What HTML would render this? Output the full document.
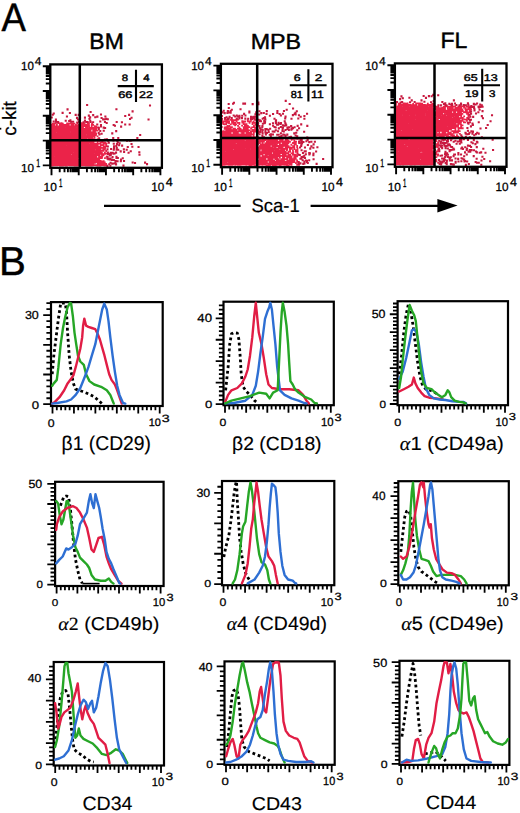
<!DOCTYPE html>
<html><head><meta charset="utf-8"><style>
html,body{margin:0;padding:0;background:#fff;}
svg{display:block;}
text{font-family:"Liberation Sans", sans-serif;font-size:100px;fill:#000;stroke:#000;text-rendering:geometricPrecision;}
</style></head><body>
<svg width="520" height="813" viewBox="0 0 520 813">
<rect width="520" height="813" fill="#fff"/>
<path fill="#eb2349" d="M51.73 122.64h1.8v1.8h-1.8zM53.46 122.62h1.8v1.8h-1.8zM54.86 122.37h1.8v1.8h-1.8zM57.55 122.29h1.8v1.8h-1.8zM59.34 122.57h1.8v1.8h-1.8zM60.68 122.3h1.8v1.8h-1.8zM61.86 122.72h1.8v1.8h-1.8zM66.2 122.51h1.8v1.8h-1.8zM67.64 122.59h1.8v1.8h-1.8zM69.01 122.46h1.8v1.8h-1.8zM70.46 122.35h1.8v1.8h-1.8zM72.17 122.67h1.8v1.8h-1.8zM73.62 122.7h1.8v1.8h-1.8zM76.53 122.29h1.8v1.8h-1.8zM80.92 122.34h1.8v1.8h-1.8zM82.45 122.44h1.8v1.8h-1.8zM83.72 122.28h1.8v1.8h-1.8zM86.77 122.47h1.8v1.8h-1.8zM88.06 122.34h1.8v1.8h-1.8zM91.12 122.74h1.8v1.8h-1.8zM50.27 123.91h1.8v1.8h-1.8zM51.93 123.93h1.8v1.8h-1.8zM53.45 123.85h1.8v1.8h-1.8zM55.97 123.82h1.8v1.8h-1.8zM58.99 123.75h1.8v1.8h-1.8zM60.61 123.75h1.8v1.8h-1.8zM62.15 123.93h1.8v1.8h-1.8zM63.32 124.07h1.8v1.8h-1.8zM64.98 123.9h1.8v1.8h-1.8zM66.43 124.01h1.8v1.8h-1.8zM67.83 123.77h1.8v1.8h-1.8zM70.58 123.73h1.8v1.8h-1.8zM72.16 124.06h1.8v1.8h-1.8zM74.83 123.89h1.8v1.8h-1.8zM76.37 124.2h1.8v1.8h-1.8zM77.88 123.97h1.8v1.8h-1.8zM79.19 124.04h1.8v1.8h-1.8zM80.64 123.97h1.8v1.8h-1.8zM82.3 123.97h1.8v1.8h-1.8zM83.55 124.02h1.8v1.8h-1.8zM85.22 123.95h1.8v1.8h-1.8zM86.86 123.86h1.8v1.8h-1.8zM88 123.98h1.8v1.8h-1.8zM90.89 123.99h1.8v1.8h-1.8zM92.25 123.98h1.8v1.8h-1.8zM50.22 125.23h1.8v1.8h-1.8zM51.95 125.42h1.8v1.8h-1.8zM53.39 125.52h1.8v1.8h-1.8zM54.58 125.42h1.8v1.8h-1.8zM56.01 125.33h1.8v1.8h-1.8zM57.84 125.46h1.8v1.8h-1.8zM59.3 125.29h1.8v1.8h-1.8zM60.37 125.37h1.8v1.8h-1.8zM61.94 125.45h1.8v1.8h-1.8zM63.49 125.54h1.8v1.8h-1.8zM64.71 125.58h1.8v1.8h-1.8zM66.35 125.47h1.8v1.8h-1.8zM67.95 125.43h1.8v1.8h-1.8zM69.31 125.39h1.8v1.8h-1.8zM70.55 125.33h1.8v1.8h-1.8zM72.25 125.62h1.8v1.8h-1.8zM73.78 125.15h1.8v1.8h-1.8zM75.07 125.61h1.8v1.8h-1.8zM76.62 125.51h1.8v1.8h-1.8zM78.17 125.23h1.8v1.8h-1.8zM79.33 125.18h1.8v1.8h-1.8zM80.77 125.64h1.8v1.8h-1.8zM82.47 125.47h1.8v1.8h-1.8zM83.58 125.31h1.8v1.8h-1.8zM85.05 125.59h1.8v1.8h-1.8zM86.81 125.16h1.8v1.8h-1.8zM88.14 125.21h1.8v1.8h-1.8zM90.78 125.39h1.8v1.8h-1.8zM93.7 125.31h1.8v1.8h-1.8zM95.22 125.47h1.8v1.8h-1.8zM50.25 126.83h1.8v1.8h-1.8zM51.79 127.08h1.8v1.8h-1.8zM53.3 127.05h1.8v1.8h-1.8zM54.88 127.02h1.8v1.8h-1.8zM55.97 126.66h1.8v1.8h-1.8zM57.72 127.05h1.8v1.8h-1.8zM59.09 126.68h1.8v1.8h-1.8zM60.61 126.74h1.8v1.8h-1.8zM62 126.89h1.8v1.8h-1.8zM63.27 126.89h1.8v1.8h-1.8zM65.13 126.78h1.8v1.8h-1.8zM66.54 126.73h1.8v1.8h-1.8zM67.57 126.84h1.8v1.8h-1.8zM69.31 126.76h1.8v1.8h-1.8zM70.67 126.97h1.8v1.8h-1.8zM72.18 126.73h1.8v1.8h-1.8zM73.53 127.05h1.8v1.8h-1.8zM74.83 126.87h1.8v1.8h-1.8zM76.71 126.66h1.8v1.8h-1.8zM78.09 127.02h1.8v1.8h-1.8zM79.35 127h1.8v1.8h-1.8zM80.9 126.94h1.8v1.8h-1.8zM82.11 126.84h1.8v1.8h-1.8zM85.08 126.93h1.8v1.8h-1.8zM86.48 126.87h1.8v1.8h-1.8zM88.32 126.93h1.8v1.8h-1.8zM89.64 127.09h1.8v1.8h-1.8zM90.87 126.9h1.8v1.8h-1.8zM92.27 126.93h1.8v1.8h-1.8zM93.94 127.02h1.8v1.8h-1.8zM95.17 126.64h1.8v1.8h-1.8zM96.86 126.6h1.8v1.8h-1.8zM50.29 128.31h1.8v1.8h-1.8zM51.97 128.35h1.8v1.8h-1.8zM53.28 128.1h1.8v1.8h-1.8zM54.65 128.4h1.8v1.8h-1.8zM56.12 128.16h1.8v1.8h-1.8zM57.45 128.34h1.8v1.8h-1.8zM58.96 128.22h1.8v1.8h-1.8zM60.7 128.05h1.8v1.8h-1.8zM62.18 128.32h1.8v1.8h-1.8zM63.24 128.46h1.8v1.8h-1.8zM65.02 128.22h1.8v1.8h-1.8zM66.59 128.08h1.8v1.8h-1.8zM67.94 128.28h1.8v1.8h-1.8zM69.29 128.26h1.8v1.8h-1.8zM70.57 128.42h1.8v1.8h-1.8zM72.27 128.2h1.8v1.8h-1.8zM73.54 128.37h1.8v1.8h-1.8zM74.98 128.25h1.8v1.8h-1.8zM76.58 128.38h1.8v1.8h-1.8zM78.02 128.21h1.8v1.8h-1.8zM79.51 128.39h1.8v1.8h-1.8zM81.1 128.52h1.8v1.8h-1.8zM82.4 128.3h1.8v1.8h-1.8zM83.82 128.05h1.8v1.8h-1.8zM85.27 128.49h1.8v1.8h-1.8zM86.66 128.29h1.8v1.8h-1.8zM88.12 128.48h1.8v1.8h-1.8zM89.65 128.08h1.8v1.8h-1.8zM91.11 128.05h1.8v1.8h-1.8zM92.58 128.49h1.8v1.8h-1.8zM94.06 128.51h1.8v1.8h-1.8zM95.21 128.41h1.8v1.8h-1.8zM50.18 129.73h1.8v1.8h-1.8zM51.82 129.82h1.8v1.8h-1.8zM53.37 129.69h1.8v1.8h-1.8zM54.73 129.6h1.8v1.8h-1.8zM56.27 129.99h1.8v1.8h-1.8zM57.54 129.63h1.8v1.8h-1.8zM58.95 129.81h1.8v1.8h-1.8zM60.6 129.69h1.8v1.8h-1.8zM62.04 129.67h1.8v1.8h-1.8zM63.51 129.83h1.8v1.8h-1.8zM64.9 129.87h1.8v1.8h-1.8zM66.39 129.54h1.8v1.8h-1.8zM67.73 129.82h1.8v1.8h-1.8zM69.18 129.5h1.8v1.8h-1.8zM70.65 129.82h1.8v1.8h-1.8zM72.27 129.98h1.8v1.8h-1.8zM73.67 129.94h1.8v1.8h-1.8zM75.03 129.98h1.8v1.8h-1.8zM76.62 129.56h1.8v1.8h-1.8zM78.07 129.65h1.8v1.8h-1.8zM79.36 129.94h1.8v1.8h-1.8zM81.09 129.82h1.8v1.8h-1.8zM82.29 129.56h1.8v1.8h-1.8zM83.92 129.54h1.8v1.8h-1.8zM85.17 129.63h1.8v1.8h-1.8zM86.67 129.74h1.8v1.8h-1.8zM88.05 129.92h1.8v1.8h-1.8zM89.66 129.87h1.8v1.8h-1.8zM92.31 129.92h1.8v1.8h-1.8zM94.03 129.99h1.8v1.8h-1.8zM95.4 129.64h1.8v1.8h-1.8zM96.81 129.74h1.8v1.8h-1.8zM50.65 131.44h1.8v1.8h-1.8zM51.83 131.13h1.8v1.8h-1.8zM53.17 131.42h1.8v1.8h-1.8zM54.52 130.96h1.8v1.8h-1.8zM56.42 131.1h1.8v1.8h-1.8zM57.71 131.4h1.8v1.8h-1.8zM59.1 131.18h1.8v1.8h-1.8zM60.76 131.02h1.8v1.8h-1.8zM62.09 131.34h1.8v1.8h-1.8zM63.49 131.34h1.8v1.8h-1.8zM65.07 131.09h1.8v1.8h-1.8zM66.11 131.02h1.8v1.8h-1.8zM67.59 131.34h1.8v1.8h-1.8zM69 131.37h1.8v1.8h-1.8zM70.88 131.2h1.8v1.8h-1.8zM72.26 130.97h1.8v1.8h-1.8zM73.82 130.99h1.8v1.8h-1.8zM74.95 131.24h1.8v1.8h-1.8zM76.29 131.27h1.8v1.8h-1.8zM77.81 131.33h1.8v1.8h-1.8zM79.5 131.35h1.8v1.8h-1.8zM80.82 131.41h1.8v1.8h-1.8zM82.43 131.24h1.8v1.8h-1.8zM83.97 130.95h1.8v1.8h-1.8zM84.96 131.07h1.8v1.8h-1.8zM86.76 131.06h1.8v1.8h-1.8zM88.17 131.39h1.8v1.8h-1.8zM89.46 131.33h1.8v1.8h-1.8zM91.19 131.4h1.8v1.8h-1.8zM92.55 131.19h1.8v1.8h-1.8zM94.08 131.36h1.8v1.8h-1.8zM50.58 132.64h1.8v1.8h-1.8zM51.82 132.8h1.8v1.8h-1.8zM53.21 132.65h1.8v1.8h-1.8zM54.62 132.79h1.8v1.8h-1.8zM56.07 132.86h1.8v1.8h-1.8zM57.79 132.81h1.8v1.8h-1.8zM58.85 132.77h1.8v1.8h-1.8zM60.38 132.68h1.8v1.8h-1.8zM62.19 132.5h1.8v1.8h-1.8zM63.5 132.82h1.8v1.8h-1.8zM64.76 132.84h1.8v1.8h-1.8zM66.18 132.58h1.8v1.8h-1.8zM67.92 132.9h1.8v1.8h-1.8zM69.04 132.46h1.8v1.8h-1.8zM70.7 132.51h1.8v1.8h-1.8zM72.25 132.49h1.8v1.8h-1.8zM73.62 132.42h1.8v1.8h-1.8zM74.89 132.7h1.8v1.8h-1.8zM76.5 132.72h1.8v1.8h-1.8zM77.77 132.55h1.8v1.8h-1.8zM79.58 132.78h1.8v1.8h-1.8zM80.73 132.56h1.8v1.8h-1.8zM82.15 132.67h1.8v1.8h-1.8zM83.7 132.81h1.8v1.8h-1.8zM85.41 132.6h1.8v1.8h-1.8zM86.71 132.77h1.8v1.8h-1.8zM88.11 132.68h1.8v1.8h-1.8zM89.65 132.77h1.8v1.8h-1.8zM90.78 132.57h1.8v1.8h-1.8zM92.43 132.55h1.8v1.8h-1.8zM93.83 132.88h1.8v1.8h-1.8zM95.22 132.41h1.8v1.8h-1.8zM50.36 134.35h1.8v1.8h-1.8zM51.86 133.98h1.8v1.8h-1.8zM53.25 133.9h1.8v1.8h-1.8zM54.77 134.34h1.8v1.8h-1.8zM55.95 134.25h1.8v1.8h-1.8zM57.46 134.12h1.8v1.8h-1.8zM59.28 134.07h1.8v1.8h-1.8zM60.74 134.13h1.8v1.8h-1.8zM62.07 134.26h1.8v1.8h-1.8zM63.46 134.33h1.8v1.8h-1.8zM64.76 134.18h1.8v1.8h-1.8zM66.28 134.13h1.8v1.8h-1.8zM67.96 134.03h1.8v1.8h-1.8zM69.12 134.27h1.8v1.8h-1.8zM70.83 134.25h1.8v1.8h-1.8zM72.01 134.14h1.8v1.8h-1.8zM73.62 134.02h1.8v1.8h-1.8zM75.06 134.09h1.8v1.8h-1.8zM76.39 134.31h1.8v1.8h-1.8zM78 134.26h1.8v1.8h-1.8zM79.26 133.99h1.8v1.8h-1.8zM80.96 134.11h1.8v1.8h-1.8zM82.42 134.26h1.8v1.8h-1.8zM83.61 134.31h1.8v1.8h-1.8zM84.96 134.01h1.8v1.8h-1.8zM86.9 133.94h1.8v1.8h-1.8zM87.88 134.27h1.8v1.8h-1.8zM89.63 133.85h1.8v1.8h-1.8zM91.23 134.21h1.8v1.8h-1.8zM92.61 134.05h1.8v1.8h-1.8zM94.1 134.13h1.8v1.8h-1.8zM95.14 133.9h1.8v1.8h-1.8zM50.3 135.38h1.8v1.8h-1.8zM51.75 135.41h1.8v1.8h-1.8zM53.55 135.65h1.8v1.8h-1.8zM54.67 135.79h1.8v1.8h-1.8zM56.4 135.78h1.8v1.8h-1.8zM57.52 135.69h1.8v1.8h-1.8zM59.02 135.67h1.8v1.8h-1.8zM60.75 135.42h1.8v1.8h-1.8zM61.94 135.32h1.8v1.8h-1.8zM63.56 135.48h1.8v1.8h-1.8zM65.12 135.76h1.8v1.8h-1.8zM66.56 135.46h1.8v1.8h-1.8zM67.97 135.59h1.8v1.8h-1.8zM69.01 135.56h1.8v1.8h-1.8zM70.56 135.54h1.8v1.8h-1.8zM72.24 135.78h1.8v1.8h-1.8zM73.72 135.74h1.8v1.8h-1.8zM74.94 135.44h1.8v1.8h-1.8zM76.6 135.72h1.8v1.8h-1.8zM77.98 135.61h1.8v1.8h-1.8zM79.46 135.37h1.8v1.8h-1.8zM81 135.61h1.8v1.8h-1.8zM82.29 135.42h1.8v1.8h-1.8zM83.63 135.74h1.8v1.8h-1.8zM85.14 135.63h1.8v1.8h-1.8zM86.68 135.34h1.8v1.8h-1.8zM88.21 135.36h1.8v1.8h-1.8zM89.74 135.36h1.8v1.8h-1.8zM90.93 135.4h1.8v1.8h-1.8zM92.66 135.65h1.8v1.8h-1.8zM93.71 135.36h1.8v1.8h-1.8zM96.58 135.4h1.8v1.8h-1.8zM50.4 136.8h1.8v1.8h-1.8zM52.01 137h1.8v1.8h-1.8zM53.28 136.77h1.8v1.8h-1.8zM54.94 137.03h1.8v1.8h-1.8zM56.01 136.81h1.8v1.8h-1.8zM57.63 137.1h1.8v1.8h-1.8zM59.1 137.2h1.8v1.8h-1.8zM60.5 137.2h1.8v1.8h-1.8zM61.93 137.05h1.8v1.8h-1.8zM63.42 136.96h1.8v1.8h-1.8zM64.85 136.86h1.8v1.8h-1.8zM66.12 136.9h1.8v1.8h-1.8zM67.62 136.79h1.8v1.8h-1.8zM69.37 137.02h1.8v1.8h-1.8zM70.86 136.89h1.8v1.8h-1.8zM72.35 137.21h1.8v1.8h-1.8zM73.81 137.06h1.8v1.8h-1.8zM74.84 137.03h1.8v1.8h-1.8zM76.5 136.88h1.8v1.8h-1.8zM78.04 136.9h1.8v1.8h-1.8zM79.18 137.04h1.8v1.8h-1.8zM80.66 137.11h1.8v1.8h-1.8zM82.41 137.24h1.8v1.8h-1.8zM83.95 137.15h1.8v1.8h-1.8zM85.29 137h1.8v1.8h-1.8zM86.82 136.78h1.8v1.8h-1.8zM88.21 137.01h1.8v1.8h-1.8zM89.48 136.77h1.8v1.8h-1.8zM91.24 136.96h1.8v1.8h-1.8zM93.66 136.77h1.8v1.8h-1.8zM50.32 138.54h1.8v1.8h-1.8zM51.73 138.51h1.8v1.8h-1.8zM53.2 138.43h1.8v1.8h-1.8zM54.58 138.53h1.8v1.8h-1.8zM55.98 138.56h1.8v1.8h-1.8zM57.71 138.64h1.8v1.8h-1.8zM59.01 138.32h1.8v1.8h-1.8zM60.44 138.54h1.8v1.8h-1.8zM62.23 138.65h1.8v1.8h-1.8zM63.47 138.23h1.8v1.8h-1.8zM64.76 138.22h1.8v1.8h-1.8zM66.37 138.28h1.8v1.8h-1.8zM68.01 138.3h1.8v1.8h-1.8zM69.05 138.48h1.8v1.8h-1.8zM70.47 138.6h1.8v1.8h-1.8zM72.3 138.65h1.8v1.8h-1.8zM73.36 138.48h1.8v1.8h-1.8zM75.16 138.52h1.8v1.8h-1.8zM76.5 138.35h1.8v1.8h-1.8zM77.98 138.32h1.8v1.8h-1.8zM79.37 138.5h1.8v1.8h-1.8zM80.89 138.69h1.8v1.8h-1.8zM82.47 138.54h1.8v1.8h-1.8zM83.72 138.29h1.8v1.8h-1.8zM85.36 138.32h1.8v1.8h-1.8zM86.62 138.67h1.8v1.8h-1.8zM87.92 138.43h1.8v1.8h-1.8zM89.67 138.34h1.8v1.8h-1.8zM91.06 138.53h1.8v1.8h-1.8zM92.64 138.24h1.8v1.8h-1.8zM93.87 138.69h1.8v1.8h-1.8zM96.68 138.21h1.8v1.8h-1.8zM50.51 139.72h1.8v1.8h-1.8zM51.62 140.12h1.8v1.8h-1.8zM53.46 139.9h1.8v1.8h-1.8zM54.63 139.83h1.8v1.8h-1.8zM56.31 140h1.8v1.8h-1.8zM57.82 139.96h1.8v1.8h-1.8zM59.24 139.76h1.8v1.8h-1.8zM60.7 140.07h1.8v1.8h-1.8zM62.15 140.03h1.8v1.8h-1.8zM63.68 139.81h1.8v1.8h-1.8zM65.09 140.07h1.8v1.8h-1.8zM66.47 139.84h1.8v1.8h-1.8zM67.99 140.02h1.8v1.8h-1.8zM69.24 139.97h1.8v1.8h-1.8zM70.88 139.68h1.8v1.8h-1.8zM72.35 139.79h1.8v1.8h-1.8zM73.74 139.95h1.8v1.8h-1.8zM75.02 140.1h1.8v1.8h-1.8zM76.51 140.04h1.8v1.8h-1.8zM78.19 140.03h1.8v1.8h-1.8zM79.35 139.81h1.8v1.8h-1.8zM80.97 139.69h1.8v1.8h-1.8zM82.3 139.9h1.8v1.8h-1.8zM83.91 139.88h1.8v1.8h-1.8zM85.27 140.1h1.8v1.8h-1.8zM86.41 139.79h1.8v1.8h-1.8zM88 139.8h1.8v1.8h-1.8zM89.32 139.94h1.8v1.8h-1.8zM91.14 139.9h1.8v1.8h-1.8zM92.6 140.13h1.8v1.8h-1.8zM94.07 139.92h1.8v1.8h-1.8zM95.24 139.67h1.8v1.8h-1.8zM96.73 139.92h1.8v1.8h-1.8zM98.24 139.84h1.8v1.8h-1.8zM101.3 140.03h1.8v1.8h-1.8zM50.36 141.44h1.8v1.8h-1.8zM51.62 141.33h1.8v1.8h-1.8zM53.3 141.12h1.8v1.8h-1.8zM54.7 141.2h1.8v1.8h-1.8zM56.34 141.54h1.8v1.8h-1.8zM57.42 141.38h1.8v1.8h-1.8zM59.09 141.41h1.8v1.8h-1.8zM60.63 141.18h1.8v1.8h-1.8zM62.09 141.34h1.8v1.8h-1.8zM63.64 141.59h1.8v1.8h-1.8zM64.81 141.39h1.8v1.8h-1.8zM66.29 141.46h1.8v1.8h-1.8zM67.91 141.4h1.8v1.8h-1.8zM69.24 141.31h1.8v1.8h-1.8zM70.7 141.56h1.8v1.8h-1.8zM72.17 141.56h1.8v1.8h-1.8zM73.72 141.31h1.8v1.8h-1.8zM74.95 141.36h1.8v1.8h-1.8zM76.7 141.24h1.8v1.8h-1.8zM77.97 141.48h1.8v1.8h-1.8zM79.4 141.12h1.8v1.8h-1.8zM81.08 141.27h1.8v1.8h-1.8zM82.45 141.21h1.8v1.8h-1.8zM83.82 141.32h1.8v1.8h-1.8zM85.14 141.12h1.8v1.8h-1.8zM86.9 141.21h1.8v1.8h-1.8zM88.18 141.38h1.8v1.8h-1.8zM89.44 141.44h1.8v1.8h-1.8zM91.13 141.2h1.8v1.8h-1.8zM92.31 141.39h1.8v1.8h-1.8zM96.62 141.52h1.8v1.8h-1.8zM99.63 141.33h1.8v1.8h-1.8zM100.9 141.18h1.8v1.8h-1.8zM102.69 141.17h1.8v1.8h-1.8zM104.18 141.43h1.8v1.8h-1.8zM50.23 143.03h1.8v1.8h-1.8zM51.94 142.6h1.8v1.8h-1.8zM53.25 142.62h1.8v1.8h-1.8zM54.99 142.69h1.8v1.8h-1.8zM56.37 142.82h1.8v1.8h-1.8zM57.48 142.58h1.8v1.8h-1.8zM59.03 143.01h1.8v1.8h-1.8zM60.53 142.69h1.8v1.8h-1.8zM62.12 142.91h1.8v1.8h-1.8zM63.34 142.61h1.8v1.8h-1.8zM64.95 142.75h1.8v1.8h-1.8zM66.37 142.86h1.8v1.8h-1.8zM68.05 142.61h1.8v1.8h-1.8zM69.17 142.67h1.8v1.8h-1.8zM70.63 142.74h1.8v1.8h-1.8zM72.11 142.9h1.8v1.8h-1.8zM73.66 142.8h1.8v1.8h-1.8zM74.99 142.98h1.8v1.8h-1.8zM76.73 142.58h1.8v1.8h-1.8zM77.9 142.75h1.8v1.8h-1.8zM79.18 142.98h1.8v1.8h-1.8zM80.82 142.86h1.8v1.8h-1.8zM82.12 142.65h1.8v1.8h-1.8zM83.51 142.94h1.8v1.8h-1.8zM85.16 142.74h1.8v1.8h-1.8zM86.45 142.96h1.8v1.8h-1.8zM87.86 142.74h1.8v1.8h-1.8zM89.77 142.91h1.8v1.8h-1.8zM91.07 142.59h1.8v1.8h-1.8zM92.61 142.9h1.8v1.8h-1.8zM93.7 142.55h1.8v1.8h-1.8zM95.44 142.93h1.8v1.8h-1.8zM96.81 143.02h1.8v1.8h-1.8zM98.45 142.81h1.8v1.8h-1.8zM99.82 142.57h1.8v1.8h-1.8zM102.41 142.63h1.8v1.8h-1.8zM104.23 142.58h1.8v1.8h-1.8zM105.71 142.57h1.8v1.8h-1.8zM50.16 144.15h1.8v1.8h-1.8zM51.84 144.38h1.8v1.8h-1.8zM53.25 144.22h1.8v1.8h-1.8zM54.53 144.23h1.8v1.8h-1.8zM56.11 144.39h1.8v1.8h-1.8zM57.82 144.04h1.8v1.8h-1.8zM58.93 144.43h1.8v1.8h-1.8zM60.45 144.29h1.8v1.8h-1.8zM61.98 144.48h1.8v1.8h-1.8zM63.43 144.37h1.8v1.8h-1.8zM64.67 144.12h1.8v1.8h-1.8zM66.53 144.07h1.8v1.8h-1.8zM67.98 144.48h1.8v1.8h-1.8zM69.39 144.35h1.8v1.8h-1.8zM70.94 144.44h1.8v1.8h-1.8zM72.11 144.06h1.8v1.8h-1.8zM73.75 144.17h1.8v1.8h-1.8zM75.29 144.29h1.8v1.8h-1.8zM76.73 144.26h1.8v1.8h-1.8zM78.11 144.42h1.8v1.8h-1.8zM79.6 144.47h1.8v1.8h-1.8zM80.65 144.25h1.8v1.8h-1.8zM82.11 144.45h1.8v1.8h-1.8zM83.67 144.35h1.8v1.8h-1.8zM85.27 144.25h1.8v1.8h-1.8zM86.64 144.19h1.8v1.8h-1.8zM87.86 144.26h1.8v1.8h-1.8zM89.57 144.27h1.8v1.8h-1.8zM90.8 144.46h1.8v1.8h-1.8zM92.61 144.43h1.8v1.8h-1.8zM94.05 144.13h1.8v1.8h-1.8zM95.55 144.02h1.8v1.8h-1.8zM96.74 144.38h1.8v1.8h-1.8zM99.83 144.15h1.8v1.8h-1.8zM100.98 144.32h1.8v1.8h-1.8zM102.64 144.18h1.8v1.8h-1.8zM105.26 144.04h1.8v1.8h-1.8zM50.56 145.59h1.8v1.8h-1.8zM52.02 145.46h1.8v1.8h-1.8zM53.5 145.48h1.8v1.8h-1.8zM54.86 145.64h1.8v1.8h-1.8zM56.19 145.59h1.8v1.8h-1.8zM57.65 145.49h1.8v1.8h-1.8zM59.03 145.58h1.8v1.8h-1.8zM60.69 145.88h1.8v1.8h-1.8zM62.03 145.81h1.8v1.8h-1.8zM63.23 145.84h1.8v1.8h-1.8zM64.82 145.8h1.8v1.8h-1.8zM66.57 145.57h1.8v1.8h-1.8zM67.76 145.53h1.8v1.8h-1.8zM69.48 145.73h1.8v1.8h-1.8zM70.7 145.5h1.8v1.8h-1.8zM72.04 145.8h1.8v1.8h-1.8zM73.46 145.47h1.8v1.8h-1.8zM74.87 145.51h1.8v1.8h-1.8zM76.41 145.74h1.8v1.8h-1.8zM78.15 145.57h1.8v1.8h-1.8zM79.38 145.92h1.8v1.8h-1.8zM80.86 145.82h1.8v1.8h-1.8zM82.31 145.81h1.8v1.8h-1.8zM83.57 145.51h1.8v1.8h-1.8zM85.4 145.9h1.8v1.8h-1.8zM86.88 145.65h1.8v1.8h-1.8zM88.11 145.66h1.8v1.8h-1.8zM89.65 145.86h1.8v1.8h-1.8zM91.16 145.56h1.8v1.8h-1.8zM92.49 145.91h1.8v1.8h-1.8zM93.92 145.95h1.8v1.8h-1.8zM95.21 145.58h1.8v1.8h-1.8zM96.84 145.56h1.8v1.8h-1.8zM98.07 145.95h1.8v1.8h-1.8zM99.64 145.51h1.8v1.8h-1.8zM102.71 145.49h1.8v1.8h-1.8zM103.8 145.69h1.8v1.8h-1.8zM105.59 145.45h1.8v1.8h-1.8zM50.2 147.16h1.8v1.8h-1.8zM51.93 147.11h1.8v1.8h-1.8zM53.44 147.1h1.8v1.8h-1.8zM54.99 147.36h1.8v1.8h-1.8zM56.01 147.17h1.8v1.8h-1.8zM57.7 147.29h1.8v1.8h-1.8zM59.08 147.33h1.8v1.8h-1.8zM60.41 147.31h1.8v1.8h-1.8zM62.19 147.22h1.8v1.8h-1.8zM63.35 146.93h1.8v1.8h-1.8zM64.96 147.32h1.8v1.8h-1.8zM66.45 147.22h1.8v1.8h-1.8zM67.97 147.11h1.8v1.8h-1.8zM69.47 147.01h1.8v1.8h-1.8zM70.86 147.06h1.8v1.8h-1.8zM72.29 147h1.8v1.8h-1.8zM73.72 147.26h1.8v1.8h-1.8zM75.17 147.24h1.8v1.8h-1.8zM76.32 147.31h1.8v1.8h-1.8zM77.82 147.15h1.8v1.8h-1.8zM79.22 147h1.8v1.8h-1.8zM80.93 147.17h1.8v1.8h-1.8zM82.23 147.03h1.8v1.8h-1.8zM83.9 146.94h1.8v1.8h-1.8zM85.2 147.09h1.8v1.8h-1.8zM86.5 147.22h1.8v1.8h-1.8zM88.3 147.11h1.8v1.8h-1.8zM89.74 147.13h1.8v1.8h-1.8zM91.18 146.96h1.8v1.8h-1.8zM92.55 147.04h1.8v1.8h-1.8zM93.89 147.34h1.8v1.8h-1.8zM95.27 147.27h1.8v1.8h-1.8zM96.72 147.04h1.8v1.8h-1.8zM98.29 147.14h1.8v1.8h-1.8zM99.76 146.97h1.8v1.8h-1.8zM100.95 146.91h1.8v1.8h-1.8zM102.79 147h1.8v1.8h-1.8zM104.22 146.91h1.8v1.8h-1.8zM50.53 148.44h1.8v1.8h-1.8zM51.67 148.76h1.8v1.8h-1.8zM53.11 148.76h1.8v1.8h-1.8zM54.57 148.54h1.8v1.8h-1.8zM55.97 148.44h1.8v1.8h-1.8zM57.41 148.72h1.8v1.8h-1.8zM58.97 148.6h1.8v1.8h-1.8zM60.77 148.52h1.8v1.8h-1.8zM61.78 148.37h1.8v1.8h-1.8zM63.55 148.66h1.8v1.8h-1.8zM64.83 148.38h1.8v1.8h-1.8zM66.13 148.79h1.8v1.8h-1.8zM67.8 148.61h1.8v1.8h-1.8zM69.26 148.67h1.8v1.8h-1.8zM70.74 148.64h1.8v1.8h-1.8zM72.14 148.61h1.8v1.8h-1.8zM73.47 148.61h1.8v1.8h-1.8zM75.3 148.51h1.8v1.8h-1.8zM76.5 148.43h1.8v1.8h-1.8zM78.1 148.43h1.8v1.8h-1.8zM79.39 148.43h1.8v1.8h-1.8zM81.04 148.45h1.8v1.8h-1.8zM82.37 148.82h1.8v1.8h-1.8zM83.56 148.84h1.8v1.8h-1.8zM85.36 148.78h1.8v1.8h-1.8zM86.88 148.37h1.8v1.8h-1.8zM88.15 148.68h1.8v1.8h-1.8zM89.39 148.44h1.8v1.8h-1.8zM91.04 148.54h1.8v1.8h-1.8zM92.57 148.42h1.8v1.8h-1.8zM93.65 148.8h1.8v1.8h-1.8zM95.58 148.62h1.8v1.8h-1.8zM96.61 148.57h1.8v1.8h-1.8zM98.08 148.74h1.8v1.8h-1.8zM99.5 148.82h1.8v1.8h-1.8zM102.37 148.36h1.8v1.8h-1.8zM104.03 148.79h1.8v1.8h-1.8zM50.56 149.84h1.8v1.8h-1.8zM51.72 149.85h1.8v1.8h-1.8zM53.37 149.9h1.8v1.8h-1.8zM54.88 150.01h1.8v1.8h-1.8zM55.99 149.91h1.8v1.8h-1.8zM57.7 150.23h1.8v1.8h-1.8zM59.14 149.98h1.8v1.8h-1.8zM60.64 150.08h1.8v1.8h-1.8zM61.93 150.02h1.8v1.8h-1.8zM63.23 150.05h1.8v1.8h-1.8zM64.91 150.09h1.8v1.8h-1.8zM66.55 149.88h1.8v1.8h-1.8zM68 149.9h1.8v1.8h-1.8zM69.22 150.23h1.8v1.8h-1.8zM70.94 149.86h1.8v1.8h-1.8zM72.18 149.91h1.8v1.8h-1.8zM73.85 149.92h1.8v1.8h-1.8zM75.08 150.02h1.8v1.8h-1.8zM76.7 150.1h1.8v1.8h-1.8zM77.88 150.27h1.8v1.8h-1.8zM79.37 149.84h1.8v1.8h-1.8zM80.85 150h1.8v1.8h-1.8zM82.09 149.91h1.8v1.8h-1.8zM83.72 149.99h1.8v1.8h-1.8zM84.99 150.01h1.8v1.8h-1.8zM86.73 150.2h1.8v1.8h-1.8zM88.01 150.13h1.8v1.8h-1.8zM89.62 150.29h1.8v1.8h-1.8zM90.91 150.05h1.8v1.8h-1.8zM92.33 149.91h1.8v1.8h-1.8zM94.09 150.13h1.8v1.8h-1.8zM95.43 150.3h1.8v1.8h-1.8zM96.64 149.91h1.8v1.8h-1.8zM98.25 150.14h1.8v1.8h-1.8zM99.81 149.88h1.8v1.8h-1.8zM101.09 149.82h1.8v1.8h-1.8zM102.49 149.92h1.8v1.8h-1.8zM105.29 150.11h1.8v1.8h-1.8zM50.28 151.57h1.8v1.8h-1.8zM51.73 151.73h1.8v1.8h-1.8zM53.2 151.7h1.8v1.8h-1.8zM54.71 151.42h1.8v1.8h-1.8zM56.43 151.32h1.8v1.8h-1.8zM57.77 151.69h1.8v1.8h-1.8zM58.98 151.57h1.8v1.8h-1.8zM60.58 151.58h1.8v1.8h-1.8zM61.88 151.27h1.8v1.8h-1.8zM63.7 151.41h1.8v1.8h-1.8zM64.71 151.69h1.8v1.8h-1.8zM66.3 151.34h1.8v1.8h-1.8zM67.64 151.42h1.8v1.8h-1.8zM69.11 151.61h1.8v1.8h-1.8zM70.79 151.58h1.8v1.8h-1.8zM71.93 151.57h1.8v1.8h-1.8zM73.78 151.54h1.8v1.8h-1.8zM75.05 151.68h1.8v1.8h-1.8zM76.54 151.46h1.8v1.8h-1.8zM78.13 151.32h1.8v1.8h-1.8zM79.37 151.72h1.8v1.8h-1.8zM80.94 151.42h1.8v1.8h-1.8zM82.45 151.49h1.8v1.8h-1.8zM83.68 151.5h1.8v1.8h-1.8zM85.35 151.6h1.8v1.8h-1.8zM86.82 151.59h1.8v1.8h-1.8zM88.22 151.56h1.8v1.8h-1.8zM89.55 151.5h1.8v1.8h-1.8zM90.76 151.71h1.8v1.8h-1.8zM92.37 151.33h1.8v1.8h-1.8zM93.78 151.39h1.8v1.8h-1.8zM95.52 151.31h1.8v1.8h-1.8zM96.75 151.53h1.8v1.8h-1.8zM98.08 151.25h1.8v1.8h-1.8zM99.86 151.55h1.8v1.8h-1.8zM100.95 151.74h1.8v1.8h-1.8zM103.96 151.63h1.8v1.8h-1.8zM50.51 152.93h1.8v1.8h-1.8zM51.78 152.94h1.8v1.8h-1.8zM53.3 153.03h1.8v1.8h-1.8zM54.86 152.79h1.8v1.8h-1.8zM56.41 152.83h1.8v1.8h-1.8zM57.9 153.06h1.8v1.8h-1.8zM59.35 153.15h1.8v1.8h-1.8zM60.65 153.07h1.8v1.8h-1.8zM62.02 152.75h1.8v1.8h-1.8zM63.57 153.06h1.8v1.8h-1.8zM65.12 152.7h1.8v1.8h-1.8zM66.34 152.76h1.8v1.8h-1.8zM67.7 152.81h1.8v1.8h-1.8zM69.01 152.78h1.8v1.8h-1.8zM70.67 152.79h1.8v1.8h-1.8zM72.11 152.97h1.8v1.8h-1.8zM73.35 153.2h1.8v1.8h-1.8zM75.08 152.85h1.8v1.8h-1.8zM76.73 152.99h1.8v1.8h-1.8zM78.19 152.75h1.8v1.8h-1.8zM79.38 152.92h1.8v1.8h-1.8zM80.8 152.89h1.8v1.8h-1.8zM82.42 153.08h1.8v1.8h-1.8zM83.88 153.11h1.8v1.8h-1.8zM85.38 153.06h1.8v1.8h-1.8zM86.88 152.87h1.8v1.8h-1.8zM88.3 153.02h1.8v1.8h-1.8zM89.71 152.81h1.8v1.8h-1.8zM90.9 153.14h1.8v1.8h-1.8zM92.27 153.07h1.8v1.8h-1.8zM94.12 153.15h1.8v1.8h-1.8zM95.56 153.03h1.8v1.8h-1.8zM96.76 152.89h1.8v1.8h-1.8zM98.19 153.02h1.8v1.8h-1.8zM99.87 153.03h1.8v1.8h-1.8zM101.27 153.17h1.8v1.8h-1.8zM102.64 153.15h1.8v1.8h-1.8zM104.15 152.97h1.8v1.8h-1.8zM105.59 152.76h1.8v1.8h-1.8zM50.4 154.58h1.8v1.8h-1.8zM51.98 154.34h1.8v1.8h-1.8zM53.14 154.61h1.8v1.8h-1.8zM54.67 154.31h1.8v1.8h-1.8zM56.19 154.23h1.8v1.8h-1.8zM57.87 154.52h1.8v1.8h-1.8zM59.35 154.42h1.8v1.8h-1.8zM60.53 154.36h1.8v1.8h-1.8zM61.79 154.26h1.8v1.8h-1.8zM63.2 154.32h1.8v1.8h-1.8zM64.88 154.42h1.8v1.8h-1.8zM66.42 154.18h1.8v1.8h-1.8zM67.72 154.61h1.8v1.8h-1.8zM69.36 154.21h1.8v1.8h-1.8zM70.6 154.64h1.8v1.8h-1.8zM72.28 154.38h1.8v1.8h-1.8zM73.57 154.15h1.8v1.8h-1.8zM74.93 154.43h1.8v1.8h-1.8zM76.61 154.32h1.8v1.8h-1.8zM77.84 154.25h1.8v1.8h-1.8zM79.36 154.28h1.8v1.8h-1.8zM80.83 154.48h1.8v1.8h-1.8zM82.18 154.41h1.8v1.8h-1.8zM83.84 154.36h1.8v1.8h-1.8zM85.11 154.4h1.8v1.8h-1.8zM86.67 154.4h1.8v1.8h-1.8zM88.11 154.49h1.8v1.8h-1.8zM89.45 154.28h1.8v1.8h-1.8zM91.24 154.27h1.8v1.8h-1.8zM92.61 154.42h1.8v1.8h-1.8zM93.84 154.43h1.8v1.8h-1.8zM95.49 154.36h1.8v1.8h-1.8zM96.86 154.28h1.8v1.8h-1.8zM98.45 154.6h1.8v1.8h-1.8zM101.16 154.64h1.8v1.8h-1.8zM102.63 154.54h1.8v1.8h-1.8zM50.39 156.06h1.8v1.8h-1.8zM51.66 155.83h1.8v1.8h-1.8zM53.12 155.71h1.8v1.8h-1.8zM54.96 155.74h1.8v1.8h-1.8zM56.15 155.71h1.8v1.8h-1.8zM57.61 155.74h1.8v1.8h-1.8zM59.02 156.07h1.8v1.8h-1.8zM60.79 155.65h1.8v1.8h-1.8zM61.97 155.83h1.8v1.8h-1.8zM63.52 155.61h1.8v1.8h-1.8zM65.06 156.09h1.8v1.8h-1.8zM66.44 156.03h1.8v1.8h-1.8zM67.62 155.68h1.8v1.8h-1.8zM69.31 155.74h1.8v1.8h-1.8zM70.57 155.83h1.8v1.8h-1.8zM72.39 155.62h1.8v1.8h-1.8zM73.67 155.75h1.8v1.8h-1.8zM75.14 156.05h1.8v1.8h-1.8zM76.4 155.73h1.8v1.8h-1.8zM78.09 155.98h1.8v1.8h-1.8zM79.25 156.03h1.8v1.8h-1.8zM80.67 155.65h1.8v1.8h-1.8zM82.37 155.77h1.8v1.8h-1.8zM83.51 155.83h1.8v1.8h-1.8zM85.03 155.79h1.8v1.8h-1.8zM86.6 155.9h1.8v1.8h-1.8zM87.86 155.74h1.8v1.8h-1.8zM89.46 156.09h1.8v1.8h-1.8zM90.76 156.05h1.8v1.8h-1.8zM92.52 155.69h1.8v1.8h-1.8zM94.13 155.71h1.8v1.8h-1.8zM95.43 155.67h1.8v1.8h-1.8zM98.11 156h1.8v1.8h-1.8zM99.68 155.71h1.8v1.8h-1.8zM101.26 155.83h1.8v1.8h-1.8zM105.68 155.71h1.8v1.8h-1.8zM50.54 157.52h1.8v1.8h-1.8zM51.83 157.16h1.8v1.8h-1.8zM53.15 157.17h1.8v1.8h-1.8zM54.59 157.46h1.8v1.8h-1.8zM56.19 157.34h1.8v1.8h-1.8zM57.58 157.49h1.8v1.8h-1.8zM59.15 157.1h1.8v1.8h-1.8zM60.79 157.18h1.8v1.8h-1.8zM62.01 157.15h1.8v1.8h-1.8zM63.46 157.22h1.8v1.8h-1.8zM64.74 157.5h1.8v1.8h-1.8zM66.41 157.5h1.8v1.8h-1.8zM67.98 157.23h1.8v1.8h-1.8zM69.06 157.28h1.8v1.8h-1.8zM70.88 157.12h1.8v1.8h-1.8zM71.96 157.32h1.8v1.8h-1.8zM73.56 157.54h1.8v1.8h-1.8zM74.98 157.15h1.8v1.8h-1.8zM76.44 157.43h1.8v1.8h-1.8zM77.71 157.07h1.8v1.8h-1.8zM79.2 157.12h1.8v1.8h-1.8zM80.78 157.08h1.8v1.8h-1.8zM82.29 157.3h1.8v1.8h-1.8zM83.7 157.11h1.8v1.8h-1.8zM85.45 157.34h1.8v1.8h-1.8zM86.79 157.2h1.8v1.8h-1.8zM88.01 157.19h1.8v1.8h-1.8zM89.52 157.39h1.8v1.8h-1.8zM90.98 157.48h1.8v1.8h-1.8zM92.21 157.41h1.8v1.8h-1.8zM93.69 157.14h1.8v1.8h-1.8zM95.35 157.5h1.8v1.8h-1.8zM96.86 157.48h1.8v1.8h-1.8zM98.46 157.08h1.8v1.8h-1.8zM99.9 157.17h1.8v1.8h-1.8zM100.92 157.17h1.8v1.8h-1.8zM104.07 157.22h1.8v1.8h-1.8zM50.62 158.96h1.8v1.8h-1.8zM51.98 158.54h1.8v1.8h-1.8zM53.37 159h1.8v1.8h-1.8zM54.66 158.85h1.8v1.8h-1.8zM56.35 158.59h1.8v1.8h-1.8zM57.86 158.69h1.8v1.8h-1.8zM59.06 158.76h1.8v1.8h-1.8zM60.46 158.91h1.8v1.8h-1.8zM62.21 158.79h1.8v1.8h-1.8zM63.39 158.87h1.8v1.8h-1.8zM64.99 158.99h1.8v1.8h-1.8zM66.11 158.87h1.8v1.8h-1.8zM67.87 158.69h1.8v1.8h-1.8zM69.19 158.65h1.8v1.8h-1.8zM70.46 158.76h1.8v1.8h-1.8zM72.12 158.58h1.8v1.8h-1.8zM73.56 158.58h1.8v1.8h-1.8zM74.85 158.52h1.8v1.8h-1.8zM76.55 158.52h1.8v1.8h-1.8zM78.01 158.98h1.8v1.8h-1.8zM79.6 158.75h1.8v1.8h-1.8zM81.05 158.98h1.8v1.8h-1.8zM82.39 158.67h1.8v1.8h-1.8zM83.67 158.8h1.8v1.8h-1.8zM85.31 158.67h1.8v1.8h-1.8zM86.44 158.87h1.8v1.8h-1.8zM88.07 158.95h1.8v1.8h-1.8zM89.79 158.64h1.8v1.8h-1.8zM90.88 158.94h1.8v1.8h-1.8zM92.49 158.89h1.8v1.8h-1.8zM93.72 158.92h1.8v1.8h-1.8zM95.17 158.69h1.8v1.8h-1.8zM96.82 158.6h1.8v1.8h-1.8zM98.36 158.89h1.8v1.8h-1.8zM50.52 160.13h1.8v1.8h-1.8zM51.63 160.2h1.8v1.8h-1.8zM53.38 160.13h1.8v1.8h-1.8zM54.57 160.35h1.8v1.8h-1.8zM56.37 160.43h1.8v1.8h-1.8zM57.67 160.31h1.8v1.8h-1.8zM59.23 160.16h1.8v1.8h-1.8zM60.35 160.09h1.8v1.8h-1.8zM61.96 160.32h1.8v1.8h-1.8zM63.41 160.25h1.8v1.8h-1.8zM65.13 160.11h1.8v1.8h-1.8zM66.24 160.01h1.8v1.8h-1.8zM67.91 160.33h1.8v1.8h-1.8zM69.25 160.09h1.8v1.8h-1.8zM70.57 160.14h1.8v1.8h-1.8zM72.19 160.31h1.8v1.8h-1.8zM73.65 160.06h1.8v1.8h-1.8zM75.17 160.14h1.8v1.8h-1.8zM76.6 160.08h1.8v1.8h-1.8zM77.99 160.11h1.8v1.8h-1.8zM79.47 160.35h1.8v1.8h-1.8zM80.88 160.04h1.8v1.8h-1.8zM82.44 159.95h1.8v1.8h-1.8zM83.65 160h1.8v1.8h-1.8zM85.45 160.16h1.8v1.8h-1.8zM86.74 160.2h1.8v1.8h-1.8zM88.19 160.39h1.8v1.8h-1.8zM89.65 160.09h1.8v1.8h-1.8zM91.21 160.26h1.8v1.8h-1.8zM92.67 160.42h1.8v1.8h-1.8zM93.72 160.33h1.8v1.8h-1.8zM95.5 160.13h1.8v1.8h-1.8zM96.62 160.42h1.8v1.8h-1.8zM98.11 160.31h1.8v1.8h-1.8zM99.65 160.05h1.8v1.8h-1.8zM101.16 160.38h1.8v1.8h-1.8zM102.84 160.15h1.8v1.8h-1.8zM50.32 161.46h1.8v1.8h-1.8zM51.76 161.59h1.8v1.8h-1.8zM53.45 161.7h1.8v1.8h-1.8zM54.79 161.78h1.8v1.8h-1.8zM56.24 161.4h1.8v1.8h-1.8zM57.88 161.61h1.8v1.8h-1.8zM59.12 161.83h1.8v1.8h-1.8zM60.47 161.69h1.8v1.8h-1.8zM61.92 161.81h1.8v1.8h-1.8zM63.4 161.46h1.8v1.8h-1.8zM64.91 161.65h1.8v1.8h-1.8zM66.33 161.87h1.8v1.8h-1.8zM67.99 161.89h1.8v1.8h-1.8zM69.03 161.71h1.8v1.8h-1.8zM70.75 161.77h1.8v1.8h-1.8zM72.36 161.51h1.8v1.8h-1.8zM73.42 161.49h1.8v1.8h-1.8zM74.84 161.48h1.8v1.8h-1.8zM76.6 161.47h1.8v1.8h-1.8zM77.93 161.81h1.8v1.8h-1.8zM79.21 161.81h1.8v1.8h-1.8zM80.69 161.78h1.8v1.8h-1.8zM82.39 161.55h1.8v1.8h-1.8zM83.65 161.44h1.8v1.8h-1.8zM85.39 161.79h1.8v1.8h-1.8zM86.7 161.71h1.8v1.8h-1.8zM88.26 161.44h1.8v1.8h-1.8zM89.67 161.85h1.8v1.8h-1.8zM91.14 161.45h1.8v1.8h-1.8zM92.3 161.56h1.8v1.8h-1.8zM94.05 161.84h1.8v1.8h-1.8zM95.11 161.45h1.8v1.8h-1.8zM96.96 161.81h1.8v1.8h-1.8zM98.46 161.66h1.8v1.8h-1.8zM99.71 161.67h1.8v1.8h-1.8zM101.28 161.54h1.8v1.8h-1.8zM102.42 161.57h1.8v1.8h-1.8zM103.89 161.54h1.8v1.8h-1.8zM50.64 162.99h1.8v1.8h-1.8zM51.92 163.27h1.8v1.8h-1.8zM53.22 163.08h1.8v1.8h-1.8zM54.62 163.18h1.8v1.8h-1.8zM56.03 163.09h1.8v1.8h-1.8zM57.53 163.08h1.8v1.8h-1.8zM59.13 162.97h1.8v1.8h-1.8zM60.66 162.89h1.8v1.8h-1.8zM62.23 163.17h1.8v1.8h-1.8zM63.56 163.04h1.8v1.8h-1.8zM65.13 163.33h1.8v1.8h-1.8zM66.12 163.16h1.8v1.8h-1.8zM67.71 162.93h1.8v1.8h-1.8zM69.05 163.2h1.8v1.8h-1.8zM70.63 162.94h1.8v1.8h-1.8zM72.28 163.13h1.8v1.8h-1.8zM73.61 163.31h1.8v1.8h-1.8zM75.22 163.31h1.8v1.8h-1.8zM76.72 163.19h1.8v1.8h-1.8zM77.96 162.86h1.8v1.8h-1.8zM79.24 162.85h1.8v1.8h-1.8zM80.96 163.26h1.8v1.8h-1.8zM82.54 162.89h1.8v1.8h-1.8zM83.73 162.93h1.8v1.8h-1.8zM85.23 163h1.8v1.8h-1.8zM86.6 163.15h1.8v1.8h-1.8zM87.94 162.92h1.8v1.8h-1.8zM89.68 163.35h1.8v1.8h-1.8zM90.83 163.16h1.8v1.8h-1.8zM92.51 163.3h1.8v1.8h-1.8zM96.99 163.29h1.8v1.8h-1.8zM98.12 163.19h1.8v1.8h-1.8zM99.9 163.21h1.8v1.8h-1.8zM101.23 163.28h1.8v1.8h-1.8zM102.49 163.1h1.8v1.8h-1.8zM104.17 163.26h1.8v1.8h-1.8zM105.27 162.93h1.8v1.8h-1.8zM50.24 164.77h1.8v1.8h-1.8zM51.64 164.78h1.8v1.8h-1.8zM53.21 164.42h1.8v1.8h-1.8zM54.87 164.52h1.8v1.8h-1.8zM56.37 164.41h1.8v1.8h-1.8zM57.83 164.3h1.8v1.8h-1.8zM59.06 164.74h1.8v1.8h-1.8zM60.63 164.58h1.8v1.8h-1.8zM61.9 164.77h1.8v1.8h-1.8zM63.41 164.54h1.8v1.8h-1.8zM65.05 164.75h1.8v1.8h-1.8zM66.12 164.74h1.8v1.8h-1.8zM67.98 164.3h1.8v1.8h-1.8zM69.12 164.37h1.8v1.8h-1.8zM70.57 164.44h1.8v1.8h-1.8zM72 164.52h1.8v1.8h-1.8zM73.74 164.77h1.8v1.8h-1.8zM74.94 164.7h1.8v1.8h-1.8zM76.51 164.77h1.8v1.8h-1.8zM77.81 164.49h1.8v1.8h-1.8zM79.59 164.41h1.8v1.8h-1.8zM80.8 164.56h1.8v1.8h-1.8zM82.17 164.57h1.8v1.8h-1.8zM83.67 164.37h1.8v1.8h-1.8zM85.17 164.71h1.8v1.8h-1.8zM86.51 164.72h1.8v1.8h-1.8zM88.13 164.64h1.8v1.8h-1.8zM89.76 164.66h1.8v1.8h-1.8zM90.83 164.6h1.8v1.8h-1.8zM92.36 164.51h1.8v1.8h-1.8zM93.77 164.31h1.8v1.8h-1.8zM95.4 164.35h1.8v1.8h-1.8zM96.56 164.6h1.8v1.8h-1.8zM98.41 164.7h1.8v1.8h-1.8zM99.68 164.72h1.8v1.8h-1.8zM101.04 164.3h1.8v1.8h-1.8zM102.62 164.55h1.8v1.8h-1.8zM104.15 164.62h1.8v1.8h-1.8zM105.41 164.45h1.8v1.8h-1.8z"/>
<path fill="#c8193f" d="M86.07 104h2.1v2.1h-2.1zM148.96 104.46h2.1v2.1h-2.1zM66.5 108.28h2.1v2.1h-2.1zM115.37 108.24h2.1v2.1h-2.1zM89.57 110.91h2.1v2.1h-2.1zM131.55 110.31h2.1v2.1h-2.1zM52.73 112.47h2.1v2.1h-2.1zM61.56 111.8h2.1v2.1h-2.1zM68.84 111.92h2.1v2.1h-2.1zM51.72 113.73h2.1v2.1h-2.1zM74.64 113.78h2.1v2.1h-2.1zM77.63 113.84h2.1v2.1h-2.1zM92.14 114.09h2.1v2.1h-2.1zM99.94 113.4h2.1v2.1h-2.1zM128.07 113.83h2.1v2.1h-2.1zM65.88 115.38h2.1v2.1h-2.1zM87.8 114.62h2.1v2.1h-2.1zM96.33 115.58h2.1v2.1h-2.1zM104.32 115.41h2.1v2.1h-2.1zM124.19 115.02h2.1v2.1h-2.1zM50.69 116.51h2.1v2.1h-2.1zM75.95 116.78h2.1v2.1h-2.1zM78.97 116.95h2.1v2.1h-2.1zM83.88 116.54h2.1v2.1h-2.1zM89.09 116.3h2.1v2.1h-2.1zM94.22 116.26h2.1v2.1h-2.1zM100.53 116.99h2.1v2.1h-2.1zM130.49 116.7h2.1v2.1h-2.1zM54.86 118.41h2.1v2.1h-2.1zM76.83 118.42h2.1v2.1h-2.1zM88.37 117.77h2.1v2.1h-2.1zM102.07 118.31h2.1v2.1h-2.1zM103.45 118.32h2.1v2.1h-2.1zM105.29 117.84h2.1v2.1h-2.1zM106.76 118.16h2.1v2.1h-2.1zM129.02 118.01h2.1v2.1h-2.1zM147.49 118.4h2.1v2.1h-2.1zM64.68 119.75h2.1v2.1h-2.1zM68.13 119.92h2.1v2.1h-2.1zM69.35 119.32h2.1v2.1h-2.1zM83.88 119.57h2.1v2.1h-2.1zM89.21 119.84h2.1v2.1h-2.1zM52.66 120.52h2.1v2.1h-2.1zM54.98 120.6h2.1v2.1h-2.1zM56.42 121.39h2.1v2.1h-2.1zM57.11 120.9h2.1v2.1h-2.1zM70.09 120.7h2.1v2.1h-2.1zM72.09 120.72h2.1v2.1h-2.1zM76.16 121.39h2.1v2.1h-2.1zM78.09 120.69h2.1v2.1h-2.1zM82.5 121.15h2.1v2.1h-2.1zM85.2 120.91h2.1v2.1h-2.1zM86.61 121h2.1v2.1h-2.1zM89.6 120.89h2.1v2.1h-2.1zM92.08 121.15h2.1v2.1h-2.1zM99.24 120.42h2.1v2.1h-2.1zM103.9 120.91h2.1v2.1h-2.1zM115.64 120.9h2.1v2.1h-2.1zM120.87 121.27h2.1v2.1h-2.1zM105.64 121.92h2.1v2.1h-2.1zM96.2 123.51h2.1v2.1h-2.1zM99.92 124.04h2.1v2.1h-2.1zM112.62 123.99h2.1v2.1h-2.1zM124.16 123.46h2.1v2.1h-2.1zM128.58 123.44h2.1v2.1h-2.1zM99.94 125.51h2.1v2.1h-2.1zM113.89 124.76h2.1v2.1h-2.1zM120.07 125.62h2.1v2.1h-2.1zM97.78 126.83h2.1v2.1h-2.1zM102.64 126.61h2.1v2.1h-2.1zM104.05 126.93h2.1v2.1h-2.1zM97.77 127.98h2.1v2.1h-2.1zM99.19 129.95h2.1v2.1h-2.1zM102.69 129.64h2.1v2.1h-2.1zM115.16 130.04h2.1v2.1h-2.1zM97.67 132.01h2.1v2.1h-2.1zM100.56 132.67h2.1v2.1h-2.1zM111.21 132.3h2.1v2.1h-2.1zM98.36 133.5h2.1v2.1h-2.1zM139.12 133.9h2.1v2.1h-2.1zM98.07 137.13h2.1v2.1h-2.1zM112.18 136.96h2.1v2.1h-2.1zM117.21 137.08h2.1v2.1h-2.1zM136.3 136.96h2.1v2.1h-2.1zM103.89 138.62h2.1v2.1h-2.1zM105.85 138.23h2.1v2.1h-2.1zM106.77 139.67h2.1v2.1h-2.1zM112.39 139.45h2.1v2.1h-2.1zM115.96 139.37h2.1v2.1h-2.1zM126.02 139.69h2.1v2.1h-2.1zM128.81 139.57h2.1v2.1h-2.1zM130.07 139.48h2.1v2.1h-2.1zM107.76 141.62h2.1v2.1h-2.1zM116.66 141.24h2.1v2.1h-2.1zM112.72 142.7h2.1v2.1h-2.1zM115.91 143.09h2.1v2.1h-2.1zM118.6 142.2h2.1v2.1h-2.1zM130.47 143.02h2.1v2.1h-2.1zM118.06 144.26h2.1v2.1h-2.1zM121.08 144.54h2.1v2.1h-2.1zM106.77 145.47h2.1v2.1h-2.1zM112.99 145.16h2.1v2.1h-2.1zM115.29 145.08h2.1v2.1h-2.1zM126.73 145.95h2.1v2.1h-2.1zM131.28 145.67h2.1v2.1h-2.1zM137.48 145.95h2.1v2.1h-2.1zM112.96 147.04h2.1v2.1h-2.1zM115.74 146.93h2.1v2.1h-2.1zM106.43 148.33h2.1v2.1h-2.1zM110.08 148h2.1v2.1h-2.1zM112.75 148.67h2.1v2.1h-2.1zM115.59 148.58h2.1v2.1h-2.1zM117.16 148.74h2.1v2.1h-2.1zM122.83 148.36h2.1v2.1h-2.1zM125.68 148.66h2.1v2.1h-2.1zM119.65 150.35h2.1v2.1h-2.1zM129.72 150.16h2.1v2.1h-2.1zM106.83 151.49h2.1v2.1h-2.1zM109.62 151.67h2.1v2.1h-2.1zM111.63 151.72h2.1v2.1h-2.1zM115.01 151.56h2.1v2.1h-2.1zM123.07 151.02h2.1v2.1h-2.1zM127.53 151.77h2.1v2.1h-2.1zM138.28 151.17h2.1v2.1h-2.1zM107.03 152.95h2.1v2.1h-2.1zM108.58 152.92h2.1v2.1h-2.1zM109.81 153.17h2.1v2.1h-2.1zM112.42 152.73h2.1v2.1h-2.1zM113.56 152.43h2.1v2.1h-2.1zM108.7 154.28h2.1v2.1h-2.1zM109.63 154h2.1v2.1h-2.1zM138.43 153.76h2.1v2.1h-2.1zM106.42 155.75h2.1v2.1h-2.1zM111.49 156.04h2.1v2.1h-2.1zM115.43 155.87h2.1v2.1h-2.1zM106.3 157.49h2.1v2.1h-2.1zM108.25 157.55h2.1v2.1h-2.1zM109.33 157.46h2.1v2.1h-2.1zM115.44 157.02h2.1v2.1h-2.1zM116.8 156.9h2.1v2.1h-2.1zM121.71 157.23h2.1v2.1h-2.1zM107.18 158.23h2.1v2.1h-2.1zM108.73 158.31h2.1v2.1h-2.1zM110.85 158.86h2.1v2.1h-2.1zM112.83 158.88h2.1v2.1h-2.1zM120.02 158.41h2.1v2.1h-2.1zM114.55 160.12h2.1v2.1h-2.1zM116.51 160.15h2.1v2.1h-2.1zM119.79 160.24h2.1v2.1h-2.1zM122.99 160.02h2.1v2.1h-2.1zM109.51 161.72h2.1v2.1h-2.1zM114.37 161.58h2.1v2.1h-2.1zM131.62 161.44h2.1v2.1h-2.1zM133.99 161.93h2.1v2.1h-2.1zM144.03 161.58h2.1v2.1h-2.1zM108.26 163.13h2.1v2.1h-2.1zM111.24 162.61h2.1v2.1h-2.1zM112.83 162.46h2.1v2.1h-2.1zM115.01 163.35h2.1v2.1h-2.1zM145.99 163.05h2.1v2.1h-2.1zM106.36 164.83h2.1v2.1h-2.1zM109.33 164.68h2.1v2.1h-2.1zM122.4 164.58h2.1v2.1h-2.1z"/>
<path fill="#eb2349" d="M220.86 118.76h1.8v1.8h-1.8zM224.03 118.79h1.8v1.8h-1.8zM225.36 119.11h1.8v1.8h-1.8zM226.98 118.85h1.8v1.8h-1.8zM229.6 118.87h1.8v1.8h-1.8zM231.31 118.9h1.8v1.8h-1.8zM232.8 119.18h1.8v1.8h-1.8zM233.85 119.22h1.8v1.8h-1.8zM235.43 118.84h1.8v1.8h-1.8zM237.12 118.78h1.8v1.8h-1.8zM246.89 119.19h1.8v1.8h-1.8zM250.18 118.96h1.8v1.8h-1.8zM221.23 120.33h1.8v1.8h-1.8zM222.45 120.5h1.8v1.8h-1.8zM224.13 120.65h1.8v1.8h-1.8zM225.4 120.42h1.8v1.8h-1.8zM226.96 120.37h1.8v1.8h-1.8zM228.19 120.38h1.8v1.8h-1.8zM231.07 120.38h1.8v1.8h-1.8zM232.49 120.3h1.8v1.8h-1.8zM235.72 120.61h1.8v1.8h-1.8zM241.32 120.33h1.8v1.8h-1.8zM242.85 120.45h1.8v1.8h-1.8zM244.38 120.58h1.8v1.8h-1.8zM247.08 120.52h1.8v1.8h-1.8zM248.7 120.57h1.8v1.8h-1.8zM249.8 120.41h1.8v1.8h-1.8zM252.68 120.45h1.8v1.8h-1.8zM221.07 121.96h1.8v1.8h-1.8zM222.3 121.78h1.8v1.8h-1.8zM225.53 121.9h1.8v1.8h-1.8zM226.67 121.72h1.8v1.8h-1.8zM228.13 122.14h1.8v1.8h-1.8zM231.21 121.96h1.8v1.8h-1.8zM232.51 121.75h1.8v1.8h-1.8zM234.27 121.85h1.8v1.8h-1.8zM236.86 122.06h1.8v1.8h-1.8zM238.54 122.1h1.8v1.8h-1.8zM241.46 121.8h1.8v1.8h-1.8zM242.67 121.83h1.8v1.8h-1.8zM248.66 122.04h1.8v1.8h-1.8zM251.65 121.77h1.8v1.8h-1.8zM253.13 121.86h1.8v1.8h-1.8zM254.12 122.05h1.8v1.8h-1.8zM222.46 123.23h1.8v1.8h-1.8zM223.91 123.33h1.8v1.8h-1.8zM225.28 123.32h1.8v1.8h-1.8zM229.94 123.53h1.8v1.8h-1.8zM232.56 123.53h1.8v1.8h-1.8zM234.27 123.51h1.8v1.8h-1.8zM235.28 123.42h1.8v1.8h-1.8zM238.48 123.21h1.8v1.8h-1.8zM242.8 123.31h1.8v1.8h-1.8zM244.44 123.23h1.8v1.8h-1.8zM245.61 123.31h1.8v1.8h-1.8zM251.62 123.26h1.8v1.8h-1.8zM254.5 123.52h1.8v1.8h-1.8zM226.55 124.96h1.8v1.8h-1.8zM228.45 124.65h1.8v1.8h-1.8zM234.22 124.56h1.8v1.8h-1.8zM237.13 124.98h1.8v1.8h-1.8zM241.17 124.67h1.8v1.8h-1.8zM244.02 124.98h1.8v1.8h-1.8zM245.8 124.8h1.8v1.8h-1.8zM246.98 124.94h1.8v1.8h-1.8zM253.05 124.72h1.8v1.8h-1.8zM257.08 124.66h1.8v1.8h-1.8zM220.82 126.12h1.8v1.8h-1.8zM223.78 126.47h1.8v1.8h-1.8zM225.33 126.19h1.8v1.8h-1.8zM226.73 126.33h1.8v1.8h-1.8zM228.15 126.04h1.8v1.8h-1.8zM229.61 126.37h1.8v1.8h-1.8zM231.04 126.13h1.8v1.8h-1.8zM238.46 126.41h1.8v1.8h-1.8zM242.83 126.3h1.8v1.8h-1.8zM244.04 126.23h1.8v1.8h-1.8zM245.57 126.25h1.8v1.8h-1.8zM247.18 126.15h1.8v1.8h-1.8zM248.43 126.21h1.8v1.8h-1.8zM251.28 126.39h1.8v1.8h-1.8zM252.89 126.32h1.8v1.8h-1.8zM254.24 126.42h1.8v1.8h-1.8zM223.77 127.83h1.8v1.8h-1.8zM225.46 127.52h1.8v1.8h-1.8zM226.89 127.85h1.8v1.8h-1.8zM228.29 127.92h1.8v1.8h-1.8zM229.92 127.81h1.8v1.8h-1.8zM232.46 127.65h1.8v1.8h-1.8zM234.11 127.71h1.8v1.8h-1.8zM236.97 127.64h1.8v1.8h-1.8zM238.59 127.45h1.8v1.8h-1.8zM239.68 127.94h1.8v1.8h-1.8zM242.88 127.52h1.8v1.8h-1.8zM244.18 127.8h1.8v1.8h-1.8zM245.69 127.64h1.8v1.8h-1.8zM246.87 127.78h1.8v1.8h-1.8zM250.2 127.62h1.8v1.8h-1.8zM254.23 127.52h1.8v1.8h-1.8zM255.81 127.5h1.8v1.8h-1.8zM225.44 129.26h1.8v1.8h-1.8zM226.7 129.3h1.8v1.8h-1.8zM228.31 129.11h1.8v1.8h-1.8zM229.74 129.22h1.8v1.8h-1.8zM231.02 129.13h1.8v1.8h-1.8zM232.65 129.35h1.8v1.8h-1.8zM234.15 129.37h1.8v1.8h-1.8zM235.65 128.98h1.8v1.8h-1.8zM238.2 129.14h1.8v1.8h-1.8zM239.78 129.3h1.8v1.8h-1.8zM241.45 129.17h1.8v1.8h-1.8zM242.98 129.07h1.8v1.8h-1.8zM244.18 128.95h1.8v1.8h-1.8zM245.45 129.32h1.8v1.8h-1.8zM247.02 129.25h1.8v1.8h-1.8zM248.63 129.4h1.8v1.8h-1.8zM251.5 128.96h1.8v1.8h-1.8zM252.82 129.12h1.8v1.8h-1.8zM254.41 129.27h1.8v1.8h-1.8zM257.13 129.25h1.8v1.8h-1.8zM220.9 130.68h1.8v1.8h-1.8zM222.45 130.37h1.8v1.8h-1.8zM223.96 130.57h1.8v1.8h-1.8zM225.38 130.81h1.8v1.8h-1.8zM226.58 130.83h1.8v1.8h-1.8zM228.18 130.47h1.8v1.8h-1.8zM229.88 130.46h1.8v1.8h-1.8zM230.97 130.44h1.8v1.8h-1.8zM232.66 130.66h1.8v1.8h-1.8zM234.24 130.59h1.8v1.8h-1.8zM235.53 130.5h1.8v1.8h-1.8zM236.86 130.38h1.8v1.8h-1.8zM238.18 130.57h1.8v1.8h-1.8zM239.85 130.81h1.8v1.8h-1.8zM241.22 130.81h1.8v1.8h-1.8zM242.53 130.61h1.8v1.8h-1.8zM244.1 130.73h1.8v1.8h-1.8zM245.51 130.52h1.8v1.8h-1.8zM247.13 130.54h1.8v1.8h-1.8zM249.91 130.41h1.8v1.8h-1.8zM251.57 130.57h1.8v1.8h-1.8zM252.82 130.35h1.8v1.8h-1.8zM254.21 130.58h1.8v1.8h-1.8zM255.86 130.48h1.8v1.8h-1.8zM257.22 130.66h1.8v1.8h-1.8zM220.91 132.24h1.8v1.8h-1.8zM222.37 132.22h1.8v1.8h-1.8zM223.92 131.85h1.8v1.8h-1.8zM225.26 131.9h1.8v1.8h-1.8zM226.86 131.93h1.8v1.8h-1.8zM228.3 131.82h1.8v1.8h-1.8zM229.71 132.01h1.8v1.8h-1.8zM232.63 131.86h1.8v1.8h-1.8zM233.99 132.2h1.8v1.8h-1.8zM235.67 131.96h1.8v1.8h-1.8zM236.95 131.94h1.8v1.8h-1.8zM241.18 132.02h1.8v1.8h-1.8zM242.72 131.97h1.8v1.8h-1.8zM245.87 132.03h1.8v1.8h-1.8zM246.97 131.82h1.8v1.8h-1.8zM248.55 131.88h1.8v1.8h-1.8zM250.14 132.24h1.8v1.8h-1.8zM252.93 131.81h1.8v1.8h-1.8zM255.99 132.08h1.8v1.8h-1.8zM257.41 132.28h1.8v1.8h-1.8zM220.95 133.49h1.8v1.8h-1.8zM222.27 133.31h1.8v1.8h-1.8zM223.75 133.57h1.8v1.8h-1.8zM225.39 133.71h1.8v1.8h-1.8zM226.78 133.67h1.8v1.8h-1.8zM228.42 133.57h1.8v1.8h-1.8zM229.51 133.52h1.8v1.8h-1.8zM230.92 133.71h1.8v1.8h-1.8zM232.65 133.57h1.8v1.8h-1.8zM234.3 133.54h1.8v1.8h-1.8zM235.46 133.31h1.8v1.8h-1.8zM236.91 133.29h1.8v1.8h-1.8zM238.52 133.44h1.8v1.8h-1.8zM240.06 133.51h1.8v1.8h-1.8zM241.15 133.7h1.8v1.8h-1.8zM242.52 133.59h1.8v1.8h-1.8zM243.97 133.56h1.8v1.8h-1.8zM245.47 133.55h1.8v1.8h-1.8zM247.29 133.59h1.8v1.8h-1.8zM248.54 133.67h1.8v1.8h-1.8zM249.78 133.72h1.8v1.8h-1.8zM251.42 133.44h1.8v1.8h-1.8zM252.86 133.38h1.8v1.8h-1.8zM256.01 133.44h1.8v1.8h-1.8zM221.17 135.18h1.8v1.8h-1.8zM222.69 134.96h1.8v1.8h-1.8zM224.12 134.82h1.8v1.8h-1.8zM225.16 134.76h1.8v1.8h-1.8zM226.57 135.05h1.8v1.8h-1.8zM228.11 134.88h1.8v1.8h-1.8zM229.89 134.93h1.8v1.8h-1.8zM230.95 135.13h1.8v1.8h-1.8zM232.65 134.96h1.8v1.8h-1.8zM233.81 134.98h1.8v1.8h-1.8zM235.52 134.71h1.8v1.8h-1.8zM236.7 134.81h1.8v1.8h-1.8zM238.36 134.88h1.8v1.8h-1.8zM239.67 134.97h1.8v1.8h-1.8zM241.3 134.83h1.8v1.8h-1.8zM242.55 135h1.8v1.8h-1.8zM244.29 134.98h1.8v1.8h-1.8zM245.42 134.84h1.8v1.8h-1.8zM247.18 134.93h1.8v1.8h-1.8zM248.42 134.73h1.8v1.8h-1.8zM249.89 135.07h1.8v1.8h-1.8zM252.68 135.19h1.8v1.8h-1.8zM221.02 136.55h1.8v1.8h-1.8zM222.58 136.6h1.8v1.8h-1.8zM223.78 136.29h1.8v1.8h-1.8zM225.44 136.23h1.8v1.8h-1.8zM226.84 136.65h1.8v1.8h-1.8zM228.27 136.16h1.8v1.8h-1.8zM229.49 136.26h1.8v1.8h-1.8zM231.14 136.28h1.8v1.8h-1.8zM232.52 136.24h1.8v1.8h-1.8zM234.13 136.62h1.8v1.8h-1.8zM235.27 136.35h1.8v1.8h-1.8zM237.07 136.51h1.8v1.8h-1.8zM238.34 136.39h1.8v1.8h-1.8zM239.61 136.37h1.8v1.8h-1.8zM241.3 136.37h1.8v1.8h-1.8zM242.73 136.52h1.8v1.8h-1.8zM244.27 136.54h1.8v1.8h-1.8zM245.81 136.26h1.8v1.8h-1.8zM247.24 136.54h1.8v1.8h-1.8zM248.43 136.51h1.8v1.8h-1.8zM250.09 136.51h1.8v1.8h-1.8zM251.66 136.42h1.8v1.8h-1.8zM253.15 136.25h1.8v1.8h-1.8zM254.52 136.6h1.8v1.8h-1.8zM255.62 136.37h1.8v1.8h-1.8zM257.41 136.27h1.8v1.8h-1.8zM220.79 137.65h1.8v1.8h-1.8zM222.61 137.79h1.8v1.8h-1.8zM223.79 137.73h1.8v1.8h-1.8zM225.1 137.7h1.8v1.8h-1.8zM226.6 137.83h1.8v1.8h-1.8zM228.24 137.85h1.8v1.8h-1.8zM229.55 137.74h1.8v1.8h-1.8zM230.99 137.71h1.8v1.8h-1.8zM232.42 137.66h1.8v1.8h-1.8zM234 137.77h1.8v1.8h-1.8zM235.27 138.04h1.8v1.8h-1.8zM236.91 137.69h1.8v1.8h-1.8zM238.5 137.79h1.8v1.8h-1.8zM239.79 137.92h1.8v1.8h-1.8zM241.35 137.95h1.8v1.8h-1.8zM242.9 137.95h1.8v1.8h-1.8zM243.99 137.91h1.8v1.8h-1.8zM245.88 137.72h1.8v1.8h-1.8zM247.05 137.93h1.8v1.8h-1.8zM248.39 137.74h1.8v1.8h-1.8zM249.86 138.1h1.8v1.8h-1.8zM251.55 137.76h1.8v1.8h-1.8zM253.01 138.01h1.8v1.8h-1.8zM255.88 137.93h1.8v1.8h-1.8zM257.12 137.92h1.8v1.8h-1.8zM258.94 137.66h1.8v1.8h-1.8zM261.46 137.77h1.8v1.8h-1.8zM262.94 137.8h1.8v1.8h-1.8zM264.3 137.6h1.8v1.8h-1.8zM267.26 138h1.8v1.8h-1.8zM268.99 137.62h1.8v1.8h-1.8zM270.23 137.66h1.8v1.8h-1.8zM271.52 137.92h1.8v1.8h-1.8zM273.15 137.94h1.8v1.8h-1.8zM274.8 137.88h1.8v1.8h-1.8zM276.29 137.73h1.8v1.8h-1.8zM277.46 138h1.8v1.8h-1.8zM279.06 137.77h1.8v1.8h-1.8zM280.53 137.72h1.8v1.8h-1.8zM282.07 137.67h1.8v1.8h-1.8zM284.85 137.86h1.8v1.8h-1.8zM286.36 137.97h1.8v1.8h-1.8zM290.47 137.71h1.8v1.8h-1.8zM291.82 137.93h1.8v1.8h-1.8zM295.07 137.76h1.8v1.8h-1.8zM221.1 139.31h1.8v1.8h-1.8zM222.39 139.24h1.8v1.8h-1.8zM223.92 139.11h1.8v1.8h-1.8zM225.42 139.14h1.8v1.8h-1.8zM226.95 139.25h1.8v1.8h-1.8zM228.43 139.06h1.8v1.8h-1.8zM229.82 139.23h1.8v1.8h-1.8zM231.38 139.18h1.8v1.8h-1.8zM232.43 139.16h1.8v1.8h-1.8zM234.02 139.23h1.8v1.8h-1.8zM235.56 139.31h1.8v1.8h-1.8zM237 139.38h1.8v1.8h-1.8zM238.59 139.27h1.8v1.8h-1.8zM240.09 139.1h1.8v1.8h-1.8zM241.21 139.45h1.8v1.8h-1.8zM242.71 139.41h1.8v1.8h-1.8zM244.44 139.07h1.8v1.8h-1.8zM245.67 139.53h1.8v1.8h-1.8zM247.11 139.41h1.8v1.8h-1.8zM248.78 139.18h1.8v1.8h-1.8zM250.13 139.25h1.8v1.8h-1.8zM251.46 139.27h1.8v1.8h-1.8zM252.7 139.34h1.8v1.8h-1.8zM254.57 139.19h1.8v1.8h-1.8zM255.55 139.51h1.8v1.8h-1.8zM257.35 139.07h1.8v1.8h-1.8zM258.73 139.24h1.8v1.8h-1.8zM260.37 139.33h1.8v1.8h-1.8zM261.5 139.4h1.8v1.8h-1.8zM262.9 139.27h1.8v1.8h-1.8zM264.51 139.08h1.8v1.8h-1.8zM266.03 139.05h1.8v1.8h-1.8zM267.32 139.08h1.8v1.8h-1.8zM268.76 139.37h1.8v1.8h-1.8zM270.21 139.35h1.8v1.8h-1.8zM271.67 139.26h1.8v1.8h-1.8zM273.38 139.15h1.8v1.8h-1.8zM274.66 139.53h1.8v1.8h-1.8zM276.14 139.2h1.8v1.8h-1.8zM279.2 139.06h1.8v1.8h-1.8zM280.3 139.23h1.8v1.8h-1.8zM281.66 139.18h1.8v1.8h-1.8zM284.8 139.33h1.8v1.8h-1.8zM286.18 139.1h1.8v1.8h-1.8zM287.71 139.5h1.8v1.8h-1.8zM290.67 139.06h1.8v1.8h-1.8zM293.4 139.37h1.8v1.8h-1.8zM221.18 140.78h1.8v1.8h-1.8zM222.33 140.8h1.8v1.8h-1.8zM223.91 140.85h1.8v1.8h-1.8zM225.28 140.51h1.8v1.8h-1.8zM226.79 140.68h1.8v1.8h-1.8zM228.17 140.61h1.8v1.8h-1.8zM229.67 140.97h1.8v1.8h-1.8zM231.37 140.52h1.8v1.8h-1.8zM232.52 140.97h1.8v1.8h-1.8zM234.27 140.84h1.8v1.8h-1.8zM235.44 140.89h1.8v1.8h-1.8zM237.2 140.85h1.8v1.8h-1.8zM238.39 140.67h1.8v1.8h-1.8zM240.04 140.78h1.8v1.8h-1.8zM241.36 140.53h1.8v1.8h-1.8zM242.95 140.78h1.8v1.8h-1.8zM244.33 140.96h1.8v1.8h-1.8zM245.9 140.64h1.8v1.8h-1.8zM247.03 140.84h1.8v1.8h-1.8zM248.41 140.78h1.8v1.8h-1.8zM249.81 140.7h1.8v1.8h-1.8zM251.55 140.67h1.8v1.8h-1.8zM252.67 140.69h1.8v1.8h-1.8zM254.2 140.53h1.8v1.8h-1.8zM255.55 140.99h1.8v1.8h-1.8zM257.4 140.95h1.8v1.8h-1.8zM258.58 140.57h1.8v1.8h-1.8zM260.35 140.65h1.8v1.8h-1.8zM261.4 140.74h1.8v1.8h-1.8zM263.03 140.82h1.8v1.8h-1.8zM265.95 140.99h1.8v1.8h-1.8zM267.23 140.8h1.8v1.8h-1.8zM269.08 140.92h1.8v1.8h-1.8zM270.51 140.68h1.8v1.8h-1.8zM271.75 140.68h1.8v1.8h-1.8zM273.16 140.58h1.8v1.8h-1.8zM274.43 140.58h1.8v1.8h-1.8zM275.99 140.67h1.8v1.8h-1.8zM277.41 140.85h1.8v1.8h-1.8zM279.17 140.6h1.8v1.8h-1.8zM280.38 140.96h1.8v1.8h-1.8zM281.94 140.51h1.8v1.8h-1.8zM283.38 140.52h1.8v1.8h-1.8zM284.7 140.97h1.8v1.8h-1.8zM286.49 140.8h1.8v1.8h-1.8zM287.55 140.77h1.8v1.8h-1.8zM289.04 140.94h1.8v1.8h-1.8zM293.41 140.77h1.8v1.8h-1.8zM295.15 140.7h1.8v1.8h-1.8zM221.24 142.27h1.8v1.8h-1.8zM222.46 142.2h1.8v1.8h-1.8zM224.12 142.17h1.8v1.8h-1.8zM225.26 142.22h1.8v1.8h-1.8zM226.96 141.99h1.8v1.8h-1.8zM228.29 142.29h1.8v1.8h-1.8zM229.49 142.28h1.8v1.8h-1.8zM231.2 142.18h1.8v1.8h-1.8zM232.54 142.44h1.8v1.8h-1.8zM233.84 142.26h1.8v1.8h-1.8zM235.62 142.03h1.8v1.8h-1.8zM236.89 142.1h1.8v1.8h-1.8zM238.43 142.07h1.8v1.8h-1.8zM239.95 142.12h1.8v1.8h-1.8zM241.27 142.37h1.8v1.8h-1.8zM242.61 142.28h1.8v1.8h-1.8zM244.2 142.1h1.8v1.8h-1.8zM245.68 142.1h1.8v1.8h-1.8zM246.99 142.41h1.8v1.8h-1.8zM248.52 142.1h1.8v1.8h-1.8zM250.1 142.03h1.8v1.8h-1.8zM251.28 142.14h1.8v1.8h-1.8zM252.83 142.4h1.8v1.8h-1.8zM254.49 142.28h1.8v1.8h-1.8zM255.66 142.25h1.8v1.8h-1.8zM257.24 142.06h1.8v1.8h-1.8zM258.92 142.31h1.8v1.8h-1.8zM261.69 142.15h1.8v1.8h-1.8zM264.69 142.45h1.8v1.8h-1.8zM265.75 142.12h1.8v1.8h-1.8zM267.45 142.16h1.8v1.8h-1.8zM268.64 142.11h1.8v1.8h-1.8zM270.48 142.2h1.8v1.8h-1.8zM271.67 142.12h1.8v1.8h-1.8zM273.32 142.08h1.8v1.8h-1.8zM274.49 142.15h1.8v1.8h-1.8zM276.34 142.08h1.8v1.8h-1.8zM277.69 142.03h1.8v1.8h-1.8zM278.93 142.2h1.8v1.8h-1.8zM282.01 142.29h1.8v1.8h-1.8zM283.26 141.95h1.8v1.8h-1.8zM284.6 142.16h1.8v1.8h-1.8zM286.4 142.41h1.8v1.8h-1.8zM287.47 142.34h1.8v1.8h-1.8zM292.08 142.12h1.8v1.8h-1.8zM293.5 142.41h1.8v1.8h-1.8zM294.78 142.19h1.8v1.8h-1.8zM220.85 143.56h1.8v1.8h-1.8zM222.33 143.56h1.8v1.8h-1.8zM224.12 143.61h1.8v1.8h-1.8zM225.45 143.64h1.8v1.8h-1.8zM226.79 143.71h1.8v1.8h-1.8zM228.48 143.69h1.8v1.8h-1.8zM229.8 143.49h1.8v1.8h-1.8zM231.19 143.46h1.8v1.8h-1.8zM232.63 143.41h1.8v1.8h-1.8zM234.04 143.68h1.8v1.8h-1.8zM235.4 143.89h1.8v1.8h-1.8zM236.81 143.61h1.8v1.8h-1.8zM238.4 143.44h1.8v1.8h-1.8zM239.66 143.64h1.8v1.8h-1.8zM241.41 143.58h1.8v1.8h-1.8zM242.74 143.52h1.8v1.8h-1.8zM244.22 143.9h1.8v1.8h-1.8zM245.52 143.67h1.8v1.8h-1.8zM247.29 143.69h1.8v1.8h-1.8zM248.74 143.68h1.8v1.8h-1.8zM250.23 143.72h1.8v1.8h-1.8zM251.35 143.43h1.8v1.8h-1.8zM252.73 143.84h1.8v1.8h-1.8zM254.25 143.8h1.8v1.8h-1.8zM255.64 143.76h1.8v1.8h-1.8zM257.43 143.4h1.8v1.8h-1.8zM260.01 143.47h1.8v1.8h-1.8zM261.63 143.41h1.8v1.8h-1.8zM263.26 143.48h1.8v1.8h-1.8zM264.47 143.59h1.8v1.8h-1.8zM265.82 143.6h1.8v1.8h-1.8zM267.23 143.78h1.8v1.8h-1.8zM268.86 143.84h1.8v1.8h-1.8zM270.06 143.68h1.8v1.8h-1.8zM271.59 143.59h1.8v1.8h-1.8zM273.42 143.41h1.8v1.8h-1.8zM274.85 143.79h1.8v1.8h-1.8zM275.94 143.82h1.8v1.8h-1.8zM278.93 143.7h1.8v1.8h-1.8zM280.48 143.85h1.8v1.8h-1.8zM281.87 143.59h1.8v1.8h-1.8zM283.11 143.63h1.8v1.8h-1.8zM284.56 143.42h1.8v1.8h-1.8zM286.32 143.57h1.8v1.8h-1.8zM290.45 143.85h1.8v1.8h-1.8zM293.64 143.81h1.8v1.8h-1.8zM294.99 143.43h1.8v1.8h-1.8zM221.24 145.34h1.8v1.8h-1.8zM222.43 145.28h1.8v1.8h-1.8zM223.99 145.33h1.8v1.8h-1.8zM225.42 145.08h1.8v1.8h-1.8zM226.62 145.05h1.8v1.8h-1.8zM228.44 144.92h1.8v1.8h-1.8zM229.85 145.26h1.8v1.8h-1.8zM231.27 145.13h1.8v1.8h-1.8zM232.71 144.9h1.8v1.8h-1.8zM234.08 144.95h1.8v1.8h-1.8zM235.52 145.08h1.8v1.8h-1.8zM236.91 144.95h1.8v1.8h-1.8zM238.3 145.18h1.8v1.8h-1.8zM240.04 145.17h1.8v1.8h-1.8zM241.39 144.9h1.8v1.8h-1.8zM242.6 145.15h1.8v1.8h-1.8zM244.38 145.08h1.8v1.8h-1.8zM245.46 144.86h1.8v1.8h-1.8zM247.24 144.95h1.8v1.8h-1.8zM248.34 145.12h1.8v1.8h-1.8zM249.79 144.97h1.8v1.8h-1.8zM251.42 145.35h1.8v1.8h-1.8zM252.76 145.25h1.8v1.8h-1.8zM254.29 145.35h1.8v1.8h-1.8zM255.82 145.32h1.8v1.8h-1.8zM258.86 145.29h1.8v1.8h-1.8zM259.95 145.03h1.8v1.8h-1.8zM261.59 145.21h1.8v1.8h-1.8zM263.23 145.3h1.8v1.8h-1.8zM264.65 145.13h1.8v1.8h-1.8zM265.98 145.01h1.8v1.8h-1.8zM267.25 145.02h1.8v1.8h-1.8zM268.97 145.16h1.8v1.8h-1.8zM271.52 145.06h1.8v1.8h-1.8zM272.98 145.26h1.8v1.8h-1.8zM274.69 145.03h1.8v1.8h-1.8zM276 145.13h1.8v1.8h-1.8zM277.74 144.95h1.8v1.8h-1.8zM279.13 145.29h1.8v1.8h-1.8zM280.49 144.98h1.8v1.8h-1.8zM281.91 145.14h1.8v1.8h-1.8zM283.59 144.96h1.8v1.8h-1.8zM284.55 144.87h1.8v1.8h-1.8zM286.17 145.07h1.8v1.8h-1.8zM287.73 145.28h1.8v1.8h-1.8zM292.24 145.2h1.8v1.8h-1.8zM293.34 145.27h1.8v1.8h-1.8zM296.24 144.96h1.8v1.8h-1.8zM220.8 146.68h1.8v1.8h-1.8zM222.4 146.5h1.8v1.8h-1.8zM223.9 146.49h1.8v1.8h-1.8zM225.5 146.44h1.8v1.8h-1.8zM226.56 146.67h1.8v1.8h-1.8zM228.4 146.31h1.8v1.8h-1.8zM229.88 146.4h1.8v1.8h-1.8zM231.07 146.78h1.8v1.8h-1.8zM232.64 146.56h1.8v1.8h-1.8zM234.22 146.53h1.8v1.8h-1.8zM235.64 146.77h1.8v1.8h-1.8zM236.8 146.43h1.8v1.8h-1.8zM238.19 146.46h1.8v1.8h-1.8zM239.82 146.45h1.8v1.8h-1.8zM241.31 146.76h1.8v1.8h-1.8zM242.71 146.61h1.8v1.8h-1.8zM244.02 146.47h1.8v1.8h-1.8zM245.53 146.34h1.8v1.8h-1.8zM247.31 146.6h1.8v1.8h-1.8zM248.76 146.53h1.8v1.8h-1.8zM249.82 146.64h1.8v1.8h-1.8zM251.54 146.79h1.8v1.8h-1.8zM252.73 146.74h1.8v1.8h-1.8zM254.39 146.58h1.8v1.8h-1.8zM255.91 146.54h1.8v1.8h-1.8zM257.37 146.54h1.8v1.8h-1.8zM258.49 146.64h1.8v1.8h-1.8zM260.03 146.33h1.8v1.8h-1.8zM261.84 146.58h1.8v1.8h-1.8zM263.11 146.4h1.8v1.8h-1.8zM264.57 146.38h1.8v1.8h-1.8zM265.91 146.5h1.8v1.8h-1.8zM267.42 146.79h1.8v1.8h-1.8zM268.81 146.38h1.8v1.8h-1.8zM270.45 146.79h1.8v1.8h-1.8zM271.55 146.5h1.8v1.8h-1.8zM273.45 146.48h1.8v1.8h-1.8zM274.81 146.41h1.8v1.8h-1.8zM277.59 146.74h1.8v1.8h-1.8zM278.98 146.7h1.8v1.8h-1.8zM280.61 146.5h1.8v1.8h-1.8zM281.7 146.35h1.8v1.8h-1.8zM284.76 146.77h1.8v1.8h-1.8zM286.43 146.39h1.8v1.8h-1.8zM287.61 146.38h1.8v1.8h-1.8zM289.19 146.39h1.8v1.8h-1.8zM290.64 146.75h1.8v1.8h-1.8zM292.21 146.61h1.8v1.8h-1.8zM293.4 146.47h1.8v1.8h-1.8zM296.25 146.3h1.8v1.8h-1.8zM221.09 148.19h1.8v1.8h-1.8zM222.68 147.9h1.8v1.8h-1.8zM223.81 147.91h1.8v1.8h-1.8zM225.3 148.07h1.8v1.8h-1.8zM226.86 148.23h1.8v1.8h-1.8zM228.32 147.82h1.8v1.8h-1.8zM229.62 148.18h1.8v1.8h-1.8zM231.22 148h1.8v1.8h-1.8zM232.72 147.82h1.8v1.8h-1.8zM233.84 148.07h1.8v1.8h-1.8zM235.53 147.87h1.8v1.8h-1.8zM237.05 147.91h1.8v1.8h-1.8zM238.48 148.16h1.8v1.8h-1.8zM240.06 148.09h1.8v1.8h-1.8zM241.15 148.1h1.8v1.8h-1.8zM242.79 148.25h1.8v1.8h-1.8zM244.01 147.86h1.8v1.8h-1.8zM245.88 147.94h1.8v1.8h-1.8zM247.08 148.06h1.8v1.8h-1.8zM248.32 147.87h1.8v1.8h-1.8zM250.23 147.92h1.8v1.8h-1.8zM251.67 147.78h1.8v1.8h-1.8zM252.89 147.96h1.8v1.8h-1.8zM254.28 147.79h1.8v1.8h-1.8zM255.78 147.85h1.8v1.8h-1.8zM257.25 148.04h1.8v1.8h-1.8zM258.93 147.87h1.8v1.8h-1.8zM259.95 147.82h1.8v1.8h-1.8zM261.51 148.05h1.8v1.8h-1.8zM262.89 148.17h1.8v1.8h-1.8zM264.72 147.93h1.8v1.8h-1.8zM266.12 147.86h1.8v1.8h-1.8zM267.36 147.95h1.8v1.8h-1.8zM269.02 148.08h1.8v1.8h-1.8zM270.07 147.87h1.8v1.8h-1.8zM271.64 147.98h1.8v1.8h-1.8zM273.17 147.91h1.8v1.8h-1.8zM274.58 148.18h1.8v1.8h-1.8zM276.32 147.97h1.8v1.8h-1.8zM277.39 148.23h1.8v1.8h-1.8zM278.94 147.79h1.8v1.8h-1.8zM280.29 148.22h1.8v1.8h-1.8zM281.83 148.24h1.8v1.8h-1.8zM283.53 148.04h1.8v1.8h-1.8zM285.02 147.85h1.8v1.8h-1.8zM286.28 148.21h1.8v1.8h-1.8zM289.04 147.93h1.8v1.8h-1.8zM290.77 147.86h1.8v1.8h-1.8zM293.54 148.08h1.8v1.8h-1.8zM296.62 147.81h1.8v1.8h-1.8zM220.87 149.37h1.8v1.8h-1.8zM222.47 149.66h1.8v1.8h-1.8zM223.86 149.55h1.8v1.8h-1.8zM225.5 149.43h1.8v1.8h-1.8zM226.68 149.49h1.8v1.8h-1.8zM228.2 149.49h1.8v1.8h-1.8zM229.55 149.42h1.8v1.8h-1.8zM231.06 149.33h1.8v1.8h-1.8zM232.36 149.7h1.8v1.8h-1.8zM234.07 149.41h1.8v1.8h-1.8zM235.6 149.26h1.8v1.8h-1.8zM237.01 149.3h1.8v1.8h-1.8zM238.63 149.5h1.8v1.8h-1.8zM240.08 149.63h1.8v1.8h-1.8zM241.37 149.3h1.8v1.8h-1.8zM242.67 149.28h1.8v1.8h-1.8zM244.09 149.29h1.8v1.8h-1.8zM245.47 149.49h1.8v1.8h-1.8zM247.26 149.37h1.8v1.8h-1.8zM248.78 149.58h1.8v1.8h-1.8zM250.1 149.63h1.8v1.8h-1.8zM251.65 149.47h1.8v1.8h-1.8zM252.9 149.49h1.8v1.8h-1.8zM254.23 149.48h1.8v1.8h-1.8zM255.74 149.43h1.8v1.8h-1.8zM257.32 149.69h1.8v1.8h-1.8zM258.83 149.28h1.8v1.8h-1.8zM261.36 149.69h1.8v1.8h-1.8zM263.09 149.53h1.8v1.8h-1.8zM264.51 149.27h1.8v1.8h-1.8zM265.74 149.33h1.8v1.8h-1.8zM267.2 149.54h1.8v1.8h-1.8zM268.63 149.59h1.8v1.8h-1.8zM270.44 149.53h1.8v1.8h-1.8zM271.81 149.47h1.8v1.8h-1.8zM273.01 149.52h1.8v1.8h-1.8zM274.9 149.55h1.8v1.8h-1.8zM276.17 149.24h1.8v1.8h-1.8zM277.55 149.2h1.8v1.8h-1.8zM278.92 149.66h1.8v1.8h-1.8zM280.32 149.35h1.8v1.8h-1.8zM281.67 149.56h1.8v1.8h-1.8zM283.44 149.55h1.8v1.8h-1.8zM286.03 149.4h1.8v1.8h-1.8zM289.07 149.27h1.8v1.8h-1.8zM292.02 149.55h1.8v1.8h-1.8zM294.91 149.36h1.8v1.8h-1.8zM296.61 149.35h1.8v1.8h-1.8zM221.02 150.97h1.8v1.8h-1.8zM222.21 150.97h1.8v1.8h-1.8zM223.7 150.96h1.8v1.8h-1.8zM225.59 150.68h1.8v1.8h-1.8zM226.76 150.76h1.8v1.8h-1.8zM228.1 150.86h1.8v1.8h-1.8zM229.77 151.13h1.8v1.8h-1.8zM231.34 151.12h1.8v1.8h-1.8zM232.46 150.67h1.8v1.8h-1.8zM234.24 150.76h1.8v1.8h-1.8zM235.37 151.09h1.8v1.8h-1.8zM237.14 150.98h1.8v1.8h-1.8zM238.42 151.01h1.8v1.8h-1.8zM239.95 150.77h1.8v1.8h-1.8zM241.32 150.87h1.8v1.8h-1.8zM242.85 151.11h1.8v1.8h-1.8zM243.99 151.04h1.8v1.8h-1.8zM245.56 150.94h1.8v1.8h-1.8zM247.29 150.87h1.8v1.8h-1.8zM248.45 151.01h1.8v1.8h-1.8zM250.11 150.83h1.8v1.8h-1.8zM251.67 150.87h1.8v1.8h-1.8zM253.05 150.68h1.8v1.8h-1.8zM254.46 150.87h1.8v1.8h-1.8zM255.65 151.07h1.8v1.8h-1.8zM257.23 150.68h1.8v1.8h-1.8zM258.82 150.96h1.8v1.8h-1.8zM260.06 151.14h1.8v1.8h-1.8zM261.67 151.05h1.8v1.8h-1.8zM263.02 150.97h1.8v1.8h-1.8zM264.31 151.06h1.8v1.8h-1.8zM265.76 150.79h1.8v1.8h-1.8zM267.24 151.06h1.8v1.8h-1.8zM268.95 151.14h1.8v1.8h-1.8zM270.17 151.1h1.8v1.8h-1.8zM271.7 150.74h1.8v1.8h-1.8zM272.99 151.13h1.8v1.8h-1.8zM274.79 150.86h1.8v1.8h-1.8zM276.16 150.66h1.8v1.8h-1.8zM277.5 151.12h1.8v1.8h-1.8zM278.79 150.92h1.8v1.8h-1.8zM280.39 150.68h1.8v1.8h-1.8zM281.76 151.04h1.8v1.8h-1.8zM283.57 150.8h1.8v1.8h-1.8zM284.69 151.05h1.8v1.8h-1.8zM287.75 150.7h1.8v1.8h-1.8zM289.28 150.75h1.8v1.8h-1.8zM292.16 150.91h1.8v1.8h-1.8zM294.77 150.9h1.8v1.8h-1.8zM296.62 151.07h1.8v1.8h-1.8zM221.16 152.25h1.8v1.8h-1.8zM222.45 152.32h1.8v1.8h-1.8zM223.67 152.35h1.8v1.8h-1.8zM225.4 152.33h1.8v1.8h-1.8zM226.65 152.24h1.8v1.8h-1.8zM228.1 152.57h1.8v1.8h-1.8zM229.57 152.54h1.8v1.8h-1.8zM231.37 152.46h1.8v1.8h-1.8zM232.74 152.12h1.8v1.8h-1.8zM233.94 152.57h1.8v1.8h-1.8zM235.61 152.27h1.8v1.8h-1.8zM237.14 152.21h1.8v1.8h-1.8zM238.36 152.38h1.8v1.8h-1.8zM240.04 152.31h1.8v1.8h-1.8zM241.51 152.13h1.8v1.8h-1.8zM242.83 152.51h1.8v1.8h-1.8zM244.33 152.21h1.8v1.8h-1.8zM245.66 152.35h1.8v1.8h-1.8zM247.07 152.12h1.8v1.8h-1.8zM248.48 152.41h1.8v1.8h-1.8zM249.84 152.43h1.8v1.8h-1.8zM251.36 152.41h1.8v1.8h-1.8zM253.08 152.22h1.8v1.8h-1.8zM254.26 152.52h1.8v1.8h-1.8zM255.9 152.15h1.8v1.8h-1.8zM257.14 152.11h1.8v1.8h-1.8zM258.85 152.19h1.8v1.8h-1.8zM260.32 152.52h1.8v1.8h-1.8zM261.38 152.56h1.8v1.8h-1.8zM262.85 152.37h1.8v1.8h-1.8zM264.61 152.29h1.8v1.8h-1.8zM265.94 152.14h1.8v1.8h-1.8zM267.19 152.12h1.8v1.8h-1.8zM268.9 152.41h1.8v1.8h-1.8zM270.47 152.51h1.8v1.8h-1.8zM272.99 152.12h1.8v1.8h-1.8zM274.71 152.31h1.8v1.8h-1.8zM275.92 152.35h1.8v1.8h-1.8zM277.64 152.4h1.8v1.8h-1.8zM279.2 152.16h1.8v1.8h-1.8zM280.25 152.22h1.8v1.8h-1.8zM281.87 152.31h1.8v1.8h-1.8zM283.22 152.55h1.8v1.8h-1.8zM284.87 152.33h1.8v1.8h-1.8zM286.16 152.33h1.8v1.8h-1.8zM287.54 152.47h1.8v1.8h-1.8zM290.55 152.56h1.8v1.8h-1.8zM292.14 152.25h1.8v1.8h-1.8zM296.53 152.44h1.8v1.8h-1.8zM220.91 153.98h1.8v1.8h-1.8zM222.27 153.63h1.8v1.8h-1.8zM223.82 153.73h1.8v1.8h-1.8zM225.19 153.8h1.8v1.8h-1.8zM226.97 153.6h1.8v1.8h-1.8zM228.31 153.57h1.8v1.8h-1.8zM229.92 153.73h1.8v1.8h-1.8zM231.21 153.65h1.8v1.8h-1.8zM232.62 153.67h1.8v1.8h-1.8zM233.94 153.79h1.8v1.8h-1.8zM235.45 153.62h1.8v1.8h-1.8zM237.12 153.59h1.8v1.8h-1.8zM238.35 153.64h1.8v1.8h-1.8zM239.72 153.95h1.8v1.8h-1.8zM241.37 153.73h1.8v1.8h-1.8zM242.65 153.97h1.8v1.8h-1.8zM244.03 153.6h1.8v1.8h-1.8zM245.83 153.69h1.8v1.8h-1.8zM246.93 153.73h1.8v1.8h-1.8zM248.71 153.68h1.8v1.8h-1.8zM249.94 153.71h1.8v1.8h-1.8zM251.65 153.64h1.8v1.8h-1.8zM252.99 153.66h1.8v1.8h-1.8zM254.43 153.64h1.8v1.8h-1.8zM256 153.8h1.8v1.8h-1.8zM257.18 153.94h1.8v1.8h-1.8zM258.81 153.76h1.8v1.8h-1.8zM260.24 153.57h1.8v1.8h-1.8zM261.68 153.78h1.8v1.8h-1.8zM264.68 153.71h1.8v1.8h-1.8zM265.74 153.89h1.8v1.8h-1.8zM267.3 153.55h1.8v1.8h-1.8zM268.81 153.89h1.8v1.8h-1.8zM270.15 153.63h1.8v1.8h-1.8zM271.71 153.82h1.8v1.8h-1.8zM273.25 153.7h1.8v1.8h-1.8zM274.57 153.69h1.8v1.8h-1.8zM276.34 153.91h1.8v1.8h-1.8zM277.55 153.63h1.8v1.8h-1.8zM278.8 154.03h1.8v1.8h-1.8zM281.85 153.95h1.8v1.8h-1.8zM283.36 153.57h1.8v1.8h-1.8zM284.73 153.65h1.8v1.8h-1.8zM287.61 153.63h1.8v1.8h-1.8zM289.18 153.98h1.8v1.8h-1.8zM291.98 153.78h1.8v1.8h-1.8zM293.39 153.67h1.8v1.8h-1.8zM295.03 153.63h1.8v1.8h-1.8zM220.95 155.34h1.8v1.8h-1.8zM222.6 155.32h1.8v1.8h-1.8zM224.15 155.23h1.8v1.8h-1.8zM225.44 155.08h1.8v1.8h-1.8zM226.76 155.06h1.8v1.8h-1.8zM228.36 155.09h1.8v1.8h-1.8zM229.47 155.09h1.8v1.8h-1.8zM231.03 155.31h1.8v1.8h-1.8zM232.64 155.06h1.8v1.8h-1.8zM233.92 155.26h1.8v1.8h-1.8zM235.38 155.47h1.8v1.8h-1.8zM236.95 155.35h1.8v1.8h-1.8zM238.34 155.24h1.8v1.8h-1.8zM239.8 155.45h1.8v1.8h-1.8zM241.19 155.07h1.8v1.8h-1.8zM242.72 155.22h1.8v1.8h-1.8zM244.18 155.47h1.8v1.8h-1.8zM245.85 155.08h1.8v1.8h-1.8zM246.99 155.1h1.8v1.8h-1.8zM248.46 155.24h1.8v1.8h-1.8zM250.13 155.12h1.8v1.8h-1.8zM251.41 155.45h1.8v1.8h-1.8zM252.97 155.32h1.8v1.8h-1.8zM254.58 155.32h1.8v1.8h-1.8zM256.04 155.42h1.8v1.8h-1.8zM257.49 155.49h1.8v1.8h-1.8zM258.65 155.24h1.8v1.8h-1.8zM261.84 155.28h1.8v1.8h-1.8zM262.94 155.29h1.8v1.8h-1.8zM264.52 155.19h1.8v1.8h-1.8zM265.87 155.19h1.8v1.8h-1.8zM267.47 155.43h1.8v1.8h-1.8zM268.77 155.49h1.8v1.8h-1.8zM270.47 155.41h1.8v1.8h-1.8zM271.92 155.48h1.8v1.8h-1.8zM273.06 155.26h1.8v1.8h-1.8zM274.82 155.04h1.8v1.8h-1.8zM276.14 155.4h1.8v1.8h-1.8zM277.74 155.48h1.8v1.8h-1.8zM278.78 155.47h1.8v1.8h-1.8zM280.29 155.06h1.8v1.8h-1.8zM282.04 155.06h1.8v1.8h-1.8zM283.34 155.24h1.8v1.8h-1.8zM284.93 155.48h1.8v1.8h-1.8zM286.47 155.29h1.8v1.8h-1.8zM287.83 155.47h1.8v1.8h-1.8zM289.11 155.02h1.8v1.8h-1.8zM290.59 155.49h1.8v1.8h-1.8zM293.45 155.26h1.8v1.8h-1.8zM294.74 155.16h1.8v1.8h-1.8zM296.3 155.33h1.8v1.8h-1.8zM221.22 156.69h1.8v1.8h-1.8zM222.34 156.57h1.8v1.8h-1.8zM224.06 156.86h1.8v1.8h-1.8zM225.14 156.63h1.8v1.8h-1.8zM226.66 156.71h1.8v1.8h-1.8zM228.18 156.52h1.8v1.8h-1.8zM229.89 156.8h1.8v1.8h-1.8zM231.14 156.89h1.8v1.8h-1.8zM232.47 156.8h1.8v1.8h-1.8zM233.81 156.58h1.8v1.8h-1.8zM235.49 156.85h1.8v1.8h-1.8zM237.05 156.74h1.8v1.8h-1.8zM238.55 156.94h1.8v1.8h-1.8zM239.93 156.61h1.8v1.8h-1.8zM241.23 156.8h1.8v1.8h-1.8zM242.65 156.8h1.8v1.8h-1.8zM244.4 156.87h1.8v1.8h-1.8zM245.82 156.92h1.8v1.8h-1.8zM247.01 156.84h1.8v1.8h-1.8zM248.58 156.78h1.8v1.8h-1.8zM250.19 156.51h1.8v1.8h-1.8zM251.39 156.84h1.8v1.8h-1.8zM252.73 156.47h1.8v1.8h-1.8zM254.45 156.65h1.8v1.8h-1.8zM255.75 156.48h1.8v1.8h-1.8zM257.2 156.78h1.8v1.8h-1.8zM258.75 156.62h1.8v1.8h-1.8zM260.24 156.51h1.8v1.8h-1.8zM261.6 156.46h1.8v1.8h-1.8zM263.01 156.46h1.8v1.8h-1.8zM264.3 156.6h1.8v1.8h-1.8zM266.05 156.51h1.8v1.8h-1.8zM267.57 156.57h1.8v1.8h-1.8zM268.76 156.67h1.8v1.8h-1.8zM270.3 156.81h1.8v1.8h-1.8zM271.76 156.55h1.8v1.8h-1.8zM273.32 156.9h1.8v1.8h-1.8zM274.89 156.85h1.8v1.8h-1.8zM276.14 156.91h1.8v1.8h-1.8zM278.91 156.82h1.8v1.8h-1.8zM282.05 156.85h1.8v1.8h-1.8zM283.16 156.87h1.8v1.8h-1.8zM286.22 156.48h1.8v1.8h-1.8zM287.94 156.79h1.8v1.8h-1.8zM288.92 156.49h1.8v1.8h-1.8zM290.68 156.53h1.8v1.8h-1.8zM293.28 156.82h1.8v1.8h-1.8zM294.74 156.51h1.8v1.8h-1.8zM221.23 158.05h1.8v1.8h-1.8zM222.38 158.23h1.8v1.8h-1.8zM224.03 158.32h1.8v1.8h-1.8zM225.29 158.11h1.8v1.8h-1.8zM226.88 158.3h1.8v1.8h-1.8zM228.08 158.18h1.8v1.8h-1.8zM229.47 158.11h1.8v1.8h-1.8zM231.07 158.27h1.8v1.8h-1.8zM232.48 158.28h1.8v1.8h-1.8zM234.09 158.31h1.8v1.8h-1.8zM235.68 158.36h1.8v1.8h-1.8zM237.11 157.92h1.8v1.8h-1.8zM238.4 158.28h1.8v1.8h-1.8zM239.89 158.28h1.8v1.8h-1.8zM241.28 157.94h1.8v1.8h-1.8zM242.92 158.03h1.8v1.8h-1.8zM244.44 158.22h1.8v1.8h-1.8zM245.65 158.4h1.8v1.8h-1.8zM247.34 157.95h1.8v1.8h-1.8zM248.51 157.94h1.8v1.8h-1.8zM250.12 158.22h1.8v1.8h-1.8zM251.24 157.91h1.8v1.8h-1.8zM252.72 158.37h1.8v1.8h-1.8zM254.26 157.91h1.8v1.8h-1.8zM255.6 158.09h1.8v1.8h-1.8zM258.51 157.93h1.8v1.8h-1.8zM260.15 158.23h1.8v1.8h-1.8zM261.75 158.16h1.8v1.8h-1.8zM263.18 158.1h1.8v1.8h-1.8zM264.47 158.05h1.8v1.8h-1.8zM267.45 158h1.8v1.8h-1.8zM268.75 158.15h1.8v1.8h-1.8zM270.28 158.05h1.8v1.8h-1.8zM271.51 158.25h1.8v1.8h-1.8zM274.53 158.28h1.8v1.8h-1.8zM276.11 158.13h1.8v1.8h-1.8zM277.68 158.15h1.8v1.8h-1.8zM280.45 158.18h1.8v1.8h-1.8zM281.71 158.38h1.8v1.8h-1.8zM283.45 158.15h1.8v1.8h-1.8zM284.82 158.2h1.8v1.8h-1.8zM286.19 158.03h1.8v1.8h-1.8zM289.08 158.28h1.8v1.8h-1.8zM290.77 157.97h1.8v1.8h-1.8zM291.91 158.17h1.8v1.8h-1.8zM293.34 158.35h1.8v1.8h-1.8zM294.89 157.91h1.8v1.8h-1.8zM221.22 159.76h1.8v1.8h-1.8zM222.37 159.77h1.8v1.8h-1.8zM224.02 159.73h1.8v1.8h-1.8zM225.57 159.8h1.8v1.8h-1.8zM226.72 159.76h1.8v1.8h-1.8zM228.37 159.4h1.8v1.8h-1.8zM229.82 159.37h1.8v1.8h-1.8zM231.34 159.48h1.8v1.8h-1.8zM232.44 159.64h1.8v1.8h-1.8zM234.2 159.68h1.8v1.8h-1.8zM235.55 159.63h1.8v1.8h-1.8zM236.86 159.52h1.8v1.8h-1.8zM238.46 159.77h1.8v1.8h-1.8zM239.74 159.48h1.8v1.8h-1.8zM241.39 159.76h1.8v1.8h-1.8zM242.69 159.79h1.8v1.8h-1.8zM244.31 159.73h1.8v1.8h-1.8zM245.58 159.53h1.8v1.8h-1.8zM247.34 159.76h1.8v1.8h-1.8zM248.78 159.44h1.8v1.8h-1.8zM249.86 159.72h1.8v1.8h-1.8zM251.47 159.66h1.8v1.8h-1.8zM252.9 159.56h1.8v1.8h-1.8zM254.14 159.44h1.8v1.8h-1.8zM255.72 159.74h1.8v1.8h-1.8zM257.12 159.85h1.8v1.8h-1.8zM258.54 159.43h1.8v1.8h-1.8zM260.03 159.78h1.8v1.8h-1.8zM261.47 159.71h1.8v1.8h-1.8zM263.27 159.44h1.8v1.8h-1.8zM264.56 159.44h1.8v1.8h-1.8zM265.93 159.67h1.8v1.8h-1.8zM267.19 159.77h1.8v1.8h-1.8zM268.71 159.62h1.8v1.8h-1.8zM270.1 159.79h1.8v1.8h-1.8zM271.92 159.39h1.8v1.8h-1.8zM273.32 159.69h1.8v1.8h-1.8zM275.99 159.56h1.8v1.8h-1.8zM277.39 159.59h1.8v1.8h-1.8zM278.93 159.58h1.8v1.8h-1.8zM280.28 159.58h1.8v1.8h-1.8zM281.85 159.7h1.8v1.8h-1.8zM283.11 159.6h1.8v1.8h-1.8zM286.46 159.84h1.8v1.8h-1.8zM287.67 159.41h1.8v1.8h-1.8zM289.21 159.44h1.8v1.8h-1.8zM290.81 159.37h1.8v1.8h-1.8zM292.04 159.6h1.8v1.8h-1.8zM293.56 159.79h1.8v1.8h-1.8zM296.17 159.59h1.8v1.8h-1.8zM221.09 160.83h1.8v1.8h-1.8zM222.45 161.07h1.8v1.8h-1.8zM223.73 160.88h1.8v1.8h-1.8zM225.2 161h1.8v1.8h-1.8zM226.88 160.82h1.8v1.8h-1.8zM228.17 161.19h1.8v1.8h-1.8zM229.85 161.09h1.8v1.8h-1.8zM230.97 161.28h1.8v1.8h-1.8zM232.45 161.02h1.8v1.8h-1.8zM234.13 161.19h1.8v1.8h-1.8zM235.54 160.88h1.8v1.8h-1.8zM236.84 161.21h1.8v1.8h-1.8zM238.52 160.82h1.8v1.8h-1.8zM239.78 161.28h1.8v1.8h-1.8zM241.13 161.26h1.8v1.8h-1.8zM242.73 161.15h1.8v1.8h-1.8zM244.05 161.06h1.8v1.8h-1.8zM245.4 161.28h1.8v1.8h-1.8zM247.22 161.22h1.8v1.8h-1.8zM248.59 160.85h1.8v1.8h-1.8zM249.77 161.05h1.8v1.8h-1.8zM251.53 161h1.8v1.8h-1.8zM253.04 161.06h1.8v1.8h-1.8zM254.3 160.98h1.8v1.8h-1.8zM255.95 161.27h1.8v1.8h-1.8zM257.31 160.87h1.8v1.8h-1.8zM258.8 160.86h1.8v1.8h-1.8zM260.36 160.91h1.8v1.8h-1.8zM261.63 161.28h1.8v1.8h-1.8zM262.99 160.89h1.8v1.8h-1.8zM264.43 160.81h1.8v1.8h-1.8zM265.91 161.29h1.8v1.8h-1.8zM268.89 161.11h1.8v1.8h-1.8zM270.48 161.04h1.8v1.8h-1.8zM271.55 161.07h1.8v1.8h-1.8zM273.26 161.09h1.8v1.8h-1.8zM274.71 160.82h1.8v1.8h-1.8zM276.07 160.92h1.8v1.8h-1.8zM277.73 161.07h1.8v1.8h-1.8zM279.12 161.02h1.8v1.8h-1.8zM280.51 160.92h1.8v1.8h-1.8zM281.66 161.13h1.8v1.8h-1.8zM283.17 160.89h1.8v1.8h-1.8zM285.02 160.87h1.8v1.8h-1.8zM286.18 160.89h1.8v1.8h-1.8zM287.77 160.82h1.8v1.8h-1.8zM289.17 161.09h1.8v1.8h-1.8zM290.44 161.05h1.8v1.8h-1.8zM292.09 161.29h1.8v1.8h-1.8zM293.5 161.11h1.8v1.8h-1.8zM296.28 161.05h1.8v1.8h-1.8zM220.78 162.44h1.8v1.8h-1.8zM222.33 162.49h1.8v1.8h-1.8zM223.75 162.53h1.8v1.8h-1.8zM225.59 162.38h1.8v1.8h-1.8zM226.9 162.73h1.8v1.8h-1.8zM228.29 162.71h1.8v1.8h-1.8zM229.56 162.7h1.8v1.8h-1.8zM230.97 162.72h1.8v1.8h-1.8zM232.72 162.41h1.8v1.8h-1.8zM234 162.54h1.8v1.8h-1.8zM235.61 162.45h1.8v1.8h-1.8zM236.95 162.64h1.8v1.8h-1.8zM238.63 162.48h1.8v1.8h-1.8zM239.78 162.27h1.8v1.8h-1.8zM241.49 162.6h1.8v1.8h-1.8zM242.57 162.74h1.8v1.8h-1.8zM244.4 162.52h1.8v1.8h-1.8zM245.68 162.36h1.8v1.8h-1.8zM246.92 162.6h1.8v1.8h-1.8zM248.44 162.52h1.8v1.8h-1.8zM249.79 162.55h1.8v1.8h-1.8zM251.34 162.58h1.8v1.8h-1.8zM252.92 162.67h1.8v1.8h-1.8zM254.44 162.28h1.8v1.8h-1.8zM255.86 162.63h1.8v1.8h-1.8zM257.34 162.3h1.8v1.8h-1.8zM258.87 162.5h1.8v1.8h-1.8zM260.17 162.71h1.8v1.8h-1.8zM261.77 162.72h1.8v1.8h-1.8zM263 162.27h1.8v1.8h-1.8zM264.74 162.59h1.8v1.8h-1.8zM265.93 162.32h1.8v1.8h-1.8zM267.53 162.44h1.8v1.8h-1.8zM268.93 162.33h1.8v1.8h-1.8zM270.2 162.7h1.8v1.8h-1.8zM271.77 162.71h1.8v1.8h-1.8zM273.34 162.72h1.8v1.8h-1.8zM274.68 162.29h1.8v1.8h-1.8zM276.04 162.43h1.8v1.8h-1.8zM277.78 162.56h1.8v1.8h-1.8zM278.9 162.28h1.8v1.8h-1.8zM280.39 162.66h1.8v1.8h-1.8zM282.06 162.33h1.8v1.8h-1.8zM283.16 162.54h1.8v1.8h-1.8zM284.59 162.31h1.8v1.8h-1.8zM286.32 162.67h1.8v1.8h-1.8zM287.7 162.32h1.8v1.8h-1.8zM289.22 162.64h1.8v1.8h-1.8zM290.74 162.55h1.8v1.8h-1.8zM295.06 162.29h1.8v1.8h-1.8zM221.16 164.08h1.8v1.8h-1.8zM222.59 163.97h1.8v1.8h-1.8zM223.71 164.05h1.8v1.8h-1.8zM225.19 163.79h1.8v1.8h-1.8zM226.67 163.79h1.8v1.8h-1.8zM228.15 163.89h1.8v1.8h-1.8zM229.92 164.04h1.8v1.8h-1.8zM231.13 163.94h1.8v1.8h-1.8zM232.35 163.79h1.8v1.8h-1.8zM234.25 163.94h1.8v1.8h-1.8zM235.37 163.8h1.8v1.8h-1.8zM236.94 163.98h1.8v1.8h-1.8zM238.52 163.88h1.8v1.8h-1.8zM239.65 163.84h1.8v1.8h-1.8zM241.16 163.76h1.8v1.8h-1.8zM242.66 163.71h1.8v1.8h-1.8zM244.07 163.77h1.8v1.8h-1.8zM245.44 164.07h1.8v1.8h-1.8zM247.25 163.72h1.8v1.8h-1.8zM248.54 164.15h1.8v1.8h-1.8zM250 164.16h1.8v1.8h-1.8zM251.41 163.87h1.8v1.8h-1.8zM252.94 164.01h1.8v1.8h-1.8zM254.19 164.15h1.8v1.8h-1.8zM255.79 163.86h1.8v1.8h-1.8zM257.48 163.85h1.8v1.8h-1.8zM258.48 163.91h1.8v1.8h-1.8zM260.25 163.78h1.8v1.8h-1.8zM261.5 164.01h1.8v1.8h-1.8zM262.99 163.71h1.8v1.8h-1.8zM264.72 163.91h1.8v1.8h-1.8zM266.1 164.13h1.8v1.8h-1.8zM267.17 164.19h1.8v1.8h-1.8zM269.04 164.18h1.8v1.8h-1.8zM270.37 163.81h1.8v1.8h-1.8zM271.94 164.09h1.8v1.8h-1.8zM273.42 164.14h1.8v1.8h-1.8zM274.82 164.1h1.8v1.8h-1.8zM276.01 164.02h1.8v1.8h-1.8zM277.34 163.89h1.8v1.8h-1.8zM279.03 164.11h1.8v1.8h-1.8zM280.42 164.05h1.8v1.8h-1.8zM281.78 163.74h1.8v1.8h-1.8zM283.41 163.88h1.8v1.8h-1.8zM284.57 163.92h1.8v1.8h-1.8zM286.2 164.09h1.8v1.8h-1.8zM287.65 164.14h1.8v1.8h-1.8zM289.22 163.77h1.8v1.8h-1.8zM290.62 163.83h1.8v1.8h-1.8zM296.22 163.84h1.8v1.8h-1.8z"/>
<path fill="#c8193f" d="M284.68 99.86h2.1v2.1h-2.1zM232.9 101.69h2.1v2.1h-2.1zM257.3 101.58h2.1v2.1h-2.1zM227.64 102.9h2.1v2.1h-2.1zM232.04 102.75h2.1v2.1h-2.1zM242.28 102.6h2.1v2.1h-2.1zM243.98 102.59h2.1v2.1h-2.1zM251.59 103.07h2.1v2.1h-2.1zM257.38 103.22h2.1v2.1h-2.1zM288.63 102.99h2.1v2.1h-2.1zM227.74 107.02h2.1v2.1h-2.1zM292.01 107.44h2.1v2.1h-2.1zM230.75 108.66h2.1v2.1h-2.1zM239.48 108.23h2.1v2.1h-2.1zM285.64 108.63h2.1v2.1h-2.1zM222.68 109.66h2.1v2.1h-2.1zM226.84 110.11h2.1v2.1h-2.1zM229.66 109.93h2.1v2.1h-2.1zM248.32 110.58h2.1v2.1h-2.1zM258.37 110.22h2.1v2.1h-2.1zM265.72 110.12h2.1v2.1h-2.1zM276.34 110.06h2.1v2.1h-2.1zM282.9 109.91h2.1v2.1h-2.1zM295.77 110.13h2.1v2.1h-2.1zM221.32 111.37h2.1v2.1h-2.1zM223.62 112.1h2.1v2.1h-2.1zM226.38 111.8h2.1v2.1h-2.1zM228.22 111.51h2.1v2.1h-2.1zM229.6 111.53h2.1v2.1h-2.1zM248.32 111.39h2.1v2.1h-2.1zM255.19 111.19h2.1v2.1h-2.1zM260.25 112.08h2.1v2.1h-2.1zM262.76 111.98h2.1v2.1h-2.1zM276.29 111.88h2.1v2.1h-2.1zM294.45 111.71h2.1v2.1h-2.1zM243.07 112.8h2.1v2.1h-2.1zM254.39 113.19h2.1v2.1h-2.1zM258.1 113.5h2.1v2.1h-2.1zM265.48 113.02h2.1v2.1h-2.1zM272.02 112.89h2.1v2.1h-2.1zM278.57 112.95h2.1v2.1h-2.1zM281.94 112.74h2.1v2.1h-2.1zM293.65 112.84h2.1v2.1h-2.1zM294.56 113.38h2.1v2.1h-2.1zM306.01 112.64h2.1v2.1h-2.1zM220.84 114.99h2.1v2.1h-2.1zM232.64 114.42h2.1v2.1h-2.1zM235.74 114.46h2.1v2.1h-2.1zM238.35 114.75h2.1v2.1h-2.1zM241.18 114.73h2.1v2.1h-2.1zM244.38 114.46h2.1v2.1h-2.1zM268.83 114.72h2.1v2.1h-2.1zM279.84 114.5h2.1v2.1h-2.1zM291.83 114.08h2.1v2.1h-2.1zM297.88 114.17h2.1v2.1h-2.1zM303.35 114.89h2.1v2.1h-2.1zM225.55 116.37h2.1v2.1h-2.1zM228.52 115.66h2.1v2.1h-2.1zM234.13 115.52h2.1v2.1h-2.1zM236.73 115.47h2.1v2.1h-2.1zM238.47 116.18h2.1v2.1h-2.1zM250.01 115.8h2.1v2.1h-2.1zM250.86 116.14h2.1v2.1h-2.1zM252.58 115.75h2.1v2.1h-2.1zM254.35 115.48h2.1v2.1h-2.1zM264.01 116.18h2.1v2.1h-2.1zM284.49 115.57h2.1v2.1h-2.1zM299.64 115.75h2.1v2.1h-2.1zM220.98 117.76h2.1v2.1h-2.1zM224.04 117.04h2.1v2.1h-2.1zM226.84 117.8h2.1v2.1h-2.1zM227.73 117.44h2.1v2.1h-2.1zM230.67 116.99h2.1v2.1h-2.1zM235.78 117.69h2.1v2.1h-2.1zM238.29 117.38h2.1v2.1h-2.1zM240.94 117.04h2.1v2.1h-2.1zM244.27 117.6h2.1v2.1h-2.1zM247.13 117.69h2.1v2.1h-2.1zM249.97 117.79h2.1v2.1h-2.1zM251.1 117.81h2.1v2.1h-2.1zM253.18 117.44h2.1v2.1h-2.1zM255.46 117.62h2.1v2.1h-2.1zM261.64 117.66h2.1v2.1h-2.1zM262.77 117.05h2.1v2.1h-2.1zM264.02 117.66h2.1v2.1h-2.1zM273.45 117.73h2.1v2.1h-2.1zM284.15 117.47h2.1v2.1h-2.1zM290.44 117.64h2.1v2.1h-2.1zM297.24 117.4h2.1v2.1h-2.1zM303.35 117.64h2.1v2.1h-2.1zM254.1 118.68h2.1v2.1h-2.1zM255.81 118.47h2.1v2.1h-2.1zM257.41 118.77h2.1v2.1h-2.1zM258.77 119.28h2.1v2.1h-2.1zM264.31 118.45h2.1v2.1h-2.1zM274.99 119.18h2.1v2.1h-2.1zM255.55 120.31h2.1v2.1h-2.1zM258.83 119.8h2.1v2.1h-2.1zM259.96 120.27h2.1v2.1h-2.1zM263.19 119.98h2.1v2.1h-2.1zM264.03 120.65h2.1v2.1h-2.1zM274.8 120.28h2.1v2.1h-2.1zM283.66 120.15h2.1v2.1h-2.1zM256.07 121.45h2.1v2.1h-2.1zM257.09 121.81h2.1v2.1h-2.1zM263.28 122.04h2.1v2.1h-2.1zM263.91 121.54h2.1v2.1h-2.1zM271.95 122.21h2.1v2.1h-2.1zM274.87 122.06h2.1v2.1h-2.1zM277.56 121.87h2.1v2.1h-2.1zM279.95 122.07h2.1v2.1h-2.1zM284.3 122.19h2.1v2.1h-2.1zM256.81 123.63h2.1v2.1h-2.1zM261.82 122.73h2.1v2.1h-2.1zM268.83 123.24h2.1v2.1h-2.1zM276.06 123.64h2.1v2.1h-2.1zM277.03 123.67h2.1v2.1h-2.1zM279.32 122.9h2.1v2.1h-2.1zM284.66 123.23h2.1v2.1h-2.1zM300.16 123.33h2.1v2.1h-2.1zM255.29 124.22h2.1v2.1h-2.1zM258.37 125.12h2.1v2.1h-2.1zM261.37 125.08h2.1v2.1h-2.1zM272.04 124.68h2.1v2.1h-2.1zM281.77 124.22h2.1v2.1h-2.1zM283.56 124.68h2.1v2.1h-2.1zM285.14 124.24h2.1v2.1h-2.1zM290.06 125h2.1v2.1h-2.1zM296.59 124.82h2.1v2.1h-2.1zM306.26 124.83h2.1v2.1h-2.1zM261.14 126.47h2.1v2.1h-2.1zM273.47 126.02h2.1v2.1h-2.1zM274.65 126.38h2.1v2.1h-2.1zM279.81 126h2.1v2.1h-2.1zM281.96 126.51h2.1v2.1h-2.1zM286.39 126.57h2.1v2.1h-2.1zM287.88 126.22h2.1v2.1h-2.1zM290.34 125.72h2.1v2.1h-2.1zM293.52 126.23h2.1v2.1h-2.1zM258.88 127.16h2.1v2.1h-2.1zM264.31 127.9h2.1v2.1h-2.1zM265.57 127.9h2.1v2.1h-2.1zM269.1 127.67h2.1v2.1h-2.1zM277.81 127.29h2.1v2.1h-2.1zM281.58 127.99h2.1v2.1h-2.1zM286.59 128.01h2.1v2.1h-2.1zM290.72 127.93h2.1v2.1h-2.1zM291.91 127.09h2.1v2.1h-2.1zM298.01 127.16h2.1v2.1h-2.1zM259.54 128.62h2.1v2.1h-2.1zM261.66 128.99h2.1v2.1h-2.1zM267.36 128.85h2.1v2.1h-2.1zM274.73 129.22h2.1v2.1h-2.1zM284.48 128.88h2.1v2.1h-2.1zM287.8 128.86h2.1v2.1h-2.1zM290.29 128.54h2.1v2.1h-2.1zM296.23 129.27h2.1v2.1h-2.1zM258.97 130.83h2.1v2.1h-2.1zM261.28 130.9h2.1v2.1h-2.1zM264.42 130.1h2.1v2.1h-2.1zM267.64 130.78h2.1v2.1h-2.1zM271.66 130.46h2.1v2.1h-2.1zM273.39 130.6h2.1v2.1h-2.1zM276.97 130.13h2.1v2.1h-2.1zM281.42 129.96h2.1v2.1h-2.1zM282.76 130.45h2.1v2.1h-2.1zM303.09 130.68h2.1v2.1h-2.1zM261.56 132.3h2.1v2.1h-2.1zM264.34 131.48h2.1v2.1h-2.1zM265.77 131.96h2.1v2.1h-2.1zM279.85 132.29h2.1v2.1h-2.1zM293.21 132.35h2.1v2.1h-2.1zM295.21 131.63h2.1v2.1h-2.1zM258.52 133.24h2.1v2.1h-2.1zM264.81 133.38h2.1v2.1h-2.1zM268.73 133.65h2.1v2.1h-2.1zM269.99 133.26h2.1v2.1h-2.1zM271.9 133.47h2.1v2.1h-2.1zM276.22 133.63h2.1v2.1h-2.1zM277.59 133.76h2.1v2.1h-2.1zM282.19 133.61h2.1v2.1h-2.1zM283.54 133.75h2.1v2.1h-2.1zM286.26 133.61h2.1v2.1h-2.1zM261.34 134.76h2.1v2.1h-2.1zM269.77 134.87h2.1v2.1h-2.1zM280.26 134.99h2.1v2.1h-2.1zM284.39 134.83h2.1v2.1h-2.1zM294.59 134.41h2.1v2.1h-2.1zM296.16 135.18h2.1v2.1h-2.1zM261.75 136.53h2.1v2.1h-2.1zM262.95 136.21h2.1v2.1h-2.1zM275.6 136.7h2.1v2.1h-2.1zM278.38 135.92h2.1v2.1h-2.1zM282.01 136.48h2.1v2.1h-2.1zM286.06 136.69h2.1v2.1h-2.1zM287.95 136.62h2.1v2.1h-2.1zM289.23 136.05h2.1v2.1h-2.1zM290 135.85h2.1v2.1h-2.1zM306.19 136.5h2.1v2.1h-2.1zM296.45 137.62h2.1v2.1h-2.1zM297.75 137.31h2.1v2.1h-2.1zM299.58 138.99h2.1v2.1h-2.1zM300.65 138.96h2.1v2.1h-2.1zM306.61 138.78h2.1v2.1h-2.1zM298.05 140.54h2.1v2.1h-2.1zM300.33 140.18h2.1v2.1h-2.1zM302.39 140.98h2.1v2.1h-2.1zM305.38 140.25h2.1v2.1h-2.1zM308.15 141.06h2.1v2.1h-2.1zM310.34 140.69h2.1v2.1h-2.1zM313.82 140.69h2.1v2.1h-2.1zM298.18 141.98h2.1v2.1h-2.1zM298.84 141.65h2.1v2.1h-2.1zM301.03 142.13h2.1v2.1h-2.1zM300.39 143.38h2.1v2.1h-2.1zM306.82 143.98h2.1v2.1h-2.1zM312.56 143.31h2.1v2.1h-2.1zM300.13 144.8h2.1v2.1h-2.1zM310.34 145.36h2.1v2.1h-2.1zM299.03 146.52h2.1v2.1h-2.1zM303.92 146.46h2.1v2.1h-2.1zM312.35 146.63h2.1v2.1h-2.1zM316.35 146.27h2.1v2.1h-2.1zM309.22 147.56h2.1v2.1h-2.1zM300.53 149.2h2.1v2.1h-2.1zM303.59 150.29h2.1v2.1h-2.1zM304.67 150.37h2.1v2.1h-2.1zM315.07 150.49h2.1v2.1h-2.1zM301.92 151.91h2.1v2.1h-2.1zM308.19 152.01h2.1v2.1h-2.1zM308.81 152.3h2.1v2.1h-2.1zM312.42 152.5h2.1v2.1h-2.1zM297.21 153.58h2.1v2.1h-2.1zM298.72 154.02h2.1v2.1h-2.1zM304.77 153.2h2.1v2.1h-2.1zM308.29 153.38h2.1v2.1h-2.1zM312.31 154.1h2.1v2.1h-2.1zM302.48 155.38h2.1v2.1h-2.1zM303.31 154.66h2.1v2.1h-2.1zM300.52 156.11h2.1v2.1h-2.1zM301.87 156.19h2.1v2.1h-2.1zM303.95 157h2.1v2.1h-2.1zM299.38 157.74h2.1v2.1h-2.1zM300.31 157.76h2.1v2.1h-2.1zM312.53 158.15h2.1v2.1h-2.1zM322.09 157.96h2.1v2.1h-2.1zM301.61 159.13h2.1v2.1h-2.1zM304.98 159.52h2.1v2.1h-2.1zM305.92 159.67h2.1v2.1h-2.1zM308.15 159.17h2.1v2.1h-2.1zM297.66 161.11h2.1v2.1h-2.1zM303.36 160.49h2.1v2.1h-2.1zM305.91 161.02h2.1v2.1h-2.1zM297.4 162.71h2.1v2.1h-2.1zM299.41 162.31h2.1v2.1h-2.1zM302.22 162.83h2.1v2.1h-2.1zM303.39 162.33h2.1v2.1h-2.1zM306.74 161.93h2.1v2.1h-2.1zM315.57 162.84h2.1v2.1h-2.1zM297.81 163.55h2.1v2.1h-2.1z"/>
<path fill="#eb2349" d="M395.08 102.89h1.8v1.8h-1.8zM397.79 102.65h1.8v1.8h-1.8zM399.5 102.82h1.8v1.8h-1.8zM402.36 102.52h1.8v1.8h-1.8zM403.85 102.5h1.8v1.8h-1.8zM405.01 102.77h1.8v1.8h-1.8zM406.66 102.56h1.8v1.8h-1.8zM412.28 102.88h1.8v1.8h-1.8zM415.21 102.58h1.8v1.8h-1.8zM416.57 102.41h1.8v1.8h-1.8zM418.06 102.47h1.8v1.8h-1.8zM419.48 102.41h1.8v1.8h-1.8zM421.26 102.76h1.8v1.8h-1.8zM426.92 102.63h1.8v1.8h-1.8zM431.35 102.85h1.8v1.8h-1.8zM432.78 102.82h1.8v1.8h-1.8zM394.81 104.3h1.8v1.8h-1.8zM397.82 103.87h1.8v1.8h-1.8zM399.31 104.23h1.8v1.8h-1.8zM401.01 104h1.8v1.8h-1.8zM402.48 103.93h1.8v1.8h-1.8zM403.65 104.16h1.8v1.8h-1.8zM405.39 104.06h1.8v1.8h-1.8zM406.43 104.06h1.8v1.8h-1.8zM408.04 103.89h1.8v1.8h-1.8zM409.45 103.95h1.8v1.8h-1.8zM411.1 104.13h1.8v1.8h-1.8zM412.34 104.09h1.8v1.8h-1.8zM413.68 104.31h1.8v1.8h-1.8zM415.45 104.21h1.8v1.8h-1.8zM418.07 104.23h1.8v1.8h-1.8zM419.6 104.31h1.8v1.8h-1.8zM420.89 104.01h1.8v1.8h-1.8zM422.37 104.05h1.8v1.8h-1.8zM423.88 104.03h1.8v1.8h-1.8zM425.41 104.3h1.8v1.8h-1.8zM426.84 104.1h1.8v1.8h-1.8zM428.27 104h1.8v1.8h-1.8zM429.6 103.99h1.8v1.8h-1.8zM431.26 104.2h1.8v1.8h-1.8zM432.56 104.27h1.8v1.8h-1.8zM394.81 105.52h1.8v1.8h-1.8zM396.47 105.49h1.8v1.8h-1.8zM397.96 105.63h1.8v1.8h-1.8zM399.12 105.53h1.8v1.8h-1.8zM400.6 105.65h1.8v1.8h-1.8zM402.48 105.79h1.8v1.8h-1.8zM403.79 105.3h1.8v1.8h-1.8zM405.21 105.68h1.8v1.8h-1.8zM406.52 105.64h1.8v1.8h-1.8zM407.85 105.51h1.8v1.8h-1.8zM409.72 105.57h1.8v1.8h-1.8zM411.18 105.31h1.8v1.8h-1.8zM412.39 105.69h1.8v1.8h-1.8zM413.63 105.38h1.8v1.8h-1.8zM415.24 105.79h1.8v1.8h-1.8zM416.53 105.57h1.8v1.8h-1.8zM418.24 105.46h1.8v1.8h-1.8zM419.47 105.44h1.8v1.8h-1.8zM420.91 105.55h1.8v1.8h-1.8zM422.58 105.65h1.8v1.8h-1.8zM424.14 105.69h1.8v1.8h-1.8zM425.58 105.56h1.8v1.8h-1.8zM426.7 105.73h1.8v1.8h-1.8zM428.59 105.6h1.8v1.8h-1.8zM429.63 105.59h1.8v1.8h-1.8zM431.07 105.54h1.8v1.8h-1.8zM432.57 105.32h1.8v1.8h-1.8zM433.92 105.31h1.8v1.8h-1.8zM435.35 105.76h1.8v1.8h-1.8zM437.23 105.68h1.8v1.8h-1.8zM442.67 105.8h1.8v1.8h-1.8zM444.16 105.4h1.8v1.8h-1.8zM445.96 105.33h1.8v1.8h-1.8zM447.29 105.72h1.8v1.8h-1.8zM448.72 105.72h1.8v1.8h-1.8zM450.14 105.46h1.8v1.8h-1.8zM451.46 105.53h1.8v1.8h-1.8zM452.84 105.71h1.8v1.8h-1.8zM454.45 105.34h1.8v1.8h-1.8zM457.41 105.77h1.8v1.8h-1.8zM458.83 105.45h1.8v1.8h-1.8zM460.45 105.38h1.8v1.8h-1.8zM461.72 105.43h1.8v1.8h-1.8zM463.27 105.39h1.8v1.8h-1.8zM466.04 105.75h1.8v1.8h-1.8zM467.61 105.31h1.8v1.8h-1.8zM394.78 107.2h1.8v1.8h-1.8zM396.56 106.9h1.8v1.8h-1.8zM398.02 107h1.8v1.8h-1.8zM399.26 107.02h1.8v1.8h-1.8zM401.04 106.75h1.8v1.8h-1.8zM402.21 106.91h1.8v1.8h-1.8zM403.88 107.02h1.8v1.8h-1.8zM405.38 107.17h1.8v1.8h-1.8zM406.55 107.12h1.8v1.8h-1.8zM407.89 107.21h1.8v1.8h-1.8zM409.47 107.08h1.8v1.8h-1.8zM410.93 107.08h1.8v1.8h-1.8zM412.44 107.17h1.8v1.8h-1.8zM413.72 107.19h1.8v1.8h-1.8zM415.51 107.08h1.8v1.8h-1.8zM416.72 106.87h1.8v1.8h-1.8zM418.04 107.05h1.8v1.8h-1.8zM419.71 106.78h1.8v1.8h-1.8zM420.92 107h1.8v1.8h-1.8zM422.73 107.07h1.8v1.8h-1.8zM424.02 106.82h1.8v1.8h-1.8zM425.25 106.82h1.8v1.8h-1.8zM426.74 107.05h1.8v1.8h-1.8zM428.54 107.08h1.8v1.8h-1.8zM429.59 107.25h1.8v1.8h-1.8zM431 107.11h1.8v1.8h-1.8zM432.59 107.14h1.8v1.8h-1.8zM434.19 107.23h1.8v1.8h-1.8zM435.79 107.07h1.8v1.8h-1.8zM437.19 107.09h1.8v1.8h-1.8zM438.46 107.2h1.8v1.8h-1.8zM440.14 107.2h1.8v1.8h-1.8zM441.39 107.05h1.8v1.8h-1.8zM443.01 106.97h1.8v1.8h-1.8zM444.1 106.77h1.8v1.8h-1.8zM446.96 107.1h1.8v1.8h-1.8zM448.88 107.07h1.8v1.8h-1.8zM450.13 106.92h1.8v1.8h-1.8zM451.67 106.83h1.8v1.8h-1.8zM454.7 107.03h1.8v1.8h-1.8zM455.81 106.88h1.8v1.8h-1.8zM457.48 106.86h1.8v1.8h-1.8zM458.69 107.04h1.8v1.8h-1.8zM460.18 107.1h1.8v1.8h-1.8zM463.18 106.77h1.8v1.8h-1.8zM464.62 107.16h1.8v1.8h-1.8zM467.48 106.92h1.8v1.8h-1.8zM469.12 106.96h1.8v1.8h-1.8zM394.98 108.63h1.8v1.8h-1.8zM396.41 108.66h1.8v1.8h-1.8zM398.05 108.3h1.8v1.8h-1.8zM399.15 108.54h1.8v1.8h-1.8zM400.9 108.45h1.8v1.8h-1.8zM402.43 108.64h1.8v1.8h-1.8zM403.75 108.46h1.8v1.8h-1.8zM405.08 108.29h1.8v1.8h-1.8zM406.69 108.52h1.8v1.8h-1.8zM408.06 108.52h1.8v1.8h-1.8zM409.5 108.42h1.8v1.8h-1.8zM411.16 108.67h1.8v1.8h-1.8zM412.4 108.26h1.8v1.8h-1.8zM413.63 108.55h1.8v1.8h-1.8zM415.1 108.55h1.8v1.8h-1.8zM416.76 108.62h1.8v1.8h-1.8zM418.33 108.64h1.8v1.8h-1.8zM419.6 108.42h1.8v1.8h-1.8zM421.31 108.27h1.8v1.8h-1.8zM422.34 108.45h1.8v1.8h-1.8zM423.9 108.23h1.8v1.8h-1.8zM425.29 108.26h1.8v1.8h-1.8zM426.96 108.55h1.8v1.8h-1.8zM428.4 108.39h1.8v1.8h-1.8zM429.98 108.28h1.8v1.8h-1.8zM431.19 108.22h1.8v1.8h-1.8zM432.9 108.69h1.8v1.8h-1.8zM434.19 108.3h1.8v1.8h-1.8zM435.85 108.67h1.8v1.8h-1.8zM437.25 108.38h1.8v1.8h-1.8zM438.4 108.24h1.8v1.8h-1.8zM440.16 108.21h1.8v1.8h-1.8zM441.46 108.52h1.8v1.8h-1.8zM443.06 108.26h1.8v1.8h-1.8zM444.1 108.32h1.8v1.8h-1.8zM447.18 108.56h1.8v1.8h-1.8zM448.82 108.63h1.8v1.8h-1.8zM450.28 108.65h1.8v1.8h-1.8zM451.51 108.24h1.8v1.8h-1.8zM453.06 108.61h1.8v1.8h-1.8zM454.36 108.29h1.8v1.8h-1.8zM456.14 108.28h1.8v1.8h-1.8zM457.12 108.25h1.8v1.8h-1.8zM458.94 108.51h1.8v1.8h-1.8zM460.33 108.62h1.8v1.8h-1.8zM461.49 108.57h1.8v1.8h-1.8zM464.51 108.23h1.8v1.8h-1.8zM466.11 108.57h1.8v1.8h-1.8zM467.32 108.54h1.8v1.8h-1.8zM468.74 108.44h1.8v1.8h-1.8zM470.18 108.21h1.8v1.8h-1.8zM395.17 109.93h1.8v1.8h-1.8zM396.25 110.09h1.8v1.8h-1.8zM397.77 109.83h1.8v1.8h-1.8zM399.2 109.96h1.8v1.8h-1.8zM400.81 110.02h1.8v1.8h-1.8zM402.33 110.07h1.8v1.8h-1.8zM403.92 109.92h1.8v1.8h-1.8zM404.91 110.14h1.8v1.8h-1.8zM406.62 109.82h1.8v1.8h-1.8zM408.16 109.9h1.8v1.8h-1.8zM409.34 109.81h1.8v1.8h-1.8zM410.96 109.94h1.8v1.8h-1.8zM412.6 110.03h1.8v1.8h-1.8zM413.81 109.65h1.8v1.8h-1.8zM415.12 110.15h1.8v1.8h-1.8zM416.98 110.06h1.8v1.8h-1.8zM418.31 109.98h1.8v1.8h-1.8zM419.61 109.72h1.8v1.8h-1.8zM420.99 109.85h1.8v1.8h-1.8zM422.38 109.79h1.8v1.8h-1.8zM424.01 109.84h1.8v1.8h-1.8zM425.27 109.8h1.8v1.8h-1.8zM427.12 109.66h1.8v1.8h-1.8zM428.31 109.7h1.8v1.8h-1.8zM429.84 109.67h1.8v1.8h-1.8zM431.3 109.92h1.8v1.8h-1.8zM432.9 109.74h1.8v1.8h-1.8zM435.8 110.06h1.8v1.8h-1.8zM437.05 109.67h1.8v1.8h-1.8zM438.41 110.04h1.8v1.8h-1.8zM439.94 109.78h1.8v1.8h-1.8zM441.56 109.77h1.8v1.8h-1.8zM442.8 109.84h1.8v1.8h-1.8zM444.36 109.66h1.8v1.8h-1.8zM445.98 109.65h1.8v1.8h-1.8zM447.42 110.07h1.8v1.8h-1.8zM448.71 109.76h1.8v1.8h-1.8zM449.97 109.81h1.8v1.8h-1.8zM451.73 109.73h1.8v1.8h-1.8zM452.77 110.04h1.8v1.8h-1.8zM454.42 109.73h1.8v1.8h-1.8zM455.77 109.78h1.8v1.8h-1.8zM457.28 109.87h1.8v1.8h-1.8zM458.71 109.85h1.8v1.8h-1.8zM460.18 110h1.8v1.8h-1.8zM461.87 110.11h1.8v1.8h-1.8zM464.83 109.72h1.8v1.8h-1.8zM465.98 110.08h1.8v1.8h-1.8zM468.96 109.84h1.8v1.8h-1.8zM395.19 111.37h1.8v1.8h-1.8zM396.45 111.37h1.8v1.8h-1.8zM398.03 111.33h1.8v1.8h-1.8zM399.46 111.4h1.8v1.8h-1.8zM400.75 111.4h1.8v1.8h-1.8zM402.27 111.52h1.8v1.8h-1.8zM403.63 111.42h1.8v1.8h-1.8zM405.11 111.44h1.8v1.8h-1.8zM406.44 111.21h1.8v1.8h-1.8zM407.97 111.49h1.8v1.8h-1.8zM409.39 111.45h1.8v1.8h-1.8zM410.94 111.17h1.8v1.8h-1.8zM412.42 111.17h1.8v1.8h-1.8zM413.63 111.29h1.8v1.8h-1.8zM415.34 111.51h1.8v1.8h-1.8zM416.85 111.3h1.8v1.8h-1.8zM418.23 111.22h1.8v1.8h-1.8zM419.61 111.56h1.8v1.8h-1.8zM421.08 111.51h1.8v1.8h-1.8zM422.62 111.13h1.8v1.8h-1.8zM423.97 111.53h1.8v1.8h-1.8zM425.49 111.24h1.8v1.8h-1.8zM426.73 111.28h1.8v1.8h-1.8zM428.36 111.47h1.8v1.8h-1.8zM429.87 111.22h1.8v1.8h-1.8zM431.27 111.32h1.8v1.8h-1.8zM432.64 111.38h1.8v1.8h-1.8zM433.94 111.58h1.8v1.8h-1.8zM435.54 111.37h1.8v1.8h-1.8zM437.04 111.39h1.8v1.8h-1.8zM438.27 111.58h1.8v1.8h-1.8zM440.04 111.48h1.8v1.8h-1.8zM441.21 111.15h1.8v1.8h-1.8zM443 111.25h1.8v1.8h-1.8zM444.22 111.58h1.8v1.8h-1.8zM445.94 111.48h1.8v1.8h-1.8zM447.15 111.41h1.8v1.8h-1.8zM448.62 111.17h1.8v1.8h-1.8zM450.29 111.21h1.8v1.8h-1.8zM453.18 111.31h1.8v1.8h-1.8zM454.41 111.14h1.8v1.8h-1.8zM457.11 111.5h1.8v1.8h-1.8zM458.74 111.45h1.8v1.8h-1.8zM460.06 111.59h1.8v1.8h-1.8zM463.08 111.16h1.8v1.8h-1.8zM464.69 111.46h1.8v1.8h-1.8zM466.25 111.41h1.8v1.8h-1.8zM467.5 111.57h1.8v1.8h-1.8zM469.09 111.29h1.8v1.8h-1.8zM394.79 112.85h1.8v1.8h-1.8zM396.23 112.83h1.8v1.8h-1.8zM397.96 112.55h1.8v1.8h-1.8zM399.31 112.86h1.8v1.8h-1.8zM400.65 112.88h1.8v1.8h-1.8zM402.36 112.74h1.8v1.8h-1.8zM403.92 112.84h1.8v1.8h-1.8zM405.28 112.98h1.8v1.8h-1.8zM406.38 112.79h1.8v1.8h-1.8zM408.17 112.57h1.8v1.8h-1.8zM409.43 112.95h1.8v1.8h-1.8zM410.85 112.8h1.8v1.8h-1.8zM412.53 112.87h1.8v1.8h-1.8zM413.64 112.97h1.8v1.8h-1.8zM415.43 112.67h1.8v1.8h-1.8zM416.68 112.91h1.8v1.8h-1.8zM418.12 112.94h1.8v1.8h-1.8zM419.52 112.81h1.8v1.8h-1.8zM421.01 112.94h1.8v1.8h-1.8zM422.48 112.8h1.8v1.8h-1.8zM423.82 112.94h1.8v1.8h-1.8zM425.68 113.04h1.8v1.8h-1.8zM427.11 112.73h1.8v1.8h-1.8zM428.19 112.74h1.8v1.8h-1.8zM429.83 112.7h1.8v1.8h-1.8zM431.11 112.92h1.8v1.8h-1.8zM432.89 112.86h1.8v1.8h-1.8zM434.17 112.76h1.8v1.8h-1.8zM435.41 112.99h1.8v1.8h-1.8zM437.07 112.85h1.8v1.8h-1.8zM438.44 113h1.8v1.8h-1.8zM440.03 112.55h1.8v1.8h-1.8zM441.52 112.95h1.8v1.8h-1.8zM444.07 112.69h1.8v1.8h-1.8zM445.98 112.89h1.8v1.8h-1.8zM447.1 112.93h1.8v1.8h-1.8zM448.55 113.03h1.8v1.8h-1.8zM450.01 112.64h1.8v1.8h-1.8zM451.6 112.7h1.8v1.8h-1.8zM452.81 112.55h1.8v1.8h-1.8zM454.33 112.62h1.8v1.8h-1.8zM456.04 112.88h1.8v1.8h-1.8zM457.53 112.64h1.8v1.8h-1.8zM459.04 112.94h1.8v1.8h-1.8zM460.03 112.79h1.8v1.8h-1.8zM461.51 112.85h1.8v1.8h-1.8zM466.12 112.91h1.8v1.8h-1.8zM467.5 112.76h1.8v1.8h-1.8zM394.77 114h1.8v1.8h-1.8zM396.54 114.11h1.8v1.8h-1.8zM397.71 114.17h1.8v1.8h-1.8zM399.16 114.08h1.8v1.8h-1.8zM400.6 114.13h1.8v1.8h-1.8zM402.48 114.13h1.8v1.8h-1.8zM403.69 114.34h1.8v1.8h-1.8zM404.95 114.45h1.8v1.8h-1.8zM406.42 114.31h1.8v1.8h-1.8zM407.83 114.24h1.8v1.8h-1.8zM409.73 114.11h1.8v1.8h-1.8zM410.92 114.44h1.8v1.8h-1.8zM412.2 114.29h1.8v1.8h-1.8zM413.67 114.43h1.8v1.8h-1.8zM415.54 114.34h1.8v1.8h-1.8zM416.5 114.08h1.8v1.8h-1.8zM418.28 114.38h1.8v1.8h-1.8zM419.57 114.06h1.8v1.8h-1.8zM421.05 114.14h1.8v1.8h-1.8zM422.33 114.4h1.8v1.8h-1.8zM423.77 114.22h1.8v1.8h-1.8zM425.63 114.3h1.8v1.8h-1.8zM426.89 114.03h1.8v1.8h-1.8zM428.15 114.25h1.8v1.8h-1.8zM429.6 114.07h1.8v1.8h-1.8zM431.15 114.46h1.8v1.8h-1.8zM432.76 114.14h1.8v1.8h-1.8zM434.04 114.42h1.8v1.8h-1.8zM435.79 114.44h1.8v1.8h-1.8zM436.83 114.4h1.8v1.8h-1.8zM438.64 114.4h1.8v1.8h-1.8zM439.72 114.27h1.8v1.8h-1.8zM441.6 114.5h1.8v1.8h-1.8zM443.09 114.28h1.8v1.8h-1.8zM444.17 114.29h1.8v1.8h-1.8zM445.9 114.06h1.8v1.8h-1.8zM446.95 114.28h1.8v1.8h-1.8zM448.63 114.29h1.8v1.8h-1.8zM450.32 114.18h1.8v1.8h-1.8zM451.8 114.17h1.8v1.8h-1.8zM453.22 114.35h1.8v1.8h-1.8zM454.68 114.46h1.8v1.8h-1.8zM456.08 114.48h1.8v1.8h-1.8zM457.24 114.49h1.8v1.8h-1.8zM458.64 114.16h1.8v1.8h-1.8zM460.35 114.25h1.8v1.8h-1.8zM467.47 114.09h1.8v1.8h-1.8zM394.91 115.45h1.8v1.8h-1.8zM396.63 115.8h1.8v1.8h-1.8zM398.15 115.88h1.8v1.8h-1.8zM399.47 115.46h1.8v1.8h-1.8zM400.96 115.76h1.8v1.8h-1.8zM402.48 115.56h1.8v1.8h-1.8zM403.7 115.82h1.8v1.8h-1.8zM405.35 115.75h1.8v1.8h-1.8zM406.78 115.92h1.8v1.8h-1.8zM408.11 115.84h1.8v1.8h-1.8zM409.66 115.7h1.8v1.8h-1.8zM411.16 115.58h1.8v1.8h-1.8zM412.15 115.53h1.8v1.8h-1.8zM413.92 115.92h1.8v1.8h-1.8zM415.54 115.74h1.8v1.8h-1.8zM417 115.63h1.8v1.8h-1.8zM418.15 115.6h1.8v1.8h-1.8zM419.44 115.5h1.8v1.8h-1.8zM420.98 115.7h1.8v1.8h-1.8zM422.32 115.91h1.8v1.8h-1.8zM423.76 115.89h1.8v1.8h-1.8zM425.32 115.93h1.8v1.8h-1.8zM426.88 115.6h1.8v1.8h-1.8zM428.52 115.52h1.8v1.8h-1.8zM429.74 115.84h1.8v1.8h-1.8zM431.33 115.89h1.8v1.8h-1.8zM432.83 115.58h1.8v1.8h-1.8zM435.37 115.71h1.8v1.8h-1.8zM436.84 115.46h1.8v1.8h-1.8zM438.26 115.84h1.8v1.8h-1.8zM439.92 115.82h1.8v1.8h-1.8zM441.37 115.88h1.8v1.8h-1.8zM442.64 115.83h1.8v1.8h-1.8zM444.26 115.69h1.8v1.8h-1.8zM445.99 115.91h1.8v1.8h-1.8zM447.2 115.69h1.8v1.8h-1.8zM448.49 115.74h1.8v1.8h-1.8zM449.92 115.92h1.8v1.8h-1.8zM451.62 115.49h1.8v1.8h-1.8zM452.78 115.67h1.8v1.8h-1.8zM454.68 115.81h1.8v1.8h-1.8zM455.8 115.91h1.8v1.8h-1.8zM457.42 115.53h1.8v1.8h-1.8zM460.29 115.9h1.8v1.8h-1.8zM463.24 115.48h1.8v1.8h-1.8zM467.57 115.65h1.8v1.8h-1.8zM394.94 116.95h1.8v1.8h-1.8zM396.37 116.93h1.8v1.8h-1.8zM397.92 117.2h1.8v1.8h-1.8zM399.49 117.2h1.8v1.8h-1.8zM401.04 117.23h1.8v1.8h-1.8zM402.24 117.31h1.8v1.8h-1.8zM403.7 117.11h1.8v1.8h-1.8zM405.33 117.21h1.8v1.8h-1.8zM406.52 117.29h1.8v1.8h-1.8zM407.92 117.09h1.8v1.8h-1.8zM409.67 116.95h1.8v1.8h-1.8zM411.06 117.04h1.8v1.8h-1.8zM412.21 117.01h1.8v1.8h-1.8zM414.05 117.04h1.8v1.8h-1.8zM415.25 117h1.8v1.8h-1.8zM416.79 117.15h1.8v1.8h-1.8zM418.3 117.03h1.8v1.8h-1.8zM419.46 117.19h1.8v1.8h-1.8zM421.21 117.09h1.8v1.8h-1.8zM422.34 116.96h1.8v1.8h-1.8zM424.03 116.95h1.8v1.8h-1.8zM425.69 116.91h1.8v1.8h-1.8zM426.9 117.31h1.8v1.8h-1.8zM428.4 116.93h1.8v1.8h-1.8zM429.63 117.13h1.8v1.8h-1.8zM431.41 117.33h1.8v1.8h-1.8zM432.73 117.39h1.8v1.8h-1.8zM433.95 116.99h1.8v1.8h-1.8zM435.42 117.2h1.8v1.8h-1.8zM437.3 117.23h1.8v1.8h-1.8zM438.37 117.11h1.8v1.8h-1.8zM440.16 117.24h1.8v1.8h-1.8zM441.36 117.32h1.8v1.8h-1.8zM442.77 117.34h1.8v1.8h-1.8zM444.43 116.9h1.8v1.8h-1.8zM445.76 117.14h1.8v1.8h-1.8zM447.15 117.21h1.8v1.8h-1.8zM448.53 117.32h1.8v1.8h-1.8zM450.21 116.98h1.8v1.8h-1.8zM451.39 117.39h1.8v1.8h-1.8zM453.08 117.39h1.8v1.8h-1.8zM454.51 116.9h1.8v1.8h-1.8zM455.87 117.28h1.8v1.8h-1.8zM457.42 117.09h1.8v1.8h-1.8zM458.89 117.15h1.8v1.8h-1.8zM460.01 117.39h1.8v1.8h-1.8zM461.92 116.96h1.8v1.8h-1.8zM466.28 116.98h1.8v1.8h-1.8zM395 118.76h1.8v1.8h-1.8zM396.33 118.63h1.8v1.8h-1.8zM397.97 118.69h1.8v1.8h-1.8zM399.12 118.49h1.8v1.8h-1.8zM400.85 118.51h1.8v1.8h-1.8zM402.49 118.5h1.8v1.8h-1.8zM403.76 118.73h1.8v1.8h-1.8zM405.35 118.67h1.8v1.8h-1.8zM406.77 118.51h1.8v1.8h-1.8zM407.83 118.79h1.8v1.8h-1.8zM409.6 118.53h1.8v1.8h-1.8zM411.01 118.57h1.8v1.8h-1.8zM412.51 118.83h1.8v1.8h-1.8zM413.68 118.56h1.8v1.8h-1.8zM415.55 118.74h1.8v1.8h-1.8zM416.78 118.54h1.8v1.8h-1.8zM418.43 118.52h1.8v1.8h-1.8zM419.49 118.38h1.8v1.8h-1.8zM421.06 118.53h1.8v1.8h-1.8zM422.37 118.58h1.8v1.8h-1.8zM424.05 118.41h1.8v1.8h-1.8zM425.38 118.7h1.8v1.8h-1.8zM426.78 118.71h1.8v1.8h-1.8zM428.45 118.56h1.8v1.8h-1.8zM429.56 118.63h1.8v1.8h-1.8zM431.26 118.4h1.8v1.8h-1.8zM432.5 118.79h1.8v1.8h-1.8zM434.26 118.53h1.8v1.8h-1.8zM435.66 118.43h1.8v1.8h-1.8zM436.88 118.78h1.8v1.8h-1.8zM439.89 118.46h1.8v1.8h-1.8zM441.49 118.48h1.8v1.8h-1.8zM442.71 118.36h1.8v1.8h-1.8zM444.54 118.74h1.8v1.8h-1.8zM445.56 118.45h1.8v1.8h-1.8zM447.1 118.6h1.8v1.8h-1.8zM448.64 118.59h1.8v1.8h-1.8zM450.01 118.85h1.8v1.8h-1.8zM451.37 118.47h1.8v1.8h-1.8zM453 118.59h1.8v1.8h-1.8zM454.52 118.64h1.8v1.8h-1.8zM455.95 118.45h1.8v1.8h-1.8zM457.42 118.84h1.8v1.8h-1.8zM458.6 118.6h1.8v1.8h-1.8zM461.46 118.61h1.8v1.8h-1.8zM463.38 118.52h1.8v1.8h-1.8zM464.42 118.67h1.8v1.8h-1.8zM465.98 118.67h1.8v1.8h-1.8zM394.83 119.83h1.8v1.8h-1.8zM396.34 120.23h1.8v1.8h-1.8zM397.65 120.22h1.8v1.8h-1.8zM399.32 120.08h1.8v1.8h-1.8zM400.64 119.99h1.8v1.8h-1.8zM402.32 119.92h1.8v1.8h-1.8zM403.61 120.17h1.8v1.8h-1.8zM405 119.88h1.8v1.8h-1.8zM406.74 120.21h1.8v1.8h-1.8zM408.21 119.93h1.8v1.8h-1.8zM409.57 120.16h1.8v1.8h-1.8zM411.1 120.23h1.8v1.8h-1.8zM412.16 120.19h1.8v1.8h-1.8zM413.82 120.27h1.8v1.8h-1.8zM415.45 120.18h1.8v1.8h-1.8zM416.61 119.83h1.8v1.8h-1.8zM418.37 119.95h1.8v1.8h-1.8zM419.64 119.95h1.8v1.8h-1.8zM421.07 120.05h1.8v1.8h-1.8zM422.6 120.04h1.8v1.8h-1.8zM424.21 120.12h1.8v1.8h-1.8zM425.25 119.87h1.8v1.8h-1.8zM426.85 119.89h1.8v1.8h-1.8zM428.18 119.8h1.8v1.8h-1.8zM429.95 120.2h1.8v1.8h-1.8zM431.02 119.85h1.8v1.8h-1.8zM432.78 120.07h1.8v1.8h-1.8zM434.05 120.19h1.8v1.8h-1.8zM435.59 119.94h1.8v1.8h-1.8zM437.2 119.86h1.8v1.8h-1.8zM438.41 119.97h1.8v1.8h-1.8zM439.73 120.25h1.8v1.8h-1.8zM441.3 119.9h1.8v1.8h-1.8zM442.8 120.29h1.8v1.8h-1.8zM444.41 120.04h1.8v1.8h-1.8zM445.83 120.12h1.8v1.8h-1.8zM447.2 119.87h1.8v1.8h-1.8zM448.55 119.98h1.8v1.8h-1.8zM450.27 120.14h1.8v1.8h-1.8zM451.68 120.04h1.8v1.8h-1.8zM453.17 119.93h1.8v1.8h-1.8zM454.7 120.11h1.8v1.8h-1.8zM455.93 119.91h1.8v1.8h-1.8zM457.48 120.04h1.8v1.8h-1.8zM459.04 119.88h1.8v1.8h-1.8zM460.26 119.92h1.8v1.8h-1.8zM461.75 120.05h1.8v1.8h-1.8zM466.06 119.91h1.8v1.8h-1.8zM394.87 121.28h1.8v1.8h-1.8zM396.51 121.36h1.8v1.8h-1.8zM398.12 121.44h1.8v1.8h-1.8zM399.4 121.58h1.8v1.8h-1.8zM400.7 121.45h1.8v1.8h-1.8zM402.39 121.71h1.8v1.8h-1.8zM403.88 121.75h1.8v1.8h-1.8zM405.14 121.73h1.8v1.8h-1.8zM406.39 121.41h1.8v1.8h-1.8zM407.81 121.6h1.8v1.8h-1.8zM409.58 121.44h1.8v1.8h-1.8zM410.9 121.72h1.8v1.8h-1.8zM412.64 121.43h1.8v1.8h-1.8zM414.08 121.58h1.8v1.8h-1.8zM415.53 121.41h1.8v1.8h-1.8zM416.52 121.48h1.8v1.8h-1.8zM418.31 121.7h1.8v1.8h-1.8zM419.69 121.5h1.8v1.8h-1.8zM420.88 121.47h1.8v1.8h-1.8zM422.38 121.44h1.8v1.8h-1.8zM423.78 121.54h1.8v1.8h-1.8zM425.5 121.57h1.8v1.8h-1.8zM426.69 121.73h1.8v1.8h-1.8zM428.52 121.42h1.8v1.8h-1.8zM429.74 121.69h1.8v1.8h-1.8zM431.28 121.37h1.8v1.8h-1.8zM432.95 121.6h1.8v1.8h-1.8zM434.14 121.46h1.8v1.8h-1.8zM435.41 121.31h1.8v1.8h-1.8zM436.88 121.27h1.8v1.8h-1.8zM438.43 121.69h1.8v1.8h-1.8zM439.84 121.63h1.8v1.8h-1.8zM441.65 121.67h1.8v1.8h-1.8zM442.64 121.73h1.8v1.8h-1.8zM444.3 121.66h1.8v1.8h-1.8zM445.95 121.4h1.8v1.8h-1.8zM447.24 121.52h1.8v1.8h-1.8zM448.83 121.4h1.8v1.8h-1.8zM450.15 121.75h1.8v1.8h-1.8zM451.63 121.74h1.8v1.8h-1.8zM452.78 121.57h1.8v1.8h-1.8zM454.63 121.4h1.8v1.8h-1.8zM456.07 121.61h1.8v1.8h-1.8zM457.21 121.49h1.8v1.8h-1.8zM458.66 121.74h1.8v1.8h-1.8zM460.02 121.29h1.8v1.8h-1.8zM463.03 121.33h1.8v1.8h-1.8zM464.37 121.43h1.8v1.8h-1.8zM394.79 122.7h1.8v1.8h-1.8zM396.53 122.95h1.8v1.8h-1.8zM398.1 122.71h1.8v1.8h-1.8zM399.48 123.02h1.8v1.8h-1.8zM400.66 122.8h1.8v1.8h-1.8zM402.27 122.93h1.8v1.8h-1.8zM403.78 123.06h1.8v1.8h-1.8zM405.12 122.76h1.8v1.8h-1.8zM406.36 122.95h1.8v1.8h-1.8zM408.28 122.92h1.8v1.8h-1.8zM409.49 122.98h1.8v1.8h-1.8zM410.86 122.9h1.8v1.8h-1.8zM412.56 122.97h1.8v1.8h-1.8zM413.74 122.85h1.8v1.8h-1.8zM415.45 123.09h1.8v1.8h-1.8zM416.59 122.95h1.8v1.8h-1.8zM418.19 122.79h1.8v1.8h-1.8zM419.78 122.96h1.8v1.8h-1.8zM421.29 123.19h1.8v1.8h-1.8zM422.66 122.91h1.8v1.8h-1.8zM424.17 123.04h1.8v1.8h-1.8zM425.58 122.95h1.8v1.8h-1.8zM427.11 123.03h1.8v1.8h-1.8zM428.45 122.73h1.8v1.8h-1.8zM429.8 122.75h1.8v1.8h-1.8zM431.46 122.95h1.8v1.8h-1.8zM432.51 122.93h1.8v1.8h-1.8zM433.93 122.79h1.8v1.8h-1.8zM435.45 123.12h1.8v1.8h-1.8zM436.87 122.79h1.8v1.8h-1.8zM438.38 123.19h1.8v1.8h-1.8zM440.12 123.03h1.8v1.8h-1.8zM441.24 122.88h1.8v1.8h-1.8zM442.69 122.92h1.8v1.8h-1.8zM444.26 122.72h1.8v1.8h-1.8zM445.64 122.71h1.8v1.8h-1.8zM447.12 123.18h1.8v1.8h-1.8zM448.67 122.76h1.8v1.8h-1.8zM449.93 122.78h1.8v1.8h-1.8zM451.42 122.77h1.8v1.8h-1.8zM453.03 122.75h1.8v1.8h-1.8zM454.37 122.74h1.8v1.8h-1.8zM457.44 122.97h1.8v1.8h-1.8zM458.98 123.02h1.8v1.8h-1.8zM460.06 123.16h1.8v1.8h-1.8zM395.19 124.31h1.8v1.8h-1.8zM396.21 124.44h1.8v1.8h-1.8zM397.77 124.44h1.8v1.8h-1.8zM399.27 124.27h1.8v1.8h-1.8zM400.92 124.52h1.8v1.8h-1.8zM402.33 124.35h1.8v1.8h-1.8zM403.49 124.5h1.8v1.8h-1.8zM404.98 124.46h1.8v1.8h-1.8zM406.49 124.24h1.8v1.8h-1.8zM408.08 124.44h1.8v1.8h-1.8zM409.39 124.32h1.8v1.8h-1.8zM410.95 124.54h1.8v1.8h-1.8zM412.34 124.54h1.8v1.8h-1.8zM413.8 124.32h1.8v1.8h-1.8zM415.24 124.41h1.8v1.8h-1.8zM416.54 124.33h1.8v1.8h-1.8zM418.08 124.32h1.8v1.8h-1.8zM419.68 124.25h1.8v1.8h-1.8zM421.02 124.21h1.8v1.8h-1.8zM422.6 124.48h1.8v1.8h-1.8zM423.82 124.54h1.8v1.8h-1.8zM425.35 124.54h1.8v1.8h-1.8zM426.84 124.34h1.8v1.8h-1.8zM428.17 124.45h1.8v1.8h-1.8zM429.95 124.41h1.8v1.8h-1.8zM431.08 124.26h1.8v1.8h-1.8zM432.91 124.41h1.8v1.8h-1.8zM433.95 124.64h1.8v1.8h-1.8zM435.85 124.41h1.8v1.8h-1.8zM437.21 124.38h1.8v1.8h-1.8zM438.51 124.22h1.8v1.8h-1.8zM439.93 124.3h1.8v1.8h-1.8zM441.61 124.38h1.8v1.8h-1.8zM442.71 124.36h1.8v1.8h-1.8zM444.54 124.35h1.8v1.8h-1.8zM445.56 124.35h1.8v1.8h-1.8zM447.29 124.42h1.8v1.8h-1.8zM448.64 124.45h1.8v1.8h-1.8zM449.85 124.35h1.8v1.8h-1.8zM451.65 124.51h1.8v1.8h-1.8zM453.22 124.61h1.8v1.8h-1.8zM454.69 124.46h1.8v1.8h-1.8zM455.8 124.26h1.8v1.8h-1.8zM457.25 124.53h1.8v1.8h-1.8zM460.2 124.26h1.8v1.8h-1.8zM461.65 124.53h1.8v1.8h-1.8zM394.96 125.99h1.8v1.8h-1.8zM396.59 126.05h1.8v1.8h-1.8zM397.66 125.84h1.8v1.8h-1.8zM399.18 125.64h1.8v1.8h-1.8zM401.01 125.72h1.8v1.8h-1.8zM402.35 125.64h1.8v1.8h-1.8zM403.55 125.96h1.8v1.8h-1.8zM405.16 125.94h1.8v1.8h-1.8zM406.75 125.6h1.8v1.8h-1.8zM407.92 125.76h1.8v1.8h-1.8zM409.32 125.92h1.8v1.8h-1.8zM410.98 126.02h1.8v1.8h-1.8zM412.45 126.06h1.8v1.8h-1.8zM414 125.61h1.8v1.8h-1.8zM415.53 126.06h1.8v1.8h-1.8zM416.74 125.71h1.8v1.8h-1.8zM418.02 125.8h1.8v1.8h-1.8zM419.61 126.04h1.8v1.8h-1.8zM420.85 125.71h1.8v1.8h-1.8zM422.49 125.76h1.8v1.8h-1.8zM423.75 125.75h1.8v1.8h-1.8zM425.43 126.02h1.8v1.8h-1.8zM426.78 125.81h1.8v1.8h-1.8zM428.32 125.74h1.8v1.8h-1.8zM429.58 125.75h1.8v1.8h-1.8zM431.33 125.61h1.8v1.8h-1.8zM432.89 126.1h1.8v1.8h-1.8zM434.38 126h1.8v1.8h-1.8zM435.46 125.8h1.8v1.8h-1.8zM436.89 126.02h1.8v1.8h-1.8zM438.29 125.89h1.8v1.8h-1.8zM439.85 126.03h1.8v1.8h-1.8zM441.23 125.81h1.8v1.8h-1.8zM442.9 125.72h1.8v1.8h-1.8zM444.46 125.92h1.8v1.8h-1.8zM445.52 125.63h1.8v1.8h-1.8zM447.44 125.84h1.8v1.8h-1.8zM448.79 125.81h1.8v1.8h-1.8zM450.27 126.05h1.8v1.8h-1.8zM451.49 125.67h1.8v1.8h-1.8zM452.78 125.74h1.8v1.8h-1.8zM454.6 125.86h1.8v1.8h-1.8zM456.13 125.65h1.8v1.8h-1.8zM457.11 125.65h1.8v1.8h-1.8zM460.18 125.67h1.8v1.8h-1.8zM394.94 127.22h1.8v1.8h-1.8zM396.27 127.24h1.8v1.8h-1.8zM397.65 127.29h1.8v1.8h-1.8zM399.17 127.42h1.8v1.8h-1.8zM400.96 127.3h1.8v1.8h-1.8zM402.13 127.05h1.8v1.8h-1.8zM403.46 127.26h1.8v1.8h-1.8zM405.27 127.11h1.8v1.8h-1.8zM406.71 127.41h1.8v1.8h-1.8zM407.81 127.36h1.8v1.8h-1.8zM409.56 127.52h1.8v1.8h-1.8zM410.87 127.13h1.8v1.8h-1.8zM412.45 127.12h1.8v1.8h-1.8zM413.67 127.28h1.8v1.8h-1.8zM415.51 127.24h1.8v1.8h-1.8zM416.82 127.25h1.8v1.8h-1.8zM418.06 127.13h1.8v1.8h-1.8zM419.89 127.41h1.8v1.8h-1.8zM420.98 127.42h1.8v1.8h-1.8zM422.63 127.28h1.8v1.8h-1.8zM424.13 127.33h1.8v1.8h-1.8zM425.34 127.49h1.8v1.8h-1.8zM426.77 127.19h1.8v1.8h-1.8zM428.49 127.4h1.8v1.8h-1.8zM429.58 127.46h1.8v1.8h-1.8zM431.37 127.54h1.8v1.8h-1.8zM432.67 127.33h1.8v1.8h-1.8zM434.27 127.4h1.8v1.8h-1.8zM435.39 127.27h1.8v1.8h-1.8zM436.91 127.4h1.8v1.8h-1.8zM438.27 127.11h1.8v1.8h-1.8zM439.79 127.16h1.8v1.8h-1.8zM441.36 127.26h1.8v1.8h-1.8zM442.9 127.16h1.8v1.8h-1.8zM444.37 127.08h1.8v1.8h-1.8zM445.99 127.07h1.8v1.8h-1.8zM446.98 127.22h1.8v1.8h-1.8zM448.47 127.25h1.8v1.8h-1.8zM449.95 127.05h1.8v1.8h-1.8zM451.64 127.12h1.8v1.8h-1.8zM452.82 127.23h1.8v1.8h-1.8zM454.47 127.29h1.8v1.8h-1.8zM457.52 127.07h1.8v1.8h-1.8zM458.69 127.34h1.8v1.8h-1.8zM460.14 127.44h1.8v1.8h-1.8zM461.85 127.35h1.8v1.8h-1.8zM395.25 128.85h1.8v1.8h-1.8zM396.56 128.6h1.8v1.8h-1.8zM398.07 128.81h1.8v1.8h-1.8zM399.12 128.67h1.8v1.8h-1.8zM400.94 128.57h1.8v1.8h-1.8zM402.12 128.65h1.8v1.8h-1.8zM403.92 128.72h1.8v1.8h-1.8zM405.27 128.79h1.8v1.8h-1.8zM406.55 128.89h1.8v1.8h-1.8zM408.16 128.66h1.8v1.8h-1.8zM409.54 128.73h1.8v1.8h-1.8zM410.71 128.86h1.8v1.8h-1.8zM412.57 128.75h1.8v1.8h-1.8zM413.99 128.71h1.8v1.8h-1.8zM415.28 128.87h1.8v1.8h-1.8zM416.52 128.64h1.8v1.8h-1.8zM418.07 128.82h1.8v1.8h-1.8zM419.82 128.68h1.8v1.8h-1.8zM421.17 128.99h1.8v1.8h-1.8zM422.54 128.77h1.8v1.8h-1.8zM423.96 128.9h1.8v1.8h-1.8zM425.29 128.73h1.8v1.8h-1.8zM426.71 128.64h1.8v1.8h-1.8zM428.18 128.55h1.8v1.8h-1.8zM430.04 128.73h1.8v1.8h-1.8zM431.2 128.73h1.8v1.8h-1.8zM432.87 128.69h1.8v1.8h-1.8zM434.35 128.73h1.8v1.8h-1.8zM435.62 128.5h1.8v1.8h-1.8zM437.01 128.91h1.8v1.8h-1.8zM438.64 128.75h1.8v1.8h-1.8zM439.82 128.62h1.8v1.8h-1.8zM441.29 128.76h1.8v1.8h-1.8zM442.86 128.73h1.8v1.8h-1.8zM444.08 128.74h1.8v1.8h-1.8zM445.74 128.7h1.8v1.8h-1.8zM447.27 128.99h1.8v1.8h-1.8zM448.57 128.53h1.8v1.8h-1.8zM450.14 128.8h1.8v1.8h-1.8zM454.49 128.86h1.8v1.8h-1.8zM457.6 128.56h1.8v1.8h-1.8zM394.83 130.37h1.8v1.8h-1.8zM396.62 130.39h1.8v1.8h-1.8zM397.99 130.33h1.8v1.8h-1.8zM399.46 130.12h1.8v1.8h-1.8zM400.96 130.44h1.8v1.8h-1.8zM402.3 130.27h1.8v1.8h-1.8zM403.71 130.16h1.8v1.8h-1.8zM405.26 130.02h1.8v1.8h-1.8zM406.55 129.99h1.8v1.8h-1.8zM407.84 130.28h1.8v1.8h-1.8zM409.52 130.11h1.8v1.8h-1.8zM410.83 129.99h1.8v1.8h-1.8zM412.4 129.96h1.8v1.8h-1.8zM413.99 130h1.8v1.8h-1.8zM415.39 130.12h1.8v1.8h-1.8zM416.55 130.08h1.8v1.8h-1.8zM418.05 130.22h1.8v1.8h-1.8zM419.79 130.36h1.8v1.8h-1.8zM421.24 130.21h1.8v1.8h-1.8zM422.52 130.17h1.8v1.8h-1.8zM424.25 130.24h1.8v1.8h-1.8zM425.39 130.3h1.8v1.8h-1.8zM426.77 130.11h1.8v1.8h-1.8zM428.53 130.22h1.8v1.8h-1.8zM430.04 130.06h1.8v1.8h-1.8zM431.28 130.07h1.8v1.8h-1.8zM432.83 130.07h1.8v1.8h-1.8zM434.39 130.3h1.8v1.8h-1.8zM435.39 130.21h1.8v1.8h-1.8zM437 130.15h1.8v1.8h-1.8zM438.65 129.99h1.8v1.8h-1.8zM440.04 130.06h1.8v1.8h-1.8zM441.54 130.23h1.8v1.8h-1.8zM443.05 130.03h1.8v1.8h-1.8zM444.22 130.4h1.8v1.8h-1.8zM445.86 130.36h1.8v1.8h-1.8zM447.2 130.36h1.8v1.8h-1.8zM451.53 130.19h1.8v1.8h-1.8zM453.12 130.14h1.8v1.8h-1.8zM454.61 130.07h1.8v1.8h-1.8zM456 130.38h1.8v1.8h-1.8zM457.16 130.27h1.8v1.8h-1.8zM458.82 130.17h1.8v1.8h-1.8zM394.85 131.74h1.8v1.8h-1.8zM396.57 131.48h1.8v1.8h-1.8zM397.66 131.73h1.8v1.8h-1.8zM399.5 131.79h1.8v1.8h-1.8zM400.69 131.78h1.8v1.8h-1.8zM402.49 131.48h1.8v1.8h-1.8zM403.94 131.58h1.8v1.8h-1.8zM405.38 131.75h1.8v1.8h-1.8zM406.37 131.57h1.8v1.8h-1.8zM407.88 131.87h1.8v1.8h-1.8zM409.65 131.66h1.8v1.8h-1.8zM411.02 131.56h1.8v1.8h-1.8zM412.35 131.76h1.8v1.8h-1.8zM414.07 131.53h1.8v1.8h-1.8zM415.12 131.74h1.8v1.8h-1.8zM416.76 131.72h1.8v1.8h-1.8zM418.16 131.61h1.8v1.8h-1.8zM419.85 131.61h1.8v1.8h-1.8zM421.34 131.85h1.8v1.8h-1.8zM422.6 131.85h1.8v1.8h-1.8zM423.95 131.6h1.8v1.8h-1.8zM425.53 131.53h1.8v1.8h-1.8zM426.91 131.73h1.8v1.8h-1.8zM428.21 131.58h1.8v1.8h-1.8zM430.02 131.87h1.8v1.8h-1.8zM431.22 131.5h1.8v1.8h-1.8zM432.92 131.44h1.8v1.8h-1.8zM434.38 131.81h1.8v1.8h-1.8zM435.75 131.64h1.8v1.8h-1.8zM438.42 131.68h1.8v1.8h-1.8zM441.57 131.44h1.8v1.8h-1.8zM443.09 131.73h1.8v1.8h-1.8zM444.15 131.47h1.8v1.8h-1.8zM447.34 131.56h1.8v1.8h-1.8zM448.64 131.72h1.8v1.8h-1.8zM449.88 131.42h1.8v1.8h-1.8zM452.77 131.88h1.8v1.8h-1.8zM454.4 131.69h1.8v1.8h-1.8zM455.66 131.8h1.8v1.8h-1.8zM457.15 131.6h1.8v1.8h-1.8zM394.84 132.93h1.8v1.8h-1.8zM396.47 132.9h1.8v1.8h-1.8zM398.12 133.11h1.8v1.8h-1.8zM399.48 133.09h1.8v1.8h-1.8zM401.02 133.07h1.8v1.8h-1.8zM402.17 133.31h1.8v1.8h-1.8zM403.7 133.17h1.8v1.8h-1.8zM405.02 133.18h1.8v1.8h-1.8zM406.83 132.95h1.8v1.8h-1.8zM407.84 132.88h1.8v1.8h-1.8zM409.38 133.2h1.8v1.8h-1.8zM411.11 133.1h1.8v1.8h-1.8zM412.64 133.28h1.8v1.8h-1.8zM413.93 133.09h1.8v1.8h-1.8zM415.2 133.16h1.8v1.8h-1.8zM416.98 133.21h1.8v1.8h-1.8zM418.18 133.15h1.8v1.8h-1.8zM419.77 133.22h1.8v1.8h-1.8zM421.33 132.9h1.8v1.8h-1.8zM422.41 132.88h1.8v1.8h-1.8zM423.76 132.88h1.8v1.8h-1.8zM425.31 132.9h1.8v1.8h-1.8zM427.09 133.08h1.8v1.8h-1.8zM428.43 133.03h1.8v1.8h-1.8zM429.66 132.98h1.8v1.8h-1.8zM431.08 133.21h1.8v1.8h-1.8zM432.45 133.17h1.8v1.8h-1.8zM434.21 133.01h1.8v1.8h-1.8zM435.46 133.26h1.8v1.8h-1.8zM437.22 133.13h1.8v1.8h-1.8zM438.31 133.09h1.8v1.8h-1.8zM440.07 133.29h1.8v1.8h-1.8zM441.44 133.14h1.8v1.8h-1.8zM442.64 132.88h1.8v1.8h-1.8zM444.24 133.01h1.8v1.8h-1.8zM445.85 133.31h1.8v1.8h-1.8zM447.3 132.88h1.8v1.8h-1.8zM448.52 133.26h1.8v1.8h-1.8zM450.17 133.14h1.8v1.8h-1.8zM451.63 133.22h1.8v1.8h-1.8zM459 133.03h1.8v1.8h-1.8zM395.17 134.57h1.8v1.8h-1.8zM396.26 134.62h1.8v1.8h-1.8zM398.11 134.33h1.8v1.8h-1.8zM399.37 134.56h1.8v1.8h-1.8zM401.01 134.67h1.8v1.8h-1.8zM402.04 134.79h1.8v1.8h-1.8zM403.67 134.61h1.8v1.8h-1.8zM404.94 134.75h1.8v1.8h-1.8zM406.75 134.65h1.8v1.8h-1.8zM407.85 134.33h1.8v1.8h-1.8zM409.64 134.76h1.8v1.8h-1.8zM411.02 134.4h1.8v1.8h-1.8zM412.31 134.43h1.8v1.8h-1.8zM413.83 134.46h1.8v1.8h-1.8zM415.28 134.35h1.8v1.8h-1.8zM416.73 134.76h1.8v1.8h-1.8zM417.99 134.39h1.8v1.8h-1.8zM419.69 134.72h1.8v1.8h-1.8zM420.93 134.36h1.8v1.8h-1.8zM422.57 134.55h1.8v1.8h-1.8zM423.85 134.57h1.8v1.8h-1.8zM425.58 134.61h1.8v1.8h-1.8zM426.9 134.46h1.8v1.8h-1.8zM428.25 134.57h1.8v1.8h-1.8zM429.73 134.74h1.8v1.8h-1.8zM431.27 134.66h1.8v1.8h-1.8zM432.67 134.57h1.8v1.8h-1.8zM434 134.56h1.8v1.8h-1.8zM435.65 134.39h1.8v1.8h-1.8zM437.13 134.41h1.8v1.8h-1.8zM438.67 134.76h1.8v1.8h-1.8zM440.05 134.45h1.8v1.8h-1.8zM441.53 134.4h1.8v1.8h-1.8zM442.91 134.33h1.8v1.8h-1.8zM444.34 134.42h1.8v1.8h-1.8zM445.56 134.76h1.8v1.8h-1.8zM447.05 134.48h1.8v1.8h-1.8zM450.32 134.8h1.8v1.8h-1.8zM451.54 134.48h1.8v1.8h-1.8zM453.09 134.55h1.8v1.8h-1.8zM456.09 134.37h1.8v1.8h-1.8zM394.79 135.78h1.8v1.8h-1.8zM396.21 135.76h1.8v1.8h-1.8zM398.04 135.84h1.8v1.8h-1.8zM399.39 135.82h1.8v1.8h-1.8zM400.73 135.91h1.8v1.8h-1.8zM402.45 135.8h1.8v1.8h-1.8zM403.48 135.95h1.8v1.8h-1.8zM405.04 135.78h1.8v1.8h-1.8zM406.47 136.12h1.8v1.8h-1.8zM408.13 135.98h1.8v1.8h-1.8zM409.58 136.19h1.8v1.8h-1.8zM411.07 136.11h1.8v1.8h-1.8zM412.37 135.97h1.8v1.8h-1.8zM413.92 136h1.8v1.8h-1.8zM415.2 136.23h1.8v1.8h-1.8zM416.52 136h1.8v1.8h-1.8zM418.12 136.07h1.8v1.8h-1.8zM419.63 135.84h1.8v1.8h-1.8zM420.97 135.95h1.8v1.8h-1.8zM422.63 135.84h1.8v1.8h-1.8zM424.09 135.82h1.8v1.8h-1.8zM425.26 136.24h1.8v1.8h-1.8zM426.84 135.82h1.8v1.8h-1.8zM428.59 136.19h1.8v1.8h-1.8zM429.76 136.24h1.8v1.8h-1.8zM431.35 136.08h1.8v1.8h-1.8zM432.89 136.02h1.8v1.8h-1.8zM434.17 136.2h1.8v1.8h-1.8zM435.77 135.96h1.8v1.8h-1.8zM438.37 136.2h1.8v1.8h-1.8zM439.87 136.11h1.8v1.8h-1.8zM441.23 136.04h1.8v1.8h-1.8zM442.99 136.1h1.8v1.8h-1.8zM445.84 135.87h1.8v1.8h-1.8zM447.05 135.94h1.8v1.8h-1.8zM448.79 135.79h1.8v1.8h-1.8zM451.5 136.21h1.8v1.8h-1.8zM452.83 136.05h1.8v1.8h-1.8zM454.27 135.99h1.8v1.8h-1.8zM455.72 135.88h1.8v1.8h-1.8zM457.45 135.85h1.8v1.8h-1.8zM394.89 137.56h1.8v1.8h-1.8zM396.6 137.25h1.8v1.8h-1.8zM397.67 137.38h1.8v1.8h-1.8zM399.1 137.48h1.8v1.8h-1.8zM400.76 137.46h1.8v1.8h-1.8zM402.36 137.55h1.8v1.8h-1.8zM403.48 137.28h1.8v1.8h-1.8zM405.13 137.23h1.8v1.8h-1.8zM406.68 137.67h1.8v1.8h-1.8zM407.92 137.24h1.8v1.8h-1.8zM409.43 137.28h1.8v1.8h-1.8zM410.95 137.47h1.8v1.8h-1.8zM412.22 137.55h1.8v1.8h-1.8zM413.9 137.53h1.8v1.8h-1.8zM415.16 137.27h1.8v1.8h-1.8zM416.69 137.29h1.8v1.8h-1.8zM418.27 137.5h1.8v1.8h-1.8zM419.48 137.22h1.8v1.8h-1.8zM421.28 137.22h1.8v1.8h-1.8zM422.78 137.25h1.8v1.8h-1.8zM424.15 137.48h1.8v1.8h-1.8zM425.28 137.33h1.8v1.8h-1.8zM427.03 137.45h1.8v1.8h-1.8zM428.29 137.67h1.8v1.8h-1.8zM429.78 137.47h1.8v1.8h-1.8zM431.11 137.61h1.8v1.8h-1.8zM432.76 137.29h1.8v1.8h-1.8zM434.3 137.66h1.8v1.8h-1.8zM435.48 137.65h1.8v1.8h-1.8zM436.94 137.45h1.8v1.8h-1.8zM438.72 137.29h1.8v1.8h-1.8zM440.01 137.62h1.8v1.8h-1.8zM441.31 137.38h1.8v1.8h-1.8zM442.74 137.55h1.8v1.8h-1.8zM444.4 137.65h1.8v1.8h-1.8zM445.85 137.39h1.8v1.8h-1.8zM447.12 137.69h1.8v1.8h-1.8zM448.53 137.42h1.8v1.8h-1.8zM451.48 137.65h1.8v1.8h-1.8zM453.02 137.31h1.8v1.8h-1.8zM455.93 137.32h1.8v1.8h-1.8zM459.01 137.24h1.8v1.8h-1.8zM394.81 138.97h1.8v1.8h-1.8zM396.42 138.82h1.8v1.8h-1.8zM398 138.86h1.8v1.8h-1.8zM399.12 139.02h1.8v1.8h-1.8zM400.96 138.95h1.8v1.8h-1.8zM402.31 139.04h1.8v1.8h-1.8zM403.53 138.76h1.8v1.8h-1.8zM404.91 139.07h1.8v1.8h-1.8zM406.36 138.68h1.8v1.8h-1.8zM408.15 139.14h1.8v1.8h-1.8zM409.67 138.82h1.8v1.8h-1.8zM410.76 138.75h1.8v1.8h-1.8zM412.56 138.66h1.8v1.8h-1.8zM413.66 139.04h1.8v1.8h-1.8zM415.09 139.01h1.8v1.8h-1.8zM416.86 138.84h1.8v1.8h-1.8zM418.09 139.06h1.8v1.8h-1.8zM419.71 138.81h1.8v1.8h-1.8zM421.14 138.78h1.8v1.8h-1.8zM422.53 139.01h1.8v1.8h-1.8zM423.98 138.95h1.8v1.8h-1.8zM425.38 138.81h1.8v1.8h-1.8zM426.96 138.68h1.8v1.8h-1.8zM428.21 138.69h1.8v1.8h-1.8zM429.61 138.79h1.8v1.8h-1.8zM431.47 138.96h1.8v1.8h-1.8zM432.51 138.79h1.8v1.8h-1.8zM434.29 138.66h1.8v1.8h-1.8zM435.43 139.06h1.8v1.8h-1.8zM394.83 140.41h1.8v1.8h-1.8zM396.53 140.12h1.8v1.8h-1.8zM397.79 140.44h1.8v1.8h-1.8zM399.57 140.38h1.8v1.8h-1.8zM400.73 140.57h1.8v1.8h-1.8zM402.05 140.48h1.8v1.8h-1.8zM403.76 140.28h1.8v1.8h-1.8zM405.22 140.27h1.8v1.8h-1.8zM406.6 140.35h1.8v1.8h-1.8zM407.91 140.14h1.8v1.8h-1.8zM409.35 140.36h1.8v1.8h-1.8zM410.79 140.52h1.8v1.8h-1.8zM412.54 140.35h1.8v1.8h-1.8zM413.63 140.54h1.8v1.8h-1.8zM415.27 140.27h1.8v1.8h-1.8zM416.9 140.28h1.8v1.8h-1.8zM418.07 140.41h1.8v1.8h-1.8zM419.6 140.33h1.8v1.8h-1.8zM421.28 140.51h1.8v1.8h-1.8zM422.77 140.55h1.8v1.8h-1.8zM423.78 140.51h1.8v1.8h-1.8zM425.29 140.47h1.8v1.8h-1.8zM426.91 140.58h1.8v1.8h-1.8zM428.25 140.37h1.8v1.8h-1.8zM429.79 140.32h1.8v1.8h-1.8zM431.26 140.21h1.8v1.8h-1.8zM434.29 140.55h1.8v1.8h-1.8zM435.42 140.14h1.8v1.8h-1.8zM395.02 141.75h1.8v1.8h-1.8zM396.58 141.72h1.8v1.8h-1.8zM397.83 141.94h1.8v1.8h-1.8zM399.48 141.6h1.8v1.8h-1.8zM400.71 141.88h1.8v1.8h-1.8zM402.02 142h1.8v1.8h-1.8zM403.59 141.56h1.8v1.8h-1.8zM405.25 142.04h1.8v1.8h-1.8zM406.76 142h1.8v1.8h-1.8zM407.81 141.65h1.8v1.8h-1.8zM409.48 141.91h1.8v1.8h-1.8zM411.04 141.87h1.8v1.8h-1.8zM412.35 141.77h1.8v1.8h-1.8zM413.95 141.99h1.8v1.8h-1.8zM415.3 141.71h1.8v1.8h-1.8zM416.6 141.76h1.8v1.8h-1.8zM418.03 141.99h1.8v1.8h-1.8zM419.55 141.67h1.8v1.8h-1.8zM421.33 141.63h1.8v1.8h-1.8zM422.33 141.89h1.8v1.8h-1.8zM424.01 141.62h1.8v1.8h-1.8zM425.41 141.55h1.8v1.8h-1.8zM426.93 142.03h1.8v1.8h-1.8zM428.4 141.8h1.8v1.8h-1.8zM429.95 141.75h1.8v1.8h-1.8zM431.44 141.82h1.8v1.8h-1.8zM432.76 141.97h1.8v1.8h-1.8zM434.03 142.04h1.8v1.8h-1.8zM437.2 141.56h1.8v1.8h-1.8zM395.12 143.29h1.8v1.8h-1.8zM396.33 143.46h1.8v1.8h-1.8zM397.89 143.27h1.8v1.8h-1.8zM399.43 143.26h1.8v1.8h-1.8zM400.67 143.44h1.8v1.8h-1.8zM402.45 143.31h1.8v1.8h-1.8zM403.79 143.04h1.8v1.8h-1.8zM405.14 143.18h1.8v1.8h-1.8zM406.52 143.1h1.8v1.8h-1.8zM408.28 143.41h1.8v1.8h-1.8zM409.48 143h1.8v1.8h-1.8zM410.84 143.44h1.8v1.8h-1.8zM412.39 143.23h1.8v1.8h-1.8zM414.03 143.44h1.8v1.8h-1.8zM415.5 143.07h1.8v1.8h-1.8zM416.57 143.36h1.8v1.8h-1.8zM418.39 143.41h1.8v1.8h-1.8zM419.82 143.44h1.8v1.8h-1.8zM421.16 143.21h1.8v1.8h-1.8zM422.74 143.02h1.8v1.8h-1.8zM423.95 143.08h1.8v1.8h-1.8zM425.42 143.28h1.8v1.8h-1.8zM426.96 143.03h1.8v1.8h-1.8zM428.53 143.21h1.8v1.8h-1.8zM429.72 143.34h1.8v1.8h-1.8zM431.09 143.3h1.8v1.8h-1.8zM435.53 143.26h1.8v1.8h-1.8zM437.15 143.16h1.8v1.8h-1.8zM394.87 144.69h1.8v1.8h-1.8zM396.6 144.76h1.8v1.8h-1.8zM398.09 144.74h1.8v1.8h-1.8zM399.21 144.88h1.8v1.8h-1.8zM400.94 144.58h1.8v1.8h-1.8zM402.17 144.83h1.8v1.8h-1.8zM403.78 144.91h1.8v1.8h-1.8zM405.24 144.47h1.8v1.8h-1.8zM406.38 144.53h1.8v1.8h-1.8zM407.82 144.72h1.8v1.8h-1.8zM409.45 144.6h1.8v1.8h-1.8zM411.03 144.47h1.8v1.8h-1.8zM412.48 144.52h1.8v1.8h-1.8zM413.95 144.57h1.8v1.8h-1.8zM415.38 144.46h1.8v1.8h-1.8zM416.51 144.85h1.8v1.8h-1.8zM418.17 144.74h1.8v1.8h-1.8zM419.42 144.49h1.8v1.8h-1.8zM420.89 144.85h1.8v1.8h-1.8zM422.41 144.72h1.8v1.8h-1.8zM423.78 144.51h1.8v1.8h-1.8zM425.54 144.71h1.8v1.8h-1.8zM427.01 144.84h1.8v1.8h-1.8zM428.15 144.88h1.8v1.8h-1.8zM429.77 144.57h1.8v1.8h-1.8zM431.47 144.59h1.8v1.8h-1.8zM432.93 144.92h1.8v1.8h-1.8zM435.51 144.66h1.8v1.8h-1.8zM437.01 144.87h1.8v1.8h-1.8zM395.07 145.95h1.8v1.8h-1.8zM396.64 146.05h1.8v1.8h-1.8zM397.94 146.25h1.8v1.8h-1.8zM399.13 146.15h1.8v1.8h-1.8zM400.69 145.98h1.8v1.8h-1.8zM402.04 145.97h1.8v1.8h-1.8zM403.59 146.13h1.8v1.8h-1.8zM405.03 146.36h1.8v1.8h-1.8zM406.4 146.4h1.8v1.8h-1.8zM408.03 146.27h1.8v1.8h-1.8zM409.6 146.03h1.8v1.8h-1.8zM410.88 146.34h1.8v1.8h-1.8zM412.39 146.14h1.8v1.8h-1.8zM413.72 146.25h1.8v1.8h-1.8zM415.46 146.03h1.8v1.8h-1.8zM416.88 146.02h1.8v1.8h-1.8zM417.99 146.36h1.8v1.8h-1.8zM419.58 146.21h1.8v1.8h-1.8zM421.15 146.2h1.8v1.8h-1.8zM422.3 145.98h1.8v1.8h-1.8zM423.89 146.2h1.8v1.8h-1.8zM425.46 145.96h1.8v1.8h-1.8zM427.11 146.04h1.8v1.8h-1.8zM428.33 146.08h1.8v1.8h-1.8zM430.04 145.96h1.8v1.8h-1.8zM431.26 145.98h1.8v1.8h-1.8zM432.53 146.04h1.8v1.8h-1.8zM434.1 146.23h1.8v1.8h-1.8zM435.56 145.92h1.8v1.8h-1.8zM436.81 146.35h1.8v1.8h-1.8zM395.04 147.56h1.8v1.8h-1.8zM396.58 147.51h1.8v1.8h-1.8zM397.7 147.69h1.8v1.8h-1.8zM399.24 147.46h1.8v1.8h-1.8zM400.64 147.66h1.8v1.8h-1.8zM402.02 147.62h1.8v1.8h-1.8zM403.51 147.83h1.8v1.8h-1.8zM405.33 147.62h1.8v1.8h-1.8zM406.37 147.69h1.8v1.8h-1.8zM408.16 147.83h1.8v1.8h-1.8zM409.26 147.53h1.8v1.8h-1.8zM411.09 147.59h1.8v1.8h-1.8zM412.32 147.43h1.8v1.8h-1.8zM413.9 147.71h1.8v1.8h-1.8zM415.47 147.43h1.8v1.8h-1.8zM416.5 147.4h1.8v1.8h-1.8zM418.39 147.48h1.8v1.8h-1.8zM419.66 147.47h1.8v1.8h-1.8zM421.28 147.72h1.8v1.8h-1.8zM422.49 147.77h1.8v1.8h-1.8zM424.25 147.46h1.8v1.8h-1.8zM425.57 147.83h1.8v1.8h-1.8zM426.93 147.73h1.8v1.8h-1.8zM428.31 147.64h1.8v1.8h-1.8zM429.83 147.73h1.8v1.8h-1.8zM431.01 147.71h1.8v1.8h-1.8zM432.75 147.53h1.8v1.8h-1.8zM395.09 149.02h1.8v1.8h-1.8zM396.46 149.15h1.8v1.8h-1.8zM398.06 148.84h1.8v1.8h-1.8zM399.49 149.01h1.8v1.8h-1.8zM400.58 149.12h1.8v1.8h-1.8zM402.15 149.19h1.8v1.8h-1.8zM403.94 148.98h1.8v1.8h-1.8zM405.01 148.96h1.8v1.8h-1.8zM406.82 148.99h1.8v1.8h-1.8zM408.13 148.9h1.8v1.8h-1.8zM409.37 149.06h1.8v1.8h-1.8zM410.98 149.05h1.8v1.8h-1.8zM412.29 149.27h1.8v1.8h-1.8zM414.09 149.14h1.8v1.8h-1.8zM415.28 149.12h1.8v1.8h-1.8zM416.66 148.83h1.8v1.8h-1.8zM418.06 149.15h1.8v1.8h-1.8zM419.63 148.96h1.8v1.8h-1.8zM421.09 148.98h1.8v1.8h-1.8zM422.35 149.15h1.8v1.8h-1.8zM424.05 148.97h1.8v1.8h-1.8zM425.68 149h1.8v1.8h-1.8zM426.85 149.02h1.8v1.8h-1.8zM428.54 149.26h1.8v1.8h-1.8zM429.6 148.91h1.8v1.8h-1.8zM431.01 149.21h1.8v1.8h-1.8zM434.24 148.93h1.8v1.8h-1.8zM437.27 148.82h1.8v1.8h-1.8zM395.11 150.44h1.8v1.8h-1.8zM396.27 150.65h1.8v1.8h-1.8zM398.14 150.38h1.8v1.8h-1.8zM399.23 150.35h1.8v1.8h-1.8zM400.81 150.61h1.8v1.8h-1.8zM402.45 150.56h1.8v1.8h-1.8zM403.59 150.33h1.8v1.8h-1.8zM405.32 150.43h1.8v1.8h-1.8zM406.46 150.67h1.8v1.8h-1.8zM408.2 150.58h1.8v1.8h-1.8zM409.51 150.41h1.8v1.8h-1.8zM410.72 150.71h1.8v1.8h-1.8zM412.26 150.56h1.8v1.8h-1.8zM414.02 150.54h1.8v1.8h-1.8zM415.49 150.51h1.8v1.8h-1.8zM416.93 150.35h1.8v1.8h-1.8zM418.28 150.54h1.8v1.8h-1.8zM419.4 150.26h1.8v1.8h-1.8zM421.26 150.31h1.8v1.8h-1.8zM422.31 150.46h1.8v1.8h-1.8zM423.8 150.26h1.8v1.8h-1.8zM425.21 150.53h1.8v1.8h-1.8zM426.88 150.51h1.8v1.8h-1.8zM428.3 150.57h1.8v1.8h-1.8zM429.63 150.52h1.8v1.8h-1.8zM431.12 150.71h1.8v1.8h-1.8zM432.84 150.42h1.8v1.8h-1.8zM435.77 150.61h1.8v1.8h-1.8zM436.89 150.57h1.8v1.8h-1.8zM394.8 151.71h1.8v1.8h-1.8zM396.45 152.04h1.8v1.8h-1.8zM397.75 152.2h1.8v1.8h-1.8zM399.22 152.15h1.8v1.8h-1.8zM400.67 152.13h1.8v1.8h-1.8zM402.08 152.01h1.8v1.8h-1.8zM403.81 151.83h1.8v1.8h-1.8zM405.06 151.9h1.8v1.8h-1.8zM406.5 151.72h1.8v1.8h-1.8zM407.97 152.02h1.8v1.8h-1.8zM409.53 151.74h1.8v1.8h-1.8zM410.89 151.76h1.8v1.8h-1.8zM412.36 151.91h1.8v1.8h-1.8zM414.09 151.73h1.8v1.8h-1.8zM415.21 152.16h1.8v1.8h-1.8zM416.92 151.73h1.8v1.8h-1.8zM418.04 152.05h1.8v1.8h-1.8zM419.7 152.17h1.8v1.8h-1.8zM421.06 152.18h1.8v1.8h-1.8zM422.7 151.78h1.8v1.8h-1.8zM424.19 151.94h1.8v1.8h-1.8zM425.35 151.83h1.8v1.8h-1.8zM426.82 152h1.8v1.8h-1.8zM428.21 151.79h1.8v1.8h-1.8zM429.69 151.98h1.8v1.8h-1.8zM431.11 152.03h1.8v1.8h-1.8zM432.92 152.08h1.8v1.8h-1.8zM434.07 151.88h1.8v1.8h-1.8zM435.41 152.19h1.8v1.8h-1.8zM394.8 153.46h1.8v1.8h-1.8zM396.64 153.32h1.8v1.8h-1.8zM398.12 153.62h1.8v1.8h-1.8zM399.41 153.43h1.8v1.8h-1.8zM400.69 153.45h1.8v1.8h-1.8zM402.42 153.45h1.8v1.8h-1.8zM403.76 153.41h1.8v1.8h-1.8zM405.06 153.34h1.8v1.8h-1.8zM406.76 153.45h1.8v1.8h-1.8zM407.89 153.2h1.8v1.8h-1.8zM409.6 153.48h1.8v1.8h-1.8zM410.73 153.41h1.8v1.8h-1.8zM412.3 153.63h1.8v1.8h-1.8zM413.8 153.55h1.8v1.8h-1.8zM415.18 153.47h1.8v1.8h-1.8zM416.74 153.62h1.8v1.8h-1.8zM418.12 153.24h1.8v1.8h-1.8zM419.42 153.48h1.8v1.8h-1.8zM420.88 153.63h1.8v1.8h-1.8zM422.32 153.56h1.8v1.8h-1.8zM424.11 153.36h1.8v1.8h-1.8zM425.67 153.34h1.8v1.8h-1.8zM426.88 153.23h1.8v1.8h-1.8zM428.25 153.45h1.8v1.8h-1.8zM429.77 153.17h1.8v1.8h-1.8zM431.07 153.53h1.8v1.8h-1.8zM432.65 153.45h1.8v1.8h-1.8zM434.17 153.57h1.8v1.8h-1.8zM435.43 153.58h1.8v1.8h-1.8zM437.26 153.56h1.8v1.8h-1.8zM395.23 154.97h1.8v1.8h-1.8zM396.61 154.67h1.8v1.8h-1.8zM397.68 155.01h1.8v1.8h-1.8zM399.47 154.76h1.8v1.8h-1.8zM400.98 154.69h1.8v1.8h-1.8zM402.49 155.01h1.8v1.8h-1.8zM403.62 154.62h1.8v1.8h-1.8zM405.39 154.94h1.8v1.8h-1.8zM406.53 154.71h1.8v1.8h-1.8zM408.02 155.01h1.8v1.8h-1.8zM409.5 154.73h1.8v1.8h-1.8zM410.97 154.64h1.8v1.8h-1.8zM412.62 154.72h1.8v1.8h-1.8zM413.71 154.88h1.8v1.8h-1.8zM415.27 154.8h1.8v1.8h-1.8zM416.91 155h1.8v1.8h-1.8zM418.01 154.65h1.8v1.8h-1.8zM419.44 154.62h1.8v1.8h-1.8zM421.19 154.68h1.8v1.8h-1.8zM422.33 154.81h1.8v1.8h-1.8zM423.84 154.75h1.8v1.8h-1.8zM425.31 155.02h1.8v1.8h-1.8zM426.88 154.92h1.8v1.8h-1.8zM428.44 154.86h1.8v1.8h-1.8zM429.69 154.82h1.8v1.8h-1.8zM431.04 154.71h1.8v1.8h-1.8zM432.49 154.73h1.8v1.8h-1.8zM437.07 154.71h1.8v1.8h-1.8zM395.1 156.49h1.8v1.8h-1.8zM396.24 156.51h1.8v1.8h-1.8zM397.98 156.4h1.8v1.8h-1.8zM399.26 156.12h1.8v1.8h-1.8zM400.85 156.16h1.8v1.8h-1.8zM402.24 156.54h1.8v1.8h-1.8zM403.6 156.45h1.8v1.8h-1.8zM405.25 156.08h1.8v1.8h-1.8zM406.77 156.33h1.8v1.8h-1.8zM408.02 156.22h1.8v1.8h-1.8zM409.39 156.12h1.8v1.8h-1.8zM411.14 156.08h1.8v1.8h-1.8zM412.51 156.54h1.8v1.8h-1.8zM413.63 156.29h1.8v1.8h-1.8zM415.31 156.27h1.8v1.8h-1.8zM416.59 156.45h1.8v1.8h-1.8zM418.44 156.14h1.8v1.8h-1.8zM419.46 156.3h1.8v1.8h-1.8zM420.87 156.09h1.8v1.8h-1.8zM422.66 156.26h1.8v1.8h-1.8zM424.25 156.44h1.8v1.8h-1.8zM425.5 156.54h1.8v1.8h-1.8zM426.75 156.35h1.8v1.8h-1.8zM428.5 156.19h1.8v1.8h-1.8zM429.97 156.13h1.8v1.8h-1.8zM431.23 156.33h1.8v1.8h-1.8zM432.57 156.22h1.8v1.8h-1.8zM434.08 156.39h1.8v1.8h-1.8zM435.51 156.3h1.8v1.8h-1.8zM395.07 157.9h1.8v1.8h-1.8zM396.31 157.71h1.8v1.8h-1.8zM398.11 157.77h1.8v1.8h-1.8zM399.2 157.51h1.8v1.8h-1.8zM400.65 157.7h1.8v1.8h-1.8zM402.41 157.72h1.8v1.8h-1.8zM403.66 157.96h1.8v1.8h-1.8zM405.09 157.9h1.8v1.8h-1.8zM406.65 157.85h1.8v1.8h-1.8zM407.83 157.66h1.8v1.8h-1.8zM409.42 157.59h1.8v1.8h-1.8zM410.76 158h1.8v1.8h-1.8zM412.18 157.79h1.8v1.8h-1.8zM413.8 157.57h1.8v1.8h-1.8zM415.13 157.95h1.8v1.8h-1.8zM416.68 157.62h1.8v1.8h-1.8zM418.29 157.62h1.8v1.8h-1.8zM419.54 157.53h1.8v1.8h-1.8zM420.92 157.92h1.8v1.8h-1.8zM422.43 157.71h1.8v1.8h-1.8zM424.15 157.97h1.8v1.8h-1.8zM425.69 157.53h1.8v1.8h-1.8zM426.83 157.59h1.8v1.8h-1.8zM428.11 157.54h1.8v1.8h-1.8zM429.86 157.76h1.8v1.8h-1.8zM431.31 157.8h1.8v1.8h-1.8zM432.92 157.89h1.8v1.8h-1.8zM395.11 159.43h1.8v1.8h-1.8zM396.69 159.29h1.8v1.8h-1.8zM398.1 159.36h1.8v1.8h-1.8zM399.57 159.28h1.8v1.8h-1.8zM400.77 159.16h1.8v1.8h-1.8zM402.16 159.26h1.8v1.8h-1.8zM403.7 159.11h1.8v1.8h-1.8zM405.08 159.35h1.8v1.8h-1.8zM406.67 159.35h1.8v1.8h-1.8zM408.08 159.2h1.8v1.8h-1.8zM409.49 159.07h1.8v1.8h-1.8zM410.95 159.03h1.8v1.8h-1.8zM412.46 159.4h1.8v1.8h-1.8zM414 159.13h1.8v1.8h-1.8zM415.17 159.17h1.8v1.8h-1.8zM416.89 158.96h1.8v1.8h-1.8zM417.95 159.03h1.8v1.8h-1.8zM419.7 159.43h1.8v1.8h-1.8zM420.87 159.23h1.8v1.8h-1.8zM422.59 159.27h1.8v1.8h-1.8zM423.84 159.11h1.8v1.8h-1.8zM425.46 159.05h1.8v1.8h-1.8zM427.04 159.4h1.8v1.8h-1.8zM428.17 158.95h1.8v1.8h-1.8zM429.93 159.22h1.8v1.8h-1.8zM431.27 159.22h1.8v1.8h-1.8zM432.67 159.34h1.8v1.8h-1.8zM434.1 159h1.8v1.8h-1.8zM435.36 159.01h1.8v1.8h-1.8zM395.05 160.6h1.8v1.8h-1.8zM396.23 160.77h1.8v1.8h-1.8zM397.67 160.74h1.8v1.8h-1.8zM399.41 160.61h1.8v1.8h-1.8zM400.71 160.45h1.8v1.8h-1.8zM402.06 160.41h1.8v1.8h-1.8zM403.72 160.82h1.8v1.8h-1.8zM404.99 160.89h1.8v1.8h-1.8zM406.39 160.55h1.8v1.8h-1.8zM407.95 160.52h1.8v1.8h-1.8zM409.54 160.42h1.8v1.8h-1.8zM411.17 160.74h1.8v1.8h-1.8zM412.29 160.46h1.8v1.8h-1.8zM413.85 160.54h1.8v1.8h-1.8zM415.52 160.72h1.8v1.8h-1.8zM416.55 160.66h1.8v1.8h-1.8zM418.19 160.67h1.8v1.8h-1.8zM419.8 160.58h1.8v1.8h-1.8zM421.16 160.51h1.8v1.8h-1.8zM422.45 160.52h1.8v1.8h-1.8zM424.04 160.55h1.8v1.8h-1.8zM425.48 160.84h1.8v1.8h-1.8zM426.8 160.62h1.8v1.8h-1.8zM428.28 160.52h1.8v1.8h-1.8zM429.79 160.41h1.8v1.8h-1.8zM431.03 160.8h1.8v1.8h-1.8zM432.81 160.49h1.8v1.8h-1.8zM434.01 160.8h1.8v1.8h-1.8zM435.66 160.49h1.8v1.8h-1.8zM395.05 162.1h1.8v1.8h-1.8zM396.46 161.99h1.8v1.8h-1.8zM397.78 162.35h1.8v1.8h-1.8zM399.11 162.05h1.8v1.8h-1.8zM401.05 162.31h1.8v1.8h-1.8zM402.09 162.01h1.8v1.8h-1.8zM403.83 162.3h1.8v1.8h-1.8zM405.25 162.33h1.8v1.8h-1.8zM406.64 162.31h1.8v1.8h-1.8zM408.25 162.27h1.8v1.8h-1.8zM409.38 161.99h1.8v1.8h-1.8zM410.96 162.19h1.8v1.8h-1.8zM412.21 162h1.8v1.8h-1.8zM413.71 162.02h1.8v1.8h-1.8zM415.19 162.12h1.8v1.8h-1.8zM416.64 162.07h1.8v1.8h-1.8zM418.18 162.21h1.8v1.8h-1.8zM419.76 161.87h1.8v1.8h-1.8zM421.17 162.09h1.8v1.8h-1.8zM422.74 162.12h1.8v1.8h-1.8zM423.97 161.88h1.8v1.8h-1.8zM425.68 161.93h1.8v1.8h-1.8zM427.1 162.29h1.8v1.8h-1.8zM428.26 162.1h1.8v1.8h-1.8zM429.89 162.22h1.8v1.8h-1.8zM431.14 162.24h1.8v1.8h-1.8zM432.68 161.9h1.8v1.8h-1.8zM437.26 161.94h1.8v1.8h-1.8zM395.23 163.61h1.8v1.8h-1.8zM396.26 163.38h1.8v1.8h-1.8zM397.67 163.4h1.8v1.8h-1.8zM399.4 163.73h1.8v1.8h-1.8zM400.82 163.4h1.8v1.8h-1.8zM402.27 163.71h1.8v1.8h-1.8zM403.91 163.51h1.8v1.8h-1.8zM404.99 163.37h1.8v1.8h-1.8zM406.6 163.36h1.8v1.8h-1.8zM408.09 163.31h1.8v1.8h-1.8zM409.47 163.65h1.8v1.8h-1.8zM410.8 163.67h1.8v1.8h-1.8zM412.49 163.49h1.8v1.8h-1.8zM413.78 163.77h1.8v1.8h-1.8zM415.16 163.57h1.8v1.8h-1.8zM416.58 163.42h1.8v1.8h-1.8zM418.24 163.5h1.8v1.8h-1.8zM419.89 163.69h1.8v1.8h-1.8zM421.17 163.44h1.8v1.8h-1.8zM422.43 163.76h1.8v1.8h-1.8zM423.99 163.77h1.8v1.8h-1.8zM425.62 163.74h1.8v1.8h-1.8zM426.8 163.73h1.8v1.8h-1.8zM428.28 163.48h1.8v1.8h-1.8zM429.58 163.63h1.8v1.8h-1.8zM431.06 163.67h1.8v1.8h-1.8zM432.62 163.31h1.8v1.8h-1.8z"/>
<path fill="#c8193f" d="M432.2 93.85h2.1v2.1h-2.1zM437.15 94.23h2.1v2.1h-2.1zM400.4 95.31h2.1v2.1h-2.1zM422.6 94.9h2.1v2.1h-2.1zM427.86 95.11h2.1v2.1h-2.1zM430.62 95.2h2.1v2.1h-2.1zM401.8 97.16h2.1v2.1h-2.1zM408.36 96.63h2.1v2.1h-2.1zM424.9 96.85h2.1v2.1h-2.1zM399.07 98.11h2.1v2.1h-2.1zM410.69 99.33h2.1v2.1h-2.1zM420.46 99.35h2.1v2.1h-2.1zM432.64 99.97h2.1v2.1h-2.1zM452.83 99.29h2.1v2.1h-2.1zM394.58 100.91h2.1v2.1h-2.1zM395.98 100.98h2.1v2.1h-2.1zM399.58 101.38h2.1v2.1h-2.1zM401.09 101.02h2.1v2.1h-2.1zM409.03 101.22h2.1v2.1h-2.1zM413.57 101h2.1v2.1h-2.1zM423.36 100.73h2.1v2.1h-2.1zM430.01 101.22h2.1v2.1h-2.1zM441.3 100.95h2.1v2.1h-2.1zM442.82 102.91h2.1v2.1h-2.1zM444.23 102.17h2.1v2.1h-2.1zM448.31 102.85h2.1v2.1h-2.1zM450.92 102.72h2.1v2.1h-2.1zM453.93 102.49h2.1v2.1h-2.1zM459.99 102.59h2.1v2.1h-2.1zM466.88 102.37h2.1v2.1h-2.1zM472.79 102.79h2.1v2.1h-2.1zM476.04 102.47h2.1v2.1h-2.1zM437.36 104.29h2.1v2.1h-2.1zM439.86 104.28h2.1v2.1h-2.1zM444.47 104.14h2.1v2.1h-2.1zM445.45 104.19h2.1v2.1h-2.1zM450.43 103.67h2.1v2.1h-2.1zM451.11 104.04h2.1v2.1h-2.1zM455.34 104.01h2.1v2.1h-2.1zM458.44 104.3h2.1v2.1h-2.1zM459.84 103.66h2.1v2.1h-2.1zM462.69 104.06h2.1v2.1h-2.1zM464.81 104.31h2.1v2.1h-2.1zM467.3 103.74h2.1v2.1h-2.1zM474.59 103.46h2.1v2.1h-2.1zM479.15 103.46h2.1v2.1h-2.1zM480.78 104.24h2.1v2.1h-2.1zM469.23 105.81h2.1v2.1h-2.1zM470.29 104.96h2.1v2.1h-2.1zM471.24 105.78h2.1v2.1h-2.1zM472.84 105.57h2.1v2.1h-2.1zM477.47 105.62h2.1v2.1h-2.1zM479.33 105.83h2.1v2.1h-2.1zM480.44 105.34h2.1v2.1h-2.1zM481.51 105.69h2.1v2.1h-2.1zM473.05 106.85h2.1v2.1h-2.1zM477.86 106.5h2.1v2.1h-2.1zM473.43 108.14h2.1v2.1h-2.1zM478.54 108.63h2.1v2.1h-2.1zM470.02 110.24h2.1v2.1h-2.1zM473.46 109.37h2.1v2.1h-2.1zM481.48 110.06h2.1v2.1h-2.1zM477.32 111.19h2.1v2.1h-2.1zM470.01 112.61h2.1v2.1h-2.1zM474.95 112.45h2.1v2.1h-2.1zM468.57 113.67h2.1v2.1h-2.1zM490.97 114.23h2.1v2.1h-2.1zM469.25 115.66h2.1v2.1h-2.1zM472.12 115.83h2.1v2.1h-2.1zM480.79 115.08h2.1v2.1h-2.1zM467.54 117.17h2.1v2.1h-2.1zM481.9 117.18h2.1v2.1h-2.1zM467.61 118.13h2.1v2.1h-2.1zM468.96 118.87h2.1v2.1h-2.1zM469.93 118.69h2.1v2.1h-2.1zM489.5 120.17h2.1v2.1h-2.1zM466.91 121.72h2.1v2.1h-2.1zM468.84 121.27h2.1v2.1h-2.1zM477.71 121.16h2.1v2.1h-2.1zM467.45 122.72h2.1v2.1h-2.1zM471.43 122.62h2.1v2.1h-2.1zM471.83 123.82h2.1v2.1h-2.1zM486.66 124h2.1v2.1h-2.1zM469.89 125.34h2.1v2.1h-2.1zM466.36 127h2.1v2.1h-2.1zM479.44 127.46h2.1v2.1h-2.1zM485.04 126.96h2.1v2.1h-2.1zM466.88 129.74h2.1v2.1h-2.1zM470.34 130.32h2.1v2.1h-2.1zM471.9 130.54h2.1v2.1h-2.1zM464.41 131.7h2.1v2.1h-2.1zM468.45 131.65h2.1v2.1h-2.1zM476.14 131.66h2.1v2.1h-2.1zM464.75 132.54h2.1v2.1h-2.1zM466.35 133.2h2.1v2.1h-2.1zM467.79 132.94h2.1v2.1h-2.1zM471.41 132.69h2.1v2.1h-2.1zM474.83 133.1h2.1v2.1h-2.1zM477.66 132.6h2.1v2.1h-2.1zM460.2 134.34h2.1v2.1h-2.1zM473.22 134.18h2.1v2.1h-2.1zM461.09 135.68h2.1v2.1h-2.1zM464.79 135.82h2.1v2.1h-2.1zM468.81 136.18h2.1v2.1h-2.1zM480.82 136.2h2.1v2.1h-2.1zM483.1 137.22h2.1v2.1h-2.1zM441.34 138.32h2.1v2.1h-2.1zM442.39 139.04h2.1v2.1h-2.1zM443.84 138.67h2.1v2.1h-2.1zM446.77 138.99h2.1v2.1h-2.1zM450 139.19h2.1v2.1h-2.1zM458.96 138.44h2.1v2.1h-2.1zM460.32 138.64h2.1v2.1h-2.1zM462.82 138.25h2.1v2.1h-2.1zM466.88 139h2.1v2.1h-2.1zM472.76 139.11h2.1v2.1h-2.1zM491.6 138.64h2.1v2.1h-2.1zM438.14 139.72h2.1v2.1h-2.1zM440 140.43h2.1v2.1h-2.1zM445.99 140h2.1v2.1h-2.1zM446.95 140.38h2.1v2.1h-2.1zM452.66 140.66h2.1v2.1h-2.1zM454.39 139.77h2.1v2.1h-2.1zM456.8 140.44h2.1v2.1h-2.1zM458.84 140.25h2.1v2.1h-2.1zM459.92 140.39h2.1v2.1h-2.1zM475.79 140.68h2.1v2.1h-2.1zM439.47 141.87h2.1v2.1h-2.1zM441.66 141.78h2.1v2.1h-2.1zM442.47 141.85h2.1v2.1h-2.1zM444.28 141.9h2.1v2.1h-2.1zM445.63 141.77h2.1v2.1h-2.1zM460.34 141.39h2.1v2.1h-2.1zM470.38 141.27h2.1v2.1h-2.1zM471.74 142.14h2.1v2.1h-2.1zM476.36 141.34h2.1v2.1h-2.1zM443.15 143.21h2.1v2.1h-2.1zM447.44 143.18h2.1v2.1h-2.1zM448.09 143.18h2.1v2.1h-2.1zM455.55 142.77h2.1v2.1h-2.1zM458.76 142.74h2.1v2.1h-2.1zM474.37 143.1h2.1v2.1h-2.1zM438.35 144.37h2.1v2.1h-2.1zM439.85 144.22h2.1v2.1h-2.1zM441.48 144.61h2.1v2.1h-2.1zM444.01 144.63h2.1v2.1h-2.1zM445.62 144.81h2.1v2.1h-2.1zM446.95 144.33h2.1v2.1h-2.1zM448.91 144.15h2.1v2.1h-2.1zM466.91 144.58h2.1v2.1h-2.1zM468.95 144.87h2.1v2.1h-2.1zM439.88 145.58h2.1v2.1h-2.1zM444.51 146.07h2.1v2.1h-2.1zM449.76 145.72h2.1v2.1h-2.1zM451.04 145.88h2.1v2.1h-2.1zM461.14 146.47h2.1v2.1h-2.1zM464.16 146.16h2.1v2.1h-2.1zM470.04 145.88h2.1v2.1h-2.1zM475.73 146.07h2.1v2.1h-2.1zM437.99 147.5h2.1v2.1h-2.1zM441.11 147.07h2.1v2.1h-2.1zM444.57 147.26h2.1v2.1h-2.1zM446.79 147.5h2.1v2.1h-2.1zM452.38 147.43h2.1v2.1h-2.1zM460.26 147.39h2.1v2.1h-2.1zM461.86 147.9h2.1v2.1h-2.1zM466.04 147.38h2.1v2.1h-2.1zM482.25 147.75h2.1v2.1h-2.1zM438.23 148.88h2.1v2.1h-2.1zM448.54 148.91h2.1v2.1h-2.1zM449.59 149.07h2.1v2.1h-2.1zM451.51 148.76h2.1v2.1h-2.1zM453 148.41h2.1v2.1h-2.1zM465.64 148.86h2.1v2.1h-2.1zM468.73 149.1h2.1v2.1h-2.1zM470.55 149.09h2.1v2.1h-2.1zM472.9 149.27h2.1v2.1h-2.1zM492.01 148.94h2.1v2.1h-2.1zM438.28 150.19h2.1v2.1h-2.1zM444.43 150.83h2.1v2.1h-2.1zM448.57 150.2h2.1v2.1h-2.1zM467.52 150.54h2.1v2.1h-2.1zM469.2 150.62h2.1v2.1h-2.1zM474.93 150.42h2.1v2.1h-2.1zM444.24 152.14h2.1v2.1h-2.1zM446.02 152.15h2.1v2.1h-2.1zM457.31 152.06h2.1v2.1h-2.1zM463.98 151.35h2.1v2.1h-2.1zM475.84 151.36h2.1v2.1h-2.1zM478.64 151.75h2.1v2.1h-2.1zM480.11 151.35h2.1v2.1h-2.1zM484.42 151.63h2.1v2.1h-2.1zM443.96 153.24h2.1v2.1h-2.1zM445.98 152.92h2.1v2.1h-2.1zM446.82 153.67h2.1v2.1h-2.1zM453.13 153.38h2.1v2.1h-2.1zM453.93 153.47h2.1v2.1h-2.1zM457.34 153.43h2.1v2.1h-2.1zM460.01 153.39h2.1v2.1h-2.1zM465.74 153.38h2.1v2.1h-2.1zM439.4 154.75h2.1v2.1h-2.1zM441.04 154.5h2.1v2.1h-2.1zM445.12 154.36h2.1v2.1h-2.1zM452.54 155.11h2.1v2.1h-2.1zM463.11 155.14h2.1v2.1h-2.1zM472.67 155.07h2.1v2.1h-2.1zM444.09 155.82h2.1v2.1h-2.1zM446.86 156.02h2.1v2.1h-2.1zM448.97 156.61h2.1v2.1h-2.1zM449.75 156.18h2.1v2.1h-2.1zM481.39 155.69h2.1v2.1h-2.1zM441.07 157.41h2.1v2.1h-2.1zM442.93 157.41h2.1v2.1h-2.1zM448.52 157.61h2.1v2.1h-2.1zM454.49 157.42h2.1v2.1h-2.1zM457.13 157.87h2.1v2.1h-2.1zM460.5 157.2h2.1v2.1h-2.1zM461.51 157.71h2.1v2.1h-2.1zM475.61 157.67h2.1v2.1h-2.1zM483.19 157.9h2.1v2.1h-2.1zM438 159.09h2.1v2.1h-2.1zM442.7 159.26h2.1v2.1h-2.1zM443.77 158.57h2.1v2.1h-2.1zM445.86 159.52h2.1v2.1h-2.1zM448.83 159.51h2.1v2.1h-2.1zM450.95 159.28h2.1v2.1h-2.1zM463.11 158.58h2.1v2.1h-2.1zM480.42 159.51h2.1v2.1h-2.1zM438.74 160.48h2.1v2.1h-2.1zM439.37 160.5h2.1v2.1h-2.1zM441.64 160.56h2.1v2.1h-2.1zM443.02 160.07h2.1v2.1h-2.1zM454.58 160.68h2.1v2.1h-2.1zM457.43 160.44h2.1v2.1h-2.1zM460.33 160.22h2.1v2.1h-2.1zM463.48 160.34h2.1v2.1h-2.1zM464.02 160.02h2.1v2.1h-2.1zM466.14 160.42h2.1v2.1h-2.1zM474.61 160.99h2.1v2.1h-2.1zM489.08 160.16h2.1v2.1h-2.1zM439.45 162.32h2.1v2.1h-2.1zM441.26 161.49h2.1v2.1h-2.1zM444.6 162.01h2.1v2.1h-2.1zM445.64 161.53h2.1v2.1h-2.1zM454.55 161.57h2.1v2.1h-2.1zM475.91 161.74h2.1v2.1h-2.1zM477.73 161.76h2.1v2.1h-2.1zM438.6 162.96h2.1v2.1h-2.1zM440.12 163.39h2.1v2.1h-2.1zM445.65 163.16h2.1v2.1h-2.1zM449.82 163.04h2.1v2.1h-2.1zM451.77 163.37h2.1v2.1h-2.1zM452.77 163.68h2.1v2.1h-2.1zM464.82 163.82h2.1v2.1h-2.1zM467.78 163.01h2.1v2.1h-2.1zM480.25 163.68h2.1v2.1h-2.1z"/>
<path stroke="#000" stroke-width="1.9" fill="none" d="M42.8 165.4H50.3M45.8 157.93H50.3M45.8 153.57H50.3M45.8 150.47H50.3M45.8 148.07H50.3M45.8 146.1H50.3M45.8 144.44H50.3M45.8 143H50.3M45.8 141.73H50.3M42.8 140.6H50.3M45.8 133.13H50.3M45.8 128.77H50.3M45.8 125.67H50.3M45.8 123.27H50.3M45.8 121.3H50.3M45.8 119.64H50.3M45.8 118.2H50.3M45.8 116.93H50.3M42.8 115.8H50.3M45.8 108.33H50.3M45.8 103.97H50.3M45.8 100.87H50.3M45.8 98.47H50.3M45.8 96.5H50.3M45.8 94.84H50.3M45.8 93.4H50.3M45.8 92.13H50.3M42.8 91H50.3M45.8 83.53H50.3M45.8 79.17H50.3M45.8 76.07H50.3M45.8 73.67H50.3M45.8 71.7H50.3M45.8 70.04H50.3M45.8 68.6H50.3M45.8 67.33H50.3M42.8 66.2H50.3M51.5 167.8V175.3M59.7 167.8V172.3M64.49 167.8V172.3M67.89 167.8V172.3M70.53 167.8V172.3M72.69 167.8V172.3M74.51 167.8V172.3M76.09 167.8V172.3M77.48 167.8V172.3M78.72 167.8V175.3M86.92 167.8V172.3M91.71 167.8V172.3M95.12 167.8V172.3M97.75 167.8V172.3M99.91 167.8V172.3M101.73 167.8V172.3M103.31 167.8V172.3M104.7 167.8V172.3M105.95 167.8V175.3M114.15 167.8V172.3M118.94 167.8V172.3M122.34 167.8V172.3M124.98 167.8V172.3M127.14 167.8V172.3M128.96 167.8V172.3M130.54 167.8V172.3M131.93 167.8V172.3M133.18 167.8V175.3M141.37 167.8V172.3M146.16 167.8V172.3M149.57 167.8V172.3M152.2 167.8V172.3M154.36 167.8V172.3M156.18 167.8V172.3M157.76 167.8V172.3M159.15 167.8V172.3M160.4 167.8V175.3"/>
<path stroke="#000" stroke-width="2.5" fill="none" d="M50.3 140.3H161.9M79.8 64.4V167.8"/>
<rect x="50.3" y="64.4" width="111.6" height="103.4" fill="none" stroke="#000" stroke-width="2.3"/>
<path stroke="#000" stroke-width="1.9" fill="none" d="M213.4 164.8H220.9M216.4 157.33H220.9M216.4 152.97H220.9M216.4 149.87H220.9M216.4 147.47H220.9M216.4 145.5H220.9M216.4 143.84H220.9M216.4 142.4H220.9M216.4 141.13H220.9M213.4 140H220.9M216.4 132.53H220.9M216.4 128.17H220.9M216.4 125.07H220.9M216.4 122.67H220.9M216.4 120.7H220.9M216.4 119.04H220.9M216.4 117.6H220.9M216.4 116.33H220.9M213.4 115.2H220.9M216.4 107.73H220.9M216.4 103.37H220.9M216.4 100.27H220.9M216.4 97.87H220.9M216.4 95.9H220.9M216.4 94.24H220.9M216.4 92.8H220.9M216.4 91.53H220.9M213.4 90.4H220.9M216.4 82.93H220.9M216.4 78.57H220.9M216.4 75.47H220.9M216.4 73.07H220.9M216.4 71.1H220.9M216.4 69.44H220.9M216.4 68H220.9M216.4 66.73H220.9M213.4 65.6H220.9M222.1 167.2V174.7M230.3 167.2V171.7M235.09 167.2V171.7M238.49 167.2V171.7M241.13 167.2V171.7M243.29 167.2V171.7M245.11 167.2V171.7M246.69 167.2V171.7M248.08 167.2V171.7M249.32 167.2V174.7M257.52 167.2V171.7M262.31 167.2V171.7M265.72 167.2V171.7M268.35 167.2V171.7M270.51 167.2V171.7M272.33 167.2V171.7M273.91 167.2V171.7M275.3 167.2V171.7M276.55 167.2V174.7M284.75 167.2V171.7M289.54 167.2V171.7M292.94 167.2V171.7M295.58 167.2V171.7M297.74 167.2V171.7M299.56 167.2V171.7M301.14 167.2V171.7M302.53 167.2V171.7M303.77 167.2V174.7M311.97 167.2V171.7M316.76 167.2V171.7M320.17 167.2V171.7M322.8 167.2V171.7M324.96 167.2V171.7M326.78 167.2V171.7M328.36 167.2V171.7M329.75 167.2V171.7M331 167.2V174.7"/>
<path stroke="#000" stroke-width="2.5" fill="none" d="M220.9 138H332.5M257.2 63.8V167.2"/>
<rect x="220.9" y="63.8" width="111.6" height="103.4" fill="none" stroke="#000" stroke-width="2.3"/>
<path stroke="#000" stroke-width="1.9" fill="none" d="M387.4 164.4H394.9M390.4 156.93H394.9M390.4 152.57H394.9M390.4 149.47H394.9M390.4 147.07H394.9M390.4 145.1H394.9M390.4 143.44H394.9M390.4 142H394.9M390.4 140.73H394.9M387.4 139.6H394.9M390.4 132.13H394.9M390.4 127.77H394.9M390.4 124.67H394.9M390.4 122.27H394.9M390.4 120.3H394.9M390.4 118.64H394.9M390.4 117.2H394.9M390.4 115.93H394.9M387.4 114.8H394.9M390.4 107.33H394.9M390.4 102.97H394.9M390.4 99.87H394.9M390.4 97.47H394.9M390.4 95.5H394.9M390.4 93.84H394.9M390.4 92.4H394.9M390.4 91.13H394.9M387.4 90H394.9M390.4 82.53H394.9M390.4 78.17H394.9M390.4 75.07H394.9M390.4 72.67H394.9M390.4 70.7H394.9M390.4 69.04H394.9M390.4 67.6H394.9M390.4 66.33H394.9M387.4 65.2H394.9M396.1 166.8V174.3M404.3 166.8V171.3M409.09 166.8V171.3M412.49 166.8V171.3M415.13 166.8V171.3M417.29 166.8V171.3M419.11 166.8V171.3M420.69 166.8V171.3M422.08 166.8V171.3M423.32 166.8V174.3M431.52 166.8V171.3M436.31 166.8V171.3M439.72 166.8V171.3M442.35 166.8V171.3M444.51 166.8V171.3M446.33 166.8V171.3M447.91 166.8V171.3M449.3 166.8V171.3M450.55 166.8V174.3M458.75 166.8V171.3M463.54 166.8V171.3M466.94 166.8V171.3M469.58 166.8V171.3M471.74 166.8V171.3M473.56 166.8V171.3M475.14 166.8V171.3M476.53 166.8V171.3M477.77 166.8V174.3M485.97 166.8V171.3M490.76 166.8V171.3M494.17 166.8V171.3M496.8 166.8V171.3M498.96 166.8V171.3M500.78 166.8V171.3M502.36 166.8V171.3M503.75 166.8V171.3M505 166.8V174.3"/>
<path stroke="#000" stroke-width="2.5" fill="none" d="M394.9 138H506.5M434.5 63.4V166.8"/>
<rect x="394.9" y="63.4" width="111.6" height="103.4" fill="none" stroke="#000" stroke-width="2.3"/>
<path stroke="#000" stroke-width="2.1" fill="none" d="M136 69.8V102M117.7 86.1H153.8"/>
<path stroke="#000" stroke-width="2.1" fill="none" d="M308.4 69.3V101.5M289.8 85.3H326.6"/>
<path stroke="#000" stroke-width="2.1" fill="none" d="M482.2 68.8V101.5M463.8 85.3H500"/>
<path stroke="#000" stroke-width="1.8" fill="none" d="M43.2 404.2H51M46.4 398.26H51M46.4 392.32H51M46.4 386.38H51M46.4 380.44H51M43.2 374.5H51M46.4 368.56H51M46.4 362.62H51M46.4 356.68H51M46.4 350.74H51M43.2 344.8H51M46.4 338.86H51M46.4 332.92H51M46.4 326.98H51M46.4 321.04H51M43.2 315.1H51M46.4 309.16H51M46.4 303.22H51M52.5 406V413.5M56.79 406V410.3M61.08 406V410.3M65.36 406V410.3M69.65 406V410.3M73.94 406V413.5M78.23 406V410.3M82.52 406V410.3M86.8 406V410.3M91.09 406V410.3M95.38 406V413.5M99.67 406V410.3M103.96 406V410.3M108.24 406V410.3M112.53 406V410.3M116.82 406V413.5M121.11 406V410.3M125.4 406V410.3M129.68 406V410.3M133.97 406V410.3M138.26 406V413.5M142.55 406V410.3M146.84 406V410.3M151.12 406V410.3M155.41 406V410.3M159.7 406V413.5"/>
<rect x="51" y="302.1" width="111.7" height="103.9" fill="none" stroke="#000" stroke-width="2.2"/>
<path stroke="#000" stroke-width="1.8" fill="none" d="M215.7 404.1H223.5M218.9 399.81H223.5M218.9 395.52H223.5M218.9 391.23H223.5M218.9 386.94H223.5M215.7 382.65H223.5M218.9 378.36H223.5M218.9 374.07H223.5M218.9 369.78H223.5M218.9 365.49H223.5M215.7 361.2H223.5M218.9 356.91H223.5M218.9 352.62H223.5M218.9 348.33H223.5M218.9 344.04H223.5M215.7 339.75H223.5M218.9 335.46H223.5M218.9 331.17H223.5M218.9 326.88H223.5M218.9 322.59H223.5M215.7 318.3H223.5M218.9 314.01H223.5M218.9 309.72H223.5M218.9 305.43H223.5M225 405.2V412.7M229.23 405.2V409.5M233.46 405.2V409.5M237.7 405.2V409.5M241.93 405.2V409.5M246.16 405.2V412.7M250.39 405.2V409.5M254.62 405.2V409.5M258.86 405.2V409.5M263.09 405.2V409.5M267.32 405.2V412.7M271.55 405.2V409.5M275.78 405.2V409.5M280.02 405.2V409.5M284.25 405.2V409.5M288.48 405.2V412.7M292.71 405.2V409.5M296.94 405.2V409.5M301.18 405.2V409.5M305.41 405.2V409.5M309.64 405.2V412.7M313.87 405.2V409.5M318.1 405.2V409.5M322.34 405.2V409.5M326.57 405.2V409.5M330.8 405.2V412.7"/>
<rect x="223.5" y="301.7" width="110.3" height="103.5" fill="none" stroke="#000" stroke-width="2.2"/>
<path stroke="#000" stroke-width="1.8" fill="none" d="M389.8 404H397.6M393 400.41H397.6M393 396.82H397.6M393 393.23H397.6M393 389.64H397.6M389.8 386.05H397.6M393 382.46H397.6M393 378.87H397.6M393 375.28H397.6M393 371.69H397.6M389.8 368.1H397.6M393 364.51H397.6M393 360.92H397.6M393 357.33H397.6M393 353.74H397.6M389.8 350.15H397.6M393 346.56H397.6M393 342.97H397.6M393 339.38H397.6M393 335.79H397.6M389.8 332.2H397.6M393 328.61H397.6M393 325.02H397.6M393 321.43H397.6M393 317.84H397.6M389.8 314.25H397.6M393 310.66H397.6M393 307.07H397.6M393 303.48H397.6M399.1 405.2V412.7M403.34 405.2V409.5M407.57 405.2V409.5M411.81 405.2V409.5M416.04 405.2V409.5M420.28 405.2V412.7M424.52 405.2V409.5M428.75 405.2V409.5M432.99 405.2V409.5M437.22 405.2V409.5M441.46 405.2V412.7M445.7 405.2V409.5M449.93 405.2V409.5M454.17 405.2V409.5M458.4 405.2V409.5M462.64 405.2V412.7M466.88 405.2V409.5M471.11 405.2V409.5M475.35 405.2V409.5M479.58 405.2V409.5M483.82 405.2V412.7M488.06 405.2V409.5M492.29 405.2V409.5M496.53 405.2V409.5M500.76 405.2V409.5M505 405.2V412.7"/>
<rect x="397.6" y="301.2" width="110.4" height="104" fill="none" stroke="#000" stroke-width="2.2"/>
<path stroke="#000" stroke-width="1.8" fill="none" d="M47.3 584.6H55.1M50.5 580.57H55.1M50.5 576.54H55.1M50.5 572.51H55.1M50.5 568.48H55.1M47.3 564.45H55.1M50.5 560.42H55.1M50.5 556.39H55.1M50.5 552.36H55.1M50.5 548.33H55.1M47.3 544.3H55.1M50.5 540.27H55.1M50.5 536.24H55.1M50.5 532.21H55.1M50.5 528.18H55.1M47.3 524.15H55.1M50.5 520.12H55.1M50.5 516.09H55.1M50.5 512.06H55.1M50.5 508.03H55.1M47.3 504H55.1M50.5 499.97H55.1M50.5 495.94H55.1M50.5 491.91H55.1M50.5 487.88H55.1M47.3 483.85H55.1M56.6 586V593.5M60.76 586V590.3M64.92 586V590.3M69.08 586V590.3M73.24 586V590.3M77.4 586V593.5M81.56 586V590.3M85.72 586V590.3M89.88 586V590.3M94.04 586V590.3M98.2 586V593.5M102.36 586V590.3M106.52 586V590.3M110.68 586V590.3M114.84 586V590.3M119 586V593.5M123.16 586V590.3M127.32 586V590.3M131.48 586V590.3M135.64 586V590.3M139.8 586V593.5M143.96 586V590.3M148.12 586V590.3M152.28 586V590.3M156.44 586V590.3M160.6 586V593.5"/>
<rect x="55.1" y="481.8" width="108.5" height="104.2" fill="none" stroke="#000" stroke-width="2.2"/>
<path stroke="#000" stroke-width="1.8" fill="none" d="M214.2 584.2H222M217.4 578.11H222M217.4 572.02H222M217.4 565.93H222M217.4 559.84H222M214.2 553.75H222M217.4 547.66H222M217.4 541.57H222M217.4 535.48H222M217.4 529.39H222M214.2 523.3H222M217.4 517.21H222M217.4 511.12H222M217.4 505.03H222M217.4 498.94H222M214.2 492.85H222M217.4 486.76H222M223.5 585.2V592.7M227.81 585.2V589.5M232.12 585.2V589.5M236.44 585.2V589.5M240.75 585.2V589.5M245.06 585.2V592.7M249.37 585.2V589.5M253.68 585.2V589.5M258 585.2V589.5M262.31 585.2V589.5M266.62 585.2V592.7M270.93 585.2V589.5M275.24 585.2V589.5M279.56 585.2V589.5M283.87 585.2V589.5M288.18 585.2V592.7M292.49 585.2V589.5M296.8 585.2V589.5M301.12 585.2V589.5M305.43 585.2V589.5M309.74 585.2V592.7M314.05 585.2V589.5M318.36 585.2V589.5M322.68 585.2V589.5M326.99 585.2V589.5M331.3 585.2V592.7"/>
<rect x="222" y="481" width="112.3" height="104.2" fill="none" stroke="#000" stroke-width="2.2"/>
<path stroke="#000" stroke-width="1.8" fill="none" d="M390.5 584.2H398.3M393.7 579.8H398.3M393.7 575.4H398.3M393.7 571H398.3M393.7 566.6H398.3M390.5 562.2H398.3M393.7 557.8H398.3M393.7 553.4H398.3M393.7 549H398.3M393.7 544.6H398.3M390.5 540.2H398.3M393.7 535.8H398.3M393.7 531.4H398.3M393.7 527H398.3M393.7 522.6H398.3M390.5 518.2H398.3M393.7 513.8H398.3M393.7 509.4H398.3M393.7 505H398.3M393.7 500.6H398.3M390.5 496.2H398.3M393.7 491.8H398.3M393.7 487.4H398.3M393.7 483H398.3M399.8 585.3V592.8M404.04 585.3V589.6M408.28 585.3V589.6M412.52 585.3V589.6M416.76 585.3V589.6M421 585.3V592.8M425.24 585.3V589.6M429.48 585.3V589.6M433.72 585.3V589.6M437.96 585.3V589.6M442.2 585.3V592.8M446.44 585.3V589.6M450.68 585.3V589.6M454.92 585.3V589.6M459.16 585.3V589.6M463.4 585.3V592.8M467.64 585.3V589.6M471.88 585.3V589.6M476.12 585.3V589.6M480.36 585.3V589.6M484.6 585.3V592.8M488.84 585.3V589.6M493.08 585.3V589.6M497.32 585.3V589.6M501.56 585.3V589.6M505.8 585.3V592.8"/>
<rect x="398.3" y="481.2" width="110.5" height="104.1" fill="none" stroke="#000" stroke-width="2.2"/>
<path stroke="#000" stroke-width="1.8" fill="none" d="M45.9 764.4H53.7M49.1 760.15H53.7M49.1 755.9H53.7M49.1 751.65H53.7M49.1 747.4H53.7M45.9 743.15H53.7M49.1 738.9H53.7M49.1 734.65H53.7M49.1 730.4H53.7M49.1 726.15H53.7M45.9 721.9H53.7M49.1 717.65H53.7M49.1 713.4H53.7M49.1 709.15H53.7M49.1 704.9H53.7M45.9 700.65H53.7M49.1 696.4H53.7M49.1 692.15H53.7M49.1 687.9H53.7M49.1 683.65H53.7M45.9 679.4H53.7M49.1 675.15H53.7M49.1 670.9H53.7M49.1 666.65H53.7M55.2 765.5V773M59.43 765.5V769.8M63.66 765.5V769.8M67.9 765.5V769.8M72.13 765.5V769.8M76.36 765.5V773M80.59 765.5V769.8M84.82 765.5V769.8M89.06 765.5V769.8M93.29 765.5V769.8M97.52 765.5V773M101.75 765.5V769.8M105.98 765.5V769.8M110.22 765.5V769.8M114.45 765.5V769.8M118.68 765.5V773M122.91 765.5V769.8M127.14 765.5V769.8M131.38 765.5V769.8M135.61 765.5V769.8M139.84 765.5V773M144.07 765.5V769.8M148.3 765.5V769.8M152.54 765.5V769.8M156.77 765.5V769.8M161 765.5V773"/>
<rect x="53.7" y="662" width="110.3" height="103.5" fill="none" stroke="#000" stroke-width="2.2"/>
<path stroke="#000" stroke-width="1.8" fill="none" d="M216.7 764.2H224.5M219.9 759.31H224.5M219.9 754.42H224.5M219.9 749.53H224.5M219.9 744.64H224.5M216.7 739.75H224.5M219.9 734.86H224.5M219.9 729.97H224.5M219.9 725.08H224.5M219.9 720.19H224.5M216.7 715.3H224.5M219.9 710.41H224.5M219.9 705.52H224.5M219.9 700.63H224.5M219.9 695.74H224.5M216.7 690.85H224.5M219.9 685.96H224.5M219.9 681.07H224.5M219.9 676.18H224.5M219.9 671.29H224.5M216.7 666.4H224.5M226 764.8V772.3M230.23 764.8V769.1M234.46 764.8V769.1M238.68 764.8V769.1M242.91 764.8V769.1M247.14 764.8V772.3M251.37 764.8V769.1M255.6 764.8V769.1M259.82 764.8V769.1M264.05 764.8V769.1M268.28 764.8V772.3M272.51 764.8V769.1M276.74 764.8V769.1M280.96 764.8V769.1M285.19 764.8V769.1M289.42 764.8V772.3M293.65 764.8V769.1M297.88 764.8V769.1M302.1 764.8V769.1M306.33 764.8V769.1M310.56 764.8V772.3M314.79 764.8V769.1M319.02 764.8V769.1M323.24 764.8V769.1M327.47 764.8V769.1M331.7 764.8V772.3"/>
<rect x="224.5" y="661.4" width="110.2" height="103.4" fill="none" stroke="#000" stroke-width="2.2"/>
<path stroke="#000" stroke-width="1.8" fill="none" d="M391.7 763.9H399.5M394.9 759.83H399.5M394.9 755.76H399.5M394.9 751.69H399.5M394.9 747.62H399.5M391.7 743.55H399.5M394.9 739.48H399.5M394.9 735.41H399.5M394.9 731.34H399.5M394.9 727.27H399.5M391.7 723.2H399.5M394.9 719.13H399.5M394.9 715.06H399.5M394.9 710.99H399.5M394.9 706.92H399.5M391.7 702.85H399.5M394.9 698.78H399.5M394.9 694.71H399.5M394.9 690.64H399.5M394.9 686.57H399.5M391.7 682.5H399.5M394.9 678.43H399.5M394.9 674.36H399.5M394.9 670.29H399.5M394.9 666.22H399.5M391.7 662.15H399.5M401 764.9V772.4M405.22 764.9V769.2M409.43 764.9V769.2M413.65 764.9V769.2M417.86 764.9V769.2M422.08 764.9V772.4M426.3 764.9V769.2M430.51 764.9V769.2M434.73 764.9V769.2M438.94 764.9V769.2M443.16 764.9V772.4M447.38 764.9V769.2M451.59 764.9V769.2M455.81 764.9V769.2M460.02 764.9V769.2M464.24 764.9V772.4M468.46 764.9V769.2M472.67 764.9V769.2M476.89 764.9V769.2M481.1 764.9V769.2M485.32 764.9V772.4M489.54 764.9V769.2M493.75 764.9V769.2M497.97 764.9V769.2M502.18 764.9V769.2M506.4 764.9V772.4"/>
<rect x="399.5" y="660.8" width="109.9" height="104.1" fill="none" stroke="#000" stroke-width="2.2"/>
<path d="M52.2 374.2 53.8 355.7 56.1 337.2 58.4 318.8 60.7 303.2 65.3 303.2 66.5 311.8 67.6 332.6 69.2 355.7 71.1 371.8 73.4 383.4 75.7 389.2 82.6 391.5 88.4 393.8 94.2 396.8 98.8 400.7 102.2 404" fill="none" stroke="#000" stroke-width="2.8" stroke-dasharray="2.8 2.8" stroke-linejoin="round"/>
<path d="M52.2 385.7 53.8 383.4 56.8 379.9 58.4 367.2 60.7 344.2 63 328 65.3 316.5 67.6 307.2 69.9 303 71.1 303.4 72.9 316.5 74.5 332.6 76.2 344.2 78 355.7 80.3 361.5 83.8 364.9 86.1 374.2 89.5 381.1 94.2 384.5 101.1 386.8 106.8 390.3 110.3 394.9 112.6 400.7 113.8 403.6" fill="none" stroke="#26a626" stroke-width="2.4" stroke-linejoin="round" stroke-linecap="round"/>
<path d="M52.2 403.6 54.9 401.9 59.5 397.2 64.2 390.3 67.6 383.4 71.1 378.8 73.4 375.3 75.7 367.2 78 358 80.3 348.8 82.2 337.2 83.1 325.7 84.3 318.6 86.1 325.7 88.4 326.8 91.8 328 95.3 329.2 97.6 333.8 99.9 339.5 102.2 347.6 104.5 355.7 106.8 364.9 109.2 374.2 111.5 379.9 114.9 384.5 117.2 390.3 119.5 397.2 121.8 403.6" fill="none" stroke="#e11d45" stroke-width="2.4" stroke-linejoin="round" stroke-linecap="round"/>
<path d="M52.2 403.6 57.2 403 66.5 401.4 71.1 399.5 75.7 394.9 80.3 388 84.9 376.5 88.4 367.2 91.8 355.7 95.3 344.2 97.6 332.6 99.9 321.1 102.2 309.5 104.3 303.6 106.8 309.5 108.5 321.1 110.3 337.2 112.6 355.7 114.9 371.8 117.2 385.7 119.5 394.9 123 403 125.3 403.6" fill="none" stroke="#2e6fd3" stroke-width="2.4" stroke-linejoin="round" stroke-linecap="round"/>
<path d="M225.6 390.3 228.1 367.2 229.7 344.2 231.5 333.8 233.8 332.6 237.3 333.1 238.9 339.5 240.3 358 241.2 374.2 243.1 386.8 246.5 391.5 250 394.9 254.6 400.7 258.1 403.4" fill="none" stroke="#000" stroke-width="2.8" stroke-dasharray="2.8 2.8" stroke-linejoin="round"/>
<path d="M225.2 401.9 228.1 394.9 231.5 390.3 237.3 388 241.9 383.4 245.4 376.5 247.7 369.5 250 355.7 252.3 337.2 254.2 316.5 255.8 302.8 257.4 318.8 258.8 332.6 261.5 344.2 263.8 358 266.2 374.2 268.5 384.5 271.9 388 280 389.2 289.2 389.2 298.5 390.3 303.1 394.9 306.5 400.7 308.8 403.4" fill="none" stroke="#e11d45" stroke-width="2.4" stroke-linejoin="round" stroke-linecap="round"/>
<path d="M225.2 403.4 233.8 403 245.4 400.7 252.3 394.9 255.8 385.7 258.1 371.8 260.4 353.4 262.7 337.2 265 318.8 267.3 311.8 269.2 307.2 270.3 302.8 271.9 309.5 273.5 325.7 275.4 344.2 277.2 367.2 280 390.3 284.6 394.9 291.5 398.4 298.5 400.7 304.2 403 306.5 403.4" fill="none" stroke="#2e6fd3" stroke-width="2.4" stroke-linejoin="round" stroke-linecap="round"/>
<path d="M225.2 403.4 231.5 400.7 240.8 398.4 250 396.1 259.2 392.6 266.2 393.8 269.6 398.4 273.1 392.6 277.7 390.3 278.8 367.2 280.5 332.6 281.8 311.8 282.8 302.8 284.6 311.8 286.5 325.7 288.1 344.2 289.2 362.6 290.4 381.1 292.7 384.5 295 389.2 298.5 392.6 305.4 397.2 311.2 399.5 314.6 403 316.9 403.4" fill="none" stroke="#26a626" stroke-width="2.4" stroke-linejoin="round" stroke-linecap="round"/>
<path d="M399.2 374.2 401.5 355.7 403.8 332.6 406.2 314.2 408.5 303.8 410.8 311.8 413.1 325.7 415.4 344.2 417.7 362.6 420 376.5 422.3 384.5 425.8 389.2 430.4 390.3 435 392.6 438.5 394.9" fill="none" stroke="#000" stroke-width="2.8" stroke-dasharray="2.8 2.8" stroke-linejoin="round"/>
<path d="M399.2 391.5 403.8 389.2 408.5 386.8 411.9 384.5 413.8 377.6 415.4 383.4 417.7 388 421.2 392.6 424.6 396.1 429.2 397.7 436.2 398.4 443.1 399.5" fill="none" stroke="#e11d45" stroke-width="2.4" stroke-linejoin="round" stroke-linecap="round"/>
<path d="M399.2 378.8 402.7 371.8 406.2 358 409.6 341.8 411.9 330.3 414.2 329.2 416.5 332.6 418.8 344.2 421.2 362.6 423.5 376.5 425.8 388 429.2 394.9 433.8 398.4 439.6 399.5 445.4 400 452.3 401.2 459.2 401.9 463.8 401.9 466.2 403.4" fill="none" stroke="#2e6fd3" stroke-width="2.4" stroke-linejoin="round" stroke-linecap="round"/>
<path d="M399.2 388 401.1 376.5 402.7 360.3 405 339.5 407.3 321.1 409.6 304.9 411.9 310.7 414.2 315.3 415.8 321.1 417.7 339.5 419.5 358 421.2 371.8 423.5 383.4 426.9 388 431.5 389.2 435 392.6 438.5 394.9 441.9 397.2 445.4 394.9 447.7 390.3 449.5 392.6 451.2 397.2 454.6 400.7 459.2 401.9 462.7 402.3 465.7 403.4" fill="none" stroke="#26a626" stroke-width="2.4" stroke-linejoin="round" stroke-linecap="round"/>
<path d="M60.4 505.7 63.8 496.9 66.2 496 68.5 496.5 70.3 508 71.9 524.2 73.5 542.6 75.4 558.8 77.7 570.3 80 579.5 82.3 583.2" fill="none" stroke="#000" stroke-width="2.8" stroke-dasharray="2.8 2.8" stroke-linejoin="round"/>
<path d="M82.3 583.6 99.6 583.6" fill="none" stroke="#000" stroke-width="1.6"/>
<path d="M56.2 501.1 58.1 503.4 59.7 514.9 61.5 524.2 63.4 519.5 65 510.3 66.6 501.1 68 501.1 69.6 510.3 71.2 521.8 73.1 535.7 75.4 547.2 77.7 551.9 80 557.6 83.5 561.1 86.9 564.5 89.2 568 91.5 574.9 95 579.5 100.8 580.7 105.4 580.7 108.8 578.4 111.2 581.9 113.5 583.6" fill="none" stroke="#26a626" stroke-width="2.4" stroke-linejoin="round" stroke-linecap="round"/>
<path d="M56.2 529.9 56.9 524.2 59.2 517.2 62.7 511.5 67.3 508 73.1 506.2 76.5 508 80 512.6 83.5 519.5 86.9 527.6 89.2 538 91.5 549.5 93.8 551.9 96.2 544.9 98.5 538 101.9 536.8 104.2 544.9 106.5 556.5 108.8 563.4 111.2 569.2 114.6 574.9 118.1 580.7 121.5 583.6" fill="none" stroke="#e11d45" stroke-width="2.4" stroke-linejoin="round" stroke-linecap="round"/>
<path d="M56.2 563.4 59.2 559.9 62.7 556.5 66.2 548.4 68.5 549.5 71.9 547.2 75.4 543.8 77.7 535.7 80 524.2 83.5 518.4 86.9 512.6 88.8 501.1 90.4 494.2 92.2 503.4 93.8 508 95.5 494.2 97.3 501.1 99.2 508 100.8 517.2 102.6 528.8 104.9 540.3 106.5 551.9 108.8 558.8 111.2 563.4 113.5 569.2 116.9 577.2 119.2 583 120.4 583.6" fill="none" stroke="#2e6fd3" stroke-width="2.4" stroke-linejoin="round" stroke-linecap="round"/>
<path d="M223.8 557 225.8 547.2 228.8 535.7 231.1 519.5 232.7 505.7 234.3 491.8 236 482.5" fill="none" stroke="#000" stroke-width="2.8" stroke-dasharray="2.8 2.8" stroke-linejoin="round"/>
<path d="M236.6 483 237.3 501.1 238.5 519.5 239.6 538 241.2 551.9 243.1 563.4 245.4 572.6 247.7 577.2 250 580.7" fill="none" stroke="#000" stroke-width="2.8" stroke-dasharray="2.8 2.8" stroke-linejoin="round"/>
<path d="M232.7 583.4 235 579.5 237.3 570.3 239.6 554.2 241.9 533.4 243.1 526.5 245.4 521.8 247.2 505.7 248.8 491.8 250.5 482.5 251.8 489.5 253.5 503.4 255.1 519.5 256.9 538 259.2 554.2 261.5 562.2 265 564.5 267.3 570.3 268.9 579.5 270.3 583.4" fill="none" stroke="#26a626" stroke-width="2.4" stroke-linejoin="round" stroke-linecap="round"/>
<path d="M241.9 583.4 245.4 574.9 247.7 563.4 249.5 547.2 251.2 528.8 252.8 519.5 254.2 503.4 255.8 489.5 256.5 482.5 258.1 491.8 259.7 505.7 261.5 519.5 263.8 533.4 266.2 547.2 268.5 556.5 271.9 561.1 274.2 565.7 275.9 574.9 277.7 583.4" fill="none" stroke="#e11d45" stroke-width="2.4" stroke-linejoin="round" stroke-linecap="round"/>
<path d="M247.7 583.4 254.6 579.5 259.2 572.6 262.7 565.7 265 556.5 266.8 542.6 268.5 524.2 269.6 508 270.8 494.2 271.9 483.8 273.5 484.9 275.4 487.2 276.5 496.5 277.7 512.6 278.8 533.4 280.5 551.9 282.3 565.7 284.6 574.9 288.1 579.5 292.7 580.7 295 583 296.2 583.4" fill="none" stroke="#2e6fd3" stroke-width="2.4" stroke-linejoin="round" stroke-linecap="round"/>
<path d="M400.8 551.9 403.1 531.1 404.7 517.2 406.5 511.5 408.8 510.3 410.7 516.1 412.3 531.1 413.9 547.2 415.8 558.8 418.1 566.9 421.5 571.5 426.2 574.9 430.8 578.4 435.4 581.9 437.7 583.4" fill="none" stroke="#000" stroke-width="2.8" stroke-dasharray="2.8 2.8" stroke-linejoin="round"/>
<path d="M400.8 574.9 403.1 570.3 405.4 563.4 407.7 554.2 409.3 535.7 410.7 508 411.8 491.8 413 482.6 413.9 496.5 415.3 519.5 416.9 535.7 419.2 549.5 421.5 558.8 425 559.9 428.5 561.1 430.8 565.7 433.1 571.5 436.5 576.1 441.2 574.9 445.8 574.9 450.4 574.9 455 574.9 460.8 576.1 464.2 579.5 466.5 583.4" fill="none" stroke="#26a626" stroke-width="2.4" stroke-linejoin="round" stroke-linecap="round"/>
<path d="M400.8 556.5 403.1 558.8 406.5 556.5 409.3 547.2 412.3 531.1 415.3 512.6 418.1 496.5 419.9 484.9 421.5 482.2 423.2 487.2 423.8 482.6 425 496.5 426.8 512.6 428.5 524.2 429.6 527.6 430.8 524.2 431.9 538 433.8 549.5 436.1 558.8 438.8 563.4 442.3 569.2 446.9 572.6 451.5 573.1 455 574.9 458.5 579.5 460.8 583.4" fill="none" stroke="#e11d45" stroke-width="2.4" stroke-linejoin="round" stroke-linecap="round"/>
<path d="M400.8 574.9 403.1 579.5 406.5 579.5 410 577.2 413.5 572.6 415.8 565.7 418.1 554.2 420.8 540.3 423.8 524.2 426.2 510.3 428.5 496.5 430.1 484.9 431 482.4 432.4 489.5 433.8 505.7 435.4 524.2 437 542.6 438.4 558.8 440 570.3 442.3 577.2 445.8 579.5 451.5 580.7 456.2 581.9 459.6 583.4" fill="none" stroke="#2e6fd3" stroke-width="2.4" stroke-linejoin="round" stroke-linecap="round"/>
<path d="M55.1 744.7 56.9 726.2 58.8 710.1 60.4 697.4 62.7 691.6 65.7 690.5 68 693.9 69.6 707.8 71.2 726.2 72.6 740.1 74.2 749.3 77.7 752.8 82.3 755.1 85.8 758.5 90.4 761.3 93.8 762" fill="none" stroke="#000" stroke-width="2.8" stroke-dasharray="2.8 2.8" stroke-linejoin="round"/>
<path d="M55.1 747 56.9 740.1 59.2 726.2 61.5 703.2 63.4 680.1 64.5 666.2 65.7 663 67.3 663 68.5 673.2 70.3 682.4 71.9 691.6 73.1 707.8 74.2 723.9 75.4 737.8 77.2 735.5 78.8 728.5 80.5 735.5 83.5 738.9 88.1 741.2 92.7 743.5 97.3 748.2 101.9 753.9 106.5 755.1 111.2 752.8 115.8 749.3 119.2 750.5 122.7 753.9 125 758.5 127.3 763" fill="none" stroke="#26a626" stroke-width="2.4" stroke-linejoin="round" stroke-linecap="round"/>
<path d="M55.1 703.2 56.5 712.4 58.1 728.5 59.7 723.9 61.5 717 64.3 712.4 67.3 710.1 70.3 707.8 73.1 700.8 75.8 691.6 77.7 683.5 79.3 698.5 80.7 710.1 82.3 719.3 84.2 710.1 85.8 705.5 87.4 712.4 90.4 719.3 93.8 723.9 96.2 730.9 98.5 737.8 101.9 741.2 105.4 744.7 107.7 753.9 109.5 763" fill="none" stroke="#e11d45" stroke-width="2.4" stroke-linejoin="round" stroke-linecap="round"/>
<path d="M55.1 759.7 59.2 758.5 63.8 756.2 68.5 750.5 71.9 740.1 74.9 726.2 77.7 714.7 80.5 705.5 83.5 699.7 85.8 702 88.1 708.9 90.4 703.2 92 700.8 93.8 712.4 96.2 707.8 98.5 696.2 100.8 682.4 103.1 670.8 105.4 663 107.7 666.2 110 680.1 112.3 698.5 114.6 719.3 116.9 737.8 119.2 749.3 121.5 753.9 123.8 758.5 126.2 763" fill="none" stroke="#2e6fd3" stroke-width="2.4" stroke-linejoin="round" stroke-linecap="round"/>
<path d="M226.9 747 228.8 730.9 230.4 712.4 232 696.2 233.8 690.5 236.2 689.3 238 693.9 239.6 707.8 240.8 726.2 241.9 740.1 244.2 747 248.8 751.6 254.6 753.9 260.4 756.2 266.2 758.5 269.6 760.9" fill="none" stroke="#000" stroke-width="2.8" stroke-dasharray="2.8 2.8" stroke-linejoin="round"/>
<path d="M226.2 744.7 228.1 742.4 230.4 735.5 232.7 721.6 235 703.2 237.3 689.3 239.6 675.5 241.9 663.9 243.1 662.5 244.9 670.8 247.2 682.4 249.5 691.6 251.8 703.2 254.2 714.7 256.5 726.2 258.1 733.2 260.4 737.8 265 740.1 269.6 742.4 274.2 743.5 277.7 745.9 279.5 749.3 281.8 756.2 284.6 762.5" fill="none" stroke="#26a626" stroke-width="2.4" stroke-linejoin="round" stroke-linecap="round"/>
<path d="M226.2 756.2 228.1 749.3 230.4 742.4 232.7 738.9 234.3 744.7 236.6 756.2 238.5 758.5 240.3 744.7 242.6 740.1 245.4 736.6 248.8 730.9 252.3 721.6 255.8 712.4 258.1 703.2 259.7 691.6 261.1 687 262.7 698.5 264.3 710.1 266.2 712.4 268 698.5 270.3 680.1 273.1 663.9 275.4 662.3 278.8 662.5 280.5 675.5 281.8 698.5 283.5 721.6 285.8 730.9 289.2 735.5 293.8 737.8 297.3 738.9 299.6 742.4 301.9 749.3 304.2 756.2 307.7 760.9 312.3 762.5" fill="none" stroke="#e11d45" stroke-width="2.4" stroke-linejoin="round" stroke-linecap="round"/>
<path d="M226.2 762.5 230.4 762 236.2 759.7 241.9 756.2 246.5 751.6 250 744.7 252.8 735.5 255.1 726.2 257.4 719.3 260.4 717 262.7 710.1 265 693.9 267.3 680.1 268.9 668.5 270.3 662.3 271.9 670.8 273.5 691.6 274.9 714.7 276.5 733.2 278.2 744.7 280.5 753.9 283.5 759.7 288.1 760.9 296.2 762 305.4 762 311.2 761.3 313.5 762.5" fill="none" stroke="#2e6fd3" stroke-width="2.4" stroke-linejoin="round" stroke-linecap="round"/>
<path d="M401.9 736.6 404.2 721.6 406.5 703.2 408.8 687 411.2 673.2 413 663.5 414.6 673.2 416.2 689.3 417.6 707.8 419.2 726.2 420.8 735.5" fill="none" stroke="#000" stroke-width="2.8" stroke-dasharray="2.8 2.8" stroke-linejoin="round"/>
<path d="M425 753.9 429.6 752.8 435.4 751.6 441.2 756.2 445.8 760.9" fill="none" stroke="#000" stroke-width="2.8" stroke-dasharray="2.8 2.8" stroke-linejoin="round"/>
<path d="M401.9 762.5 408.8 762 412.3 760.9 413.9 749.3 415.8 740.1 418.1 738.9 419.9 744.7 421.5 753.9 423.8 758.5 426.2 744.7 428.5 737.8 431.5 733.2 434.2 721.6 436.5 703.2 438.8 691.6 441.2 680.1 443.5 666.2 444.6 662.3 446.9 662.5 448.5 673.2 450.4 663.9 452.2 675.5 453.8 691.6 456.2 703.2 458.5 710.1 460.8 712.4 463.8 713.5 466.5 712.4 468.8 717 471.2 723.9 473.5 730.9 475.8 740.1 478.1 749.3 480.4 758.5 482.7 762 488.5 762.5" fill="none" stroke="#e11d45" stroke-width="2.4" stroke-linejoin="round" stroke-linecap="round"/>
<path d="M401.9 762.5 406.5 759.7 411.2 760.9 418.1 760.4 427.3 758.5 436.5 756.2 442.3 753.9 445.3 747 447.6 733.2 449.2 714.7 450.4 691.6 451.5 675.5 453.2 666.2 454.5 662.3 456.2 668.5 457.8 684.7 459.6 710.1 461.5 733.2 463.8 749.3 466.5 758.5 471.2 760.9 480.4 762 488.5 762.5 490.8 762.5" fill="none" stroke="#2e6fd3" stroke-width="2.4" stroke-linejoin="round" stroke-linecap="round"/>
<path d="M428.5 762.5 429.6 758.5 431.9 751.6 434.2 745.9 436.1 748.2 437.7 753.9 440 758.5 442.3 749.3 444.6 742.4 447.6 736.6 450.4 735.5 452.7 733.2 455.5 733.2 457.8 728.5 460.1 714.7 461.5 698.5 462.4 680.1 463.3 663.9 464.2 662.3 466.1 662.5 467.7 680.1 469.3 700.8 471.2 705.5 473 698.5 474.6 696.2 476.2 710.1 478.1 719.3 480.4 723.9 482.7 728.5 485 733.2 487.3 732 489.6 736.6 493.1 741.2 497.7 743.5 502.3 744.7 505.8 742.4 508.1 738.9" fill="none" stroke="#26a626" stroke-width="2.4" stroke-linejoin="round" stroke-linecap="round"/>
<text transform="matrix(0.3659 0 0 0.3964 1.48 30.83)" stroke-width="1.18">A</text>
<text transform="matrix(0.4028 0 0 0.4036 -0.95 275.12)" stroke-width="1.12">B</text>
<text transform="matrix(0.2295 0 0 0.2254 89.34 49.22)" stroke-width="1.98">BM</text>
<text transform="matrix(0.2323 0 0 0.2196 250.72 48.72)" stroke-width="1.99">MPB</text>
<text transform="matrix(0.2300 0 0 0.2239 440.44 48.22)" stroke-width="1.98">FL</text>
<text transform="matrix(0 -0.1880 0.1926 0 16.43 135.68)" stroke-width="1.31">c-kit</text>
<text transform="matrix(0.1849 0 0 0.1901 251.43 211.96)" stroke-width="1.07">Sca-1</text>
<text transform="matrix(0.1154 0 0 0.1186 20.97 69.89)" stroke-width="2.39">10</text>
<text transform="matrix(0.1200 0 0 0.1135 34.75 64.72)" stroke-width="2.40">4</text>
<text transform="matrix(0.1174 0 0 0.1158 20.95 171.69)" stroke-width="2.40">10</text>
<text transform="matrix(0.0702 0 0 0.1177 36.13 167.31)" stroke-width="3.08">1</text>
<text transform="matrix(0.1194 0 0 0.1172 43.53 191.29)" stroke-width="2.37">10</text>
<text transform="matrix(0.0609 0 0 0.1206 58.9 186.81)" stroke-width="3.27">1</text>
<text transform="matrix(0.1174 0 0 0.1200 151.25 191.29)" stroke-width="2.36">10</text>
<text transform="matrix(0.1259 0 0 0.1194 165.74 186.43)" stroke-width="2.28">4</text>
<text transform="matrix(0.1154 0 0 0.1186 191.17 69.89)" stroke-width="2.39">10</text>
<text transform="matrix(0.1200 0 0 0.1135 204.95 64.72)" stroke-width="2.40">4</text>
<text transform="matrix(0.1174 0 0 0.1158 191.15 171.69)" stroke-width="2.40">10</text>
<text transform="matrix(0.0702 0 0 0.1177 206.33 167.31)" stroke-width="3.08">1</text>
<text transform="matrix(0.1194 0 0 0.1172 213.73 191.29)" stroke-width="2.37">10</text>
<text transform="matrix(0.0609 0 0 0.1206 229.1 186.81)" stroke-width="3.27">1</text>
<text transform="matrix(0.1174 0 0 0.1200 321.45 191.29)" stroke-width="2.36">10</text>
<text transform="matrix(0.1259 0 0 0.1194 335.94 186.43)" stroke-width="2.28">4</text>
<text transform="matrix(0.1154 0 0 0.1186 365.17 69.89)" stroke-width="2.39">10</text>
<text transform="matrix(0.1200 0 0 0.1135 378.95 64.72)" stroke-width="2.40">4</text>
<text transform="matrix(0.1174 0 0 0.1158 365.15 171.69)" stroke-width="2.40">10</text>
<text transform="matrix(0.0702 0 0 0.1177 380.33 167.31)" stroke-width="3.08">1</text>
<text transform="matrix(0.1194 0 0 0.1172 387.73 191.29)" stroke-width="2.37">10</text>
<text transform="matrix(0.0609 0 0 0.1206 403.1 186.81)" stroke-width="3.27">1</text>
<text transform="matrix(0.1174 0 0 0.1200 495.45 191.29)" stroke-width="2.36">10</text>
<text transform="matrix(0.1259 0 0 0.1194 509.94 186.43)" stroke-width="2.28">4</text>
<text transform="matrix(0.1138 0 0 0.0923 121.82 81.23)" stroke-width="4.39">8</text>
<text transform="matrix(0.1147 0 0 0.0963 143.15 81.42)" stroke-width="4.28">4</text>
<text transform="matrix(0.1289 0 0 0.0965 118.13 98.13)" stroke-width="4.03">66</text>
<text transform="matrix(0.1252 0 0 0.0979 138.95 98.22)" stroke-width="4.06">22</text>
<text transform="matrix(0.1250 0 0 0.0965 293.65 80.83)" stroke-width="4.10">6</text>
<text transform="matrix(0.1359 0 0 0.0979 314.7 80.92)" stroke-width="3.90">2</text>
<text transform="matrix(0.1093 0 0 0.1021 290.74 98.12)" stroke-width="4.26">81</text>
<text transform="matrix(0.1225 0 0 0.1051 310.99 98.22)" stroke-width="3.97">11</text>
<text transform="matrix(0.1250 0 0 0.0979 463.75 80.53)" stroke-width="4.07">65</text>
<text transform="matrix(0.1247 0 0 0.0979 483.78 80.53)" stroke-width="4.07">13</text>
<text transform="matrix(0.1219 0 0 0.0979 465 97.03)" stroke-width="4.12">19</text>
<text transform="matrix(0.1160 0 0 0.0979 488.91 97.03)" stroke-width="4.22">3</text>
<text transform="matrix(0.1930 0 0 0.2005 61.57 450.36)" stroke-width="0.76">β1 (CD29)</text>
<text transform="matrix(0.1932 0 0 0.1888 232.07 450.21)" stroke-width="0.79">β2 (CD18)</text>
<text transform="matrix(0.2023 0 0 0.1931 399.82 450.12)" stroke-width="0.76"><tspan font-family="Liberation Serif" font-style="italic">α</tspan>1 (CD49a)</text>
<text transform="matrix(0.1987 0 0 0.1867 58.33 629.65)" stroke-width="0.78"><tspan font-family="Liberation Serif" font-style="italic">α</tspan><tspan font-family="Liberation Serif">2</tspan> (CD49b)</text>
<text transform="matrix(0.1948 0 0 0.1910 226.84 629.96)" stroke-width="0.78"><tspan font-family="Liberation Serif" font-style="italic">α</tspan>4 (CD49d)</text>
<text transform="matrix(0.1993 0 0 0.1910 401.33 629.96)" stroke-width="0.77"><tspan font-family="Liberation Serif" font-style="italic">α</tspan>5 (CD49e)</text>
<text transform="matrix(0.1954 0 0 0.1923 82.45 810.18)" stroke-width="0.77">CD34</text>
<text transform="matrix(0.1965 0 0 0.1852 251.74 809.69)" stroke-width="0.79">CD43</text>
<text transform="matrix(0.1986 0 0 0.1937 425.63 809.38)" stroke-width="0.76">CD44</text>
<text transform="matrix(0.1250 0 0 0.1158 24.89 319.39)" stroke-width="2.33">30</text>
<text transform="matrix(0.1317 0 0 0.1101 31.86 409)" stroke-width="2.33">0</text>
<text transform="matrix(0.1316 0 0 0.1186 197.33 322.49)" stroke-width="2.24">40</text>
<text transform="matrix(0.1317 0 0 0.1045 204.96 408.21)" stroke-width="2.39">0</text>
<text transform="matrix(0.1245 0 0 0.1186 371.69 318.49)" stroke-width="2.30">50</text>
<text transform="matrix(0.1171 0 0 0.1059 379.62 407.9)" stroke-width="2.51">0</text>
<text transform="matrix(0.1245 0 0 0.1186 28.39 488.19)" stroke-width="2.30">50</text>
<text transform="matrix(0.1150 0 0 0.1059 36.53 587.9)" stroke-width="2.54">0</text>
<text transform="matrix(0.1245 0 0 0.1186 196.39 497.19)" stroke-width="2.30">30</text>
<text transform="matrix(0.1254 0 0 0.1003 204.19 587.11)" stroke-width="2.50">0</text>
<text transform="matrix(0.1183 0 0 0.1214 372.35 500.39)" stroke-width="2.34">40</text>
<text transform="matrix(0.1233 0 0 0.1059 380 587.1)" stroke-width="2.45">0</text>
<text transform="matrix(0.1221 0 0 0.1158 27.65 682.49)" stroke-width="2.36">40</text>
<text transform="matrix(0.1233 0 0 0.1045 35.3 768.61)" stroke-width="2.47">0</text>
<text transform="matrix(0.1250 0 0 0.1172 198.64 670.59)" stroke-width="2.31">40</text>
<text transform="matrix(0.1233 0 0 0.1059 206.2 767.9)" stroke-width="2.45">0</text>
<text transform="matrix(0.1274 0 0 0.1186 373.08 666.89)" stroke-width="2.28">50</text>
<text transform="matrix(0.1233 0 0 0.1059 380.8 767.5)" stroke-width="2.45">0</text>
<text transform="matrix(0.1233 0 0 0.1101 47.7 426.7)" stroke-width="2.40">0</text>
<text transform="matrix(0.1093 0 0 0.1087 148.72 426.3)" stroke-width="2.57">10</text>
<text transform="matrix(0.1430 0 0 0.1045 161.82 421.61)" stroke-width="2.29">3</text>
<text transform="matrix(0.1233 0 0 0.1045 219.6 425.91)" stroke-width="2.47">0</text>
<text transform="matrix(0.1133 0 0 0.1186 320.98 425.99)" stroke-width="2.42">10</text>
<text transform="matrix(0.1281 0 0 0.1045 334.58 420.61)" stroke-width="2.42">3</text>
<text transform="matrix(0.1254 0 0 0.1059 394.19 425.6)" stroke-width="2.43">0</text>
<text transform="matrix(0.1123 0 0 0.1186 495.39 425.59)" stroke-width="2.43">10</text>
<text transform="matrix(0.1302 0 0 0.1003 508.87 420.31)" stroke-width="2.45">3</text>
<text transform="matrix(0.1171 0 0 0.0989 51.82 605.91)" stroke-width="2.60">0</text>
<text transform="matrix(0.1123 0 0 0.1144 152.69 606.3)" stroke-width="2.47">10</text>
<text transform="matrix(0.1281 0 0 0.1045 166.58 600.91)" stroke-width="2.42">3</text>
<text transform="matrix(0.1233 0 0 0.1101 219.6 605.9)" stroke-width="2.40">0</text>
<text transform="matrix(0.1123 0 0 0.1144 320.69 606)" stroke-width="2.47">10</text>
<text transform="matrix(0.1281 0 0 0.1059 334.58 600.3)" stroke-width="2.40">3</text>
<text transform="matrix(0.1150 0 0 0.1115 395.83 605.6)" stroke-width="2.47">0</text>
<text transform="matrix(0.1063 0 0 0.1186 496.74 605.59)" stroke-width="2.49">10</text>
<text transform="matrix(0.1366 0 0 0.1003 510.54 599.91)" stroke-width="2.39">3</text>
<text transform="matrix(0.1233 0 0 0.1101 50.7 785.9)" stroke-width="2.40">0</text>
<text transform="matrix(0.1123 0 0 0.1186 151.69 785.59)" stroke-width="2.43">10</text>
<text transform="matrix(0.1366 0 0 0.1059 165.54 780.3)" stroke-width="2.33">3</text>
<text transform="matrix(0.1317 0 0 0.1059 221.46 785.2)" stroke-width="2.37">0</text>
<text transform="matrix(0.1083 0 0 0.1186 323.12 785.29)" stroke-width="2.47">10</text>
<text transform="matrix(0.1281 0 0 0.1045 336.58 779.91)" stroke-width="2.42">3</text>
<text transform="matrix(0.1171 0 0 0.1059 396.52 784.8)" stroke-width="2.51">0</text>
<text transform="matrix(0.1093 0 0 0.1186 497.42 784.99)" stroke-width="2.46">10</text>
<text transform="matrix(0.1366 0 0 0.1045 510.84 779.91)" stroke-width="2.34">3</text>
<path d="M104 205.8H240.6M310.6 205.8H440" stroke="#000" stroke-width="2.2" fill="none"/>
<path d="M437.4 199 L457.6 205.6 L437.4 212.5 Z" fill="#000"/>
<rect x="0" y="127.8" width="1.3" height="1.8" fill="#000"/>
</svg>
</body></html>
